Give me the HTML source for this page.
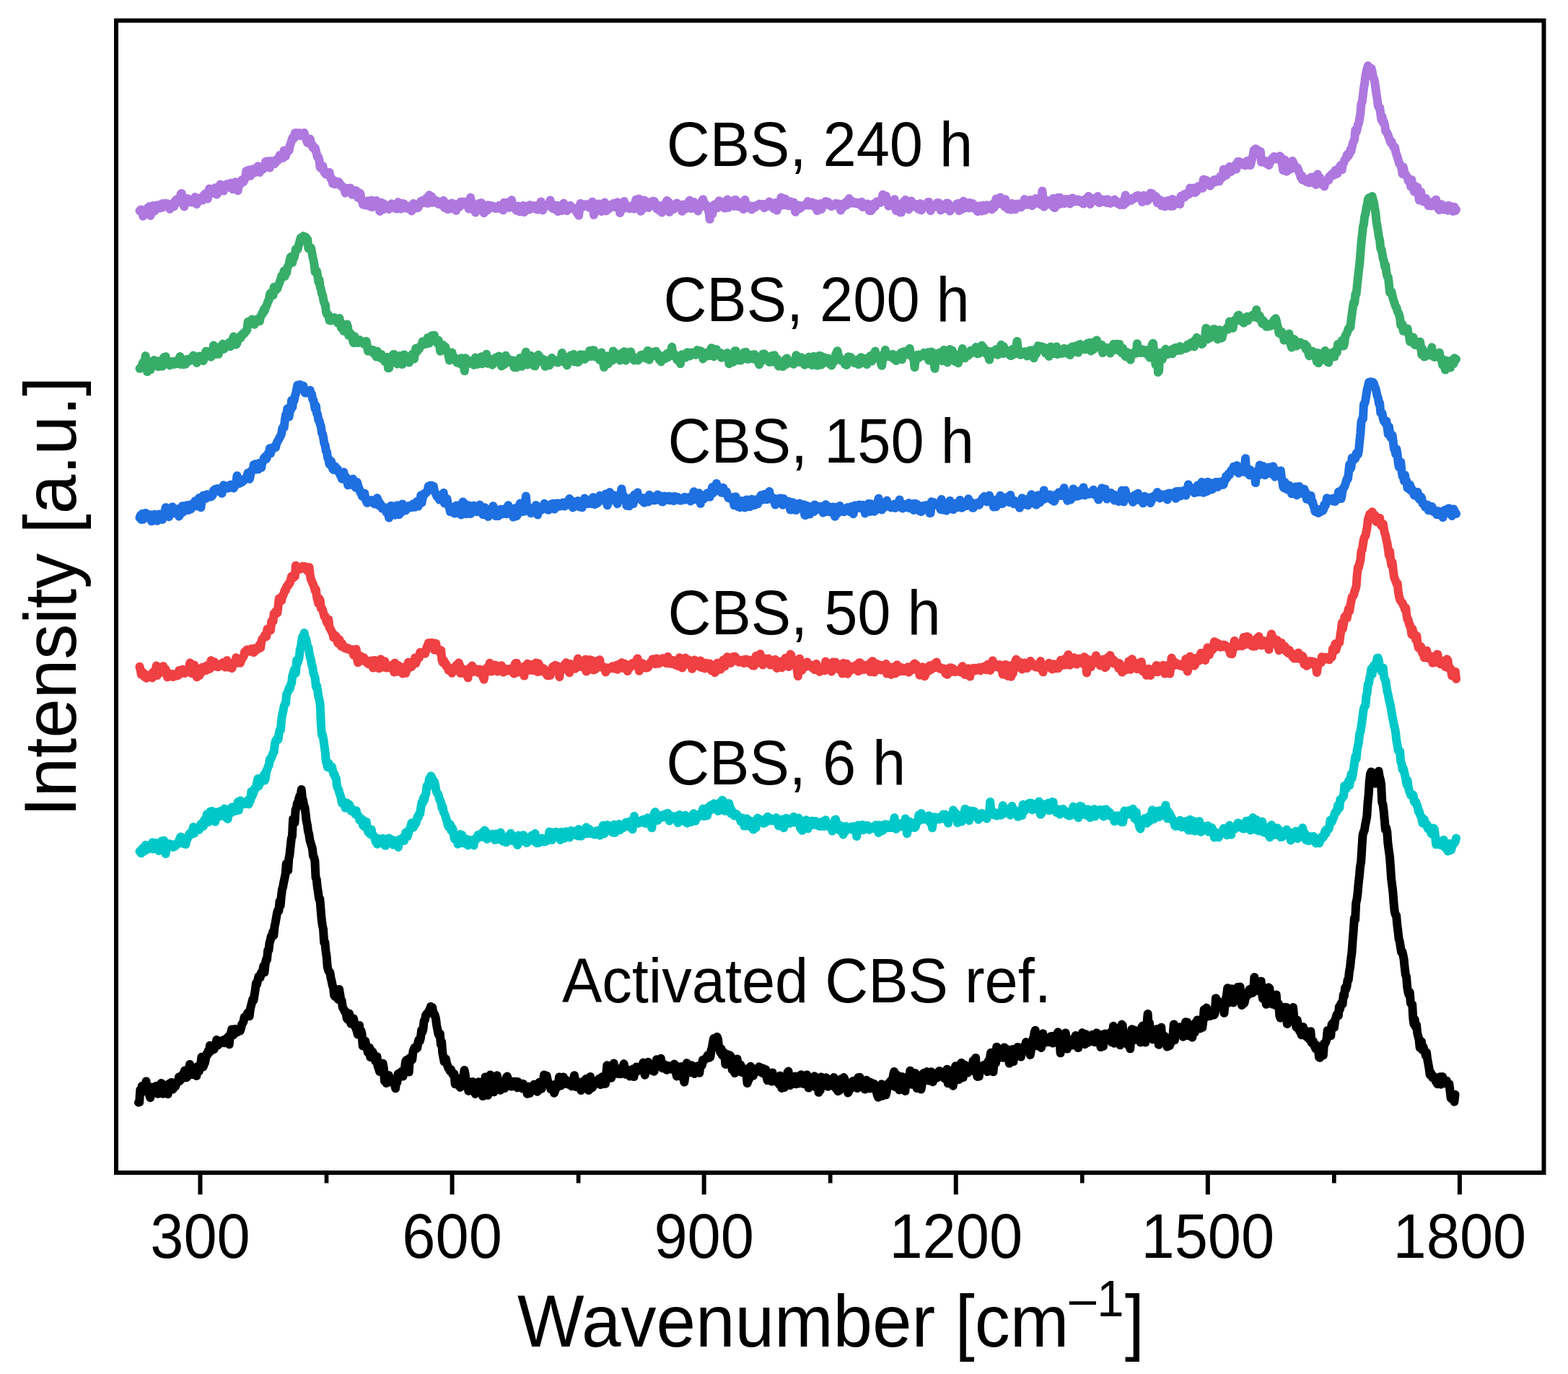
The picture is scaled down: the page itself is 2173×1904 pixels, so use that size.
<!DOCTYPE html>
<html><head><meta charset="utf-8"><title>Raman spectra</title>
<style>html,body{margin:0;padding:0;background:#fff;}svg{display:block;}</style>
</head><body>
<svg xmlns="http://www.w3.org/2000/svg" width="2173" height="1904" viewBox="0 0 2173 1904">
<rect width="2173" height="1904" fill="#fff"/>
<g fill="none" stroke-width="12" stroke-linejoin="round" stroke-linecap="round">
<path d="M192.0 1527.8 193.2 1527.3 194.3 1510.3 195.5 1514.8 196.7 1505.1 197.8 1505.5 199.0 1509.6 200.1 1506.4 201.3 1506.4 202.5 1498.4 203.6 1510.1 204.8 1509.9 206.0 1509.0 207.1 1517.8 208.3 1521.2 209.5 1514.8 210.6 1506.6 211.8 1509.4 212.9 1507.0 214.1 1507.2 215.3 1510.1 216.4 1504.9 217.6 1506.1 218.8 1515.8 219.9 1513.6 221.1 1505.9 222.3 1503.2 223.4 1501.0 224.6 1501.8 225.7 1515.8 226.9 1508.8 228.1 1504.6 229.2 1511.4 230.4 1514.5 231.6 1513.6 232.7 1516.3 233.9 1502.1 235.1 1508.2 236.2 1506.9 237.4 1499.9 238.5 1506.8 239.7 1509.5 240.9 1505.0 242.0 1501.2 243.2 1505.4 244.4 1500.9 245.5 1499.3 246.7 1499.4 247.9 1492.5 249.0 1498.0 250.2 1496.1 251.3 1495.5 252.5 1489.5 253.7 1493.8 254.8 1486.8 256.0 1483.5 257.2 1492.8 258.3 1493.3 259.5 1492.3 260.7 1486.5 261.8 1482.6 263.0 1474.9 264.1 1485.9 265.3 1488.2 266.5 1489.0 267.6 1482.6 268.8 1480.7 270.0 1484.3 271.1 1487.1 272.3 1490.9 273.5 1478.0 274.6 1480.3 275.8 1484.6 276.9 1478.2 278.1 1475.9 279.3 1464.8 280.4 1474.3 281.6 1478.5 282.8 1474.6 283.9 1473.0 285.1 1466.6 286.3 1460.5 287.4 1462.2 288.6 1455.9 289.7 1458.8 290.9 1448.7 292.1 1456.4 293.2 1450.0 294.4 1451.6 295.6 1451.7 296.7 1454.1 297.9 1449.5 299.1 1450.1 300.2 1440.9 301.4 1447.6 302.5 1448.2 303.7 1442.6 304.9 1446.1 306.0 1443.4 307.2 1444.5 308.4 1442.8 309.5 1441.0 310.7 1445.3 311.9 1442.4 313.0 1443.5 314.2 1438.7 315.3 1438.6 316.5 1436.2 317.7 1447.2 318.8 1434.5 320.0 1431.4 321.2 1426.4 322.3 1429.8 323.5 1434.3 324.7 1432.6 325.8 1426.0 327.0 1428.6 328.1 1429.2 329.3 1430.2 330.5 1427.6 331.6 1427.2 332.8 1428.5 334.0 1424.8 335.1 1419.6 336.3 1418.1 337.5 1415.4 338.6 1409.6 339.8 1409.4 340.9 1408.6 342.1 1406.3 343.3 1403.4 344.4 1403.2 345.6 1408.2 346.8 1398.3 347.9 1393.8 349.1 1389.4 350.2 1384.8 351.4 1386.2 352.6 1378.7 353.7 1372.1 354.9 1362.6 356.1 1364.1 357.2 1358.1 358.4 1353.1 359.6 1354.6 360.7 1354.5 361.9 1347.9 363.0 1349.0 364.2 1344.1 365.4 1338.6 366.5 1347.5 367.7 1335.5 368.9 1329.8 370.0 1329.7 371.2 1317.0 372.4 1316.7 373.5 1306.7 374.7 1302.9 375.8 1297.1 377.0 1298.2 378.2 1291.1 379.3 1296.2 380.5 1283.9 381.7 1278.6 382.8 1272.1 384.0 1265.0 385.2 1261.2 386.3 1262.5 387.5 1248.9 388.6 1254.9 389.8 1242.3 391.0 1232.5 392.1 1229.0 393.3 1222.1 394.5 1216.9 395.6 1211.5 396.8 1196.9 398.0 1202.3 399.1 1206.3 400.3 1189.6 401.4 1184.7 402.6 1173.3 403.8 1161.9 404.9 1158.7 406.1 1135.0 407.3 1135.3 408.4 1140.2 409.6 1122.1 410.8 1119.9 411.9 1113.0 413.1 1111.7 414.2 1106.8 415.4 1102.9 416.6 1104.1 417.7 1094.1 418.9 1105.3 420.1 1109.7 421.2 1115.6 422.4 1118.8 423.6 1128.1 424.7 1137.7 425.9 1143.0 427.0 1151.9 428.2 1155.9 429.4 1164.3 430.5 1167.9 431.7 1171.8 432.9 1175.8 434.0 1186.2 435.2 1188.1 436.4 1193.1 437.5 1215.9 438.7 1218.7 439.8 1229.4 441.0 1237.0 442.2 1245.6 443.3 1245.5 444.5 1259.9 445.7 1274.4 446.8 1282.2 448.0 1287.7 449.2 1306.4 450.3 1305.7 451.5 1318.1 452.6 1325.3 453.8 1340.1 455.0 1344.5 456.1 1346.8 457.3 1347.5 458.5 1355.3 459.6 1359.6 460.8 1365.7 462.0 1368.7 463.1 1379.2 464.3 1381.0 465.4 1376.9 466.6 1376.5 467.8 1381.3 468.9 1385.0 470.1 1370.9 471.3 1378.3 472.4 1386.2 473.6 1386.7 474.8 1396.1 475.9 1397.4 477.1 1400.2 478.2 1402.7 479.4 1402.0 480.6 1411.0 481.7 1412.5 482.9 1412.2 484.1 1404.6 485.2 1414.2 486.4 1418.7 487.6 1415.6 488.7 1418.7 489.9 1411.3 491.0 1416.5 492.2 1421.9 493.4 1425.6 494.5 1427.9 495.7 1433.5 496.9 1427.6 498.0 1420.9 499.2 1435.0 500.4 1428.3 501.5 1432.7 502.7 1449.5 503.8 1446.6 505.0 1443.7 506.2 1442.6 507.3 1448.0 508.5 1450.8 509.7 1458.3 510.8 1454.7 512.0 1451.7 513.2 1465.0 514.3 1461.8 515.5 1456.6 516.6 1458.0 517.8 1464.1 519.0 1461.9 520.1 1470.1 521.3 1471.4 522.5 1464.2 523.6 1477.5 524.8 1480.7 526.0 1484.9 527.1 1482.3 528.3 1483.0 529.4 1478.5 530.6 1473.5 531.8 1480.2 532.9 1498.0 534.1 1494.7 535.3 1501.0 536.4 1494.8 537.6 1497.6 538.8 1490.1 539.9 1493.4 541.1 1496.6 542.2 1499.7 543.4 1500.2 544.6 1499.8 545.7 1499.2 546.9 1501.0 548.1 1508.3 549.2 1499.4 550.4 1499.8 551.6 1488.1 552.7 1491.8 553.9 1492.0 555.0 1490.2 556.2 1485.0 557.4 1485.3 558.5 1491.5 559.7 1484.2 560.9 1480.4 562.0 1471.2 563.2 1469.1 564.4 1473.1 565.5 1473.7 566.7 1485.6 567.8 1465.9 569.0 1470.7 570.2 1464.4 571.3 1468.2 572.5 1456.8 573.7 1453.6 574.8 1451.4 576.0 1452.7 577.2 1453.0 578.3 1452.1 579.5 1443.7 580.6 1440.6 581.8 1442.7 583.0 1437.9 584.1 1427.4 585.3 1430.0 586.5 1425.9 587.6 1414.5 588.8 1413.7 590.0 1407.1 591.1 1405.0 592.3 1404.9 593.4 1402.9 594.6 1400.5 595.8 1398.7 596.9 1394.8 598.1 1398.7 599.3 1396.0 600.4 1405.4 601.6 1404.4 602.8 1407.0 603.9 1411.3 605.1 1420.6 606.2 1426.0 607.4 1432.4 608.6 1435.1 609.7 1432.3 610.9 1447.5 612.1 1443.7 613.2 1458.6 614.4 1464.8 615.6 1471.4 616.7 1469.7 617.9 1467.4 619.0 1473.4 620.2 1476.7 621.4 1480.4 622.5 1480.9 623.7 1484.3 624.9 1481.9 626.0 1485.2 627.2 1488.6 628.4 1489.1 629.5 1488.0 630.7 1502.3 631.8 1497.7 633.0 1499.1 634.2 1496.0 635.3 1503.9 636.5 1501.7 637.7 1506.8 638.8 1493.9 640.0 1495.2 641.1 1495.4 642.3 1492.6 643.5 1483.0 644.6 1487.9 645.8 1498.7 647.0 1501.2 648.1 1501.3 649.3 1511.7 650.5 1501.5 651.6 1499.6 652.8 1504.3 653.9 1501.1 655.1 1499.1 656.3 1500.7 657.4 1511.1 658.6 1515.9 659.8 1512.8 660.9 1504.1 662.1 1503.7 663.3 1499.2 664.4 1500.0 665.6 1501.7 666.7 1500.7 667.9 1504.6 669.1 1519.1 670.2 1502.4 671.4 1501.1 672.6 1492.4 673.7 1499.0 674.9 1510.6 676.1 1517.8 677.2 1504.1 678.4 1499.5 679.5 1489.4 680.7 1494.9 681.9 1499.5 683.0 1506.3 684.2 1513.3 685.4 1505.2 686.5 1502.8 687.7 1496.1 688.9 1490.3 690.0 1497.9 691.2 1498.6 692.3 1503.7 693.5 1510.8 694.7 1507.0 695.8 1507.1 697.0 1505.5 698.2 1505.0 699.3 1508.0 700.5 1500.0 701.7 1493.3 702.8 1491.6 704.0 1494.7 705.1 1503.2 706.3 1503.7 707.5 1499.6 708.6 1505.6 709.8 1504.7 711.0 1499.5 712.1 1498.7 713.3 1503.3 714.5 1499.9 715.6 1498.8 716.8 1507.3 717.9 1499.1 719.1 1504.2 720.3 1501.6 721.4 1502.8 722.6 1503.7 723.8 1508.4 724.9 1501.8 726.1 1505.7 727.3 1509.4 728.4 1507.1 729.6 1506.7 730.7 1515.7 731.9 1505.7 733.1 1508.7 734.2 1515.0 735.4 1508.7 736.6 1506.7 737.7 1506.8 738.9 1507.4 740.1 1502.7 741.2 1505.8 742.4 1509.1 743.5 1511.8 744.7 1512.7 745.9 1511.3 747.0 1500.1 748.2 1503.0 749.4 1504.4 750.5 1508.8 751.7 1502.7 752.9 1498.8 754.0 1489.5 755.2 1496.1 756.3 1501.8 757.5 1490.6 758.7 1496.4 759.8 1500.2 761.0 1502.8 762.2 1503.3 763.3 1509.3 764.5 1503.3 765.7 1506.9 766.8 1510.7 768.0 1514.8 769.1 1511.7 770.3 1502.3 771.5 1507.7 772.6 1506.1 773.8 1502.0 775.0 1492.4 776.1 1498.5 777.3 1504.5 778.5 1497.3 779.6 1497.3 780.8 1492.5 781.9 1501.9 783.1 1501.6 784.3 1496.5 785.4 1500.4 786.6 1500.4 787.8 1502.7 788.9 1499.4 790.1 1501.5 791.3 1500.9 792.4 1505.3 793.6 1502.7 794.7 1495.7 795.9 1490.2 797.1 1497.6 798.2 1506.0 799.4 1498.1 800.6 1501.0 801.7 1502.0 802.9 1501.2 804.1 1505.9 805.2 1511.0 806.4 1503.6 807.5 1500.9 808.7 1498.2 809.9 1500.3 811.0 1501.1 812.2 1494.9 813.4 1498.3 814.5 1508.0 815.7 1510.9 816.9 1510.0 818.0 1492.1 819.2 1502.5 820.3 1507.5 821.5 1506.3 822.7 1502.5 823.8 1501.7 825.0 1501.7 826.2 1500.0 827.3 1501.0 828.5 1496.9 829.7 1495.2 830.8 1497.0 832.0 1503.1 833.1 1497.5 834.3 1492.2 835.5 1500.9 836.6 1500.8 837.8 1502.0 839.0 1501.8 840.1 1488.7 841.3 1476.3 842.5 1478.2 843.6 1481.5 844.8 1481.4 845.9 1483.9 847.1 1493.8 848.3 1490.9 849.4 1479.6 850.6 1473.5 851.8 1482.7 852.9 1486.9 854.1 1482.7 855.3 1484.2 856.4 1488.0 857.6 1482.4 858.7 1482.9 859.9 1488.3 861.1 1479.9 862.2 1483.0 863.4 1477.7 864.6 1474.1 865.7 1479.3 866.9 1488.7 868.1 1482.9 869.2 1485.1 870.4 1486.8 871.5 1483.1 872.7 1491.4 873.9 1484.3 875.0 1485.3 876.2 1486.6 877.4 1481.2 878.5 1492.1 879.7 1482.2 880.9 1481.1 882.0 1478.4 883.2 1484.3 884.3 1480.5 885.5 1482.3 886.7 1478.5 887.8 1479.8 889.0 1480.3 890.2 1477.9 891.3 1472.6 892.5 1484.4 893.7 1489.7 894.8 1478.9 896.0 1474.9 897.1 1474.3 898.3 1471.7 899.5 1478.9 900.6 1477.2 901.8 1478.5 903.0 1483.4 904.1 1482.6 905.3 1484.4 906.5 1484.7 907.6 1478.7 908.8 1476.5 909.9 1468.2 911.1 1471.4 912.3 1473.8 913.4 1471.6 914.6 1472.4 915.8 1466.7 916.9 1474.2 918.1 1480.2 919.3 1474.6 920.4 1474.9 921.6 1476.7 922.7 1480.1 923.9 1482.7 925.1 1476.7 926.2 1479.3 927.4 1479.0 928.6 1478.2 929.7 1479.5 930.9 1481.8 932.0 1476.5 933.2 1478.4 934.4 1474.5 935.5 1480.8 936.7 1486.2 937.9 1491.4 939.0 1478.0 940.2 1479.3 941.4 1483.8 942.5 1481.8 943.7 1477.9 944.8 1482.5 946.0 1488.6 947.2 1495.2 948.3 1499.5 949.5 1491.7 950.7 1480.8 951.8 1473.1 953.0 1477.5 954.2 1484.7 955.3 1485.8 956.5 1486.0 957.6 1480.5 958.8 1476.3 960.0 1481.0 961.1 1485.1 962.3 1487.9 963.5 1478.4 964.6 1484.2 965.8 1483.3 967.0 1477.3 968.1 1478.0 969.3 1486.7 970.4 1477.4 971.6 1474.8 972.8 1476.4 973.9 1468.9 975.1 1470.3 976.3 1467.8 977.4 1467.1 978.6 1465.9 979.8 1464.4 980.9 1462.0 982.1 1466.0 983.2 1464.4 984.4 1464.8 985.6 1455.1 986.7 1452.2 987.9 1444.9 989.1 1439.0 990.2 1439.4 991.4 1444.1 992.6 1440.3 993.7 1436.8 994.9 1439.7 996.0 1449.2 997.2 1453.6 998.4 1458.5 999.5 1453.4 1000.7 1462.1 1001.9 1459.3 1003.0 1458.3 1004.2 1461.6 1005.4 1475.0 1006.5 1473.7 1007.7 1460.9 1008.8 1466.0 1010.0 1470.8 1011.2 1462.2 1012.3 1463.1 1013.5 1467.8 1014.7 1482.4 1015.8 1480.0 1017.0 1481.5 1018.2 1487.1 1019.3 1484.3 1020.5 1480.7 1021.6 1467.5 1022.8 1476.1 1024.0 1482.5 1025.1 1478.4 1026.3 1475.6 1027.5 1485.8 1028.6 1485.9 1029.8 1480.9 1031.0 1482.7 1032.1 1485.4 1033.3 1481.3 1034.4 1489.0 1035.6 1501.1 1036.8 1497.5 1037.9 1495.7 1039.1 1488.2 1040.3 1477.7 1041.4 1479.8 1042.6 1490.7 1043.8 1490.7 1044.9 1486.0 1046.1 1485.0 1047.2 1481.6 1048.4 1485.2 1049.6 1481.5 1050.7 1482.8 1051.9 1478.3 1053.1 1482.5 1054.2 1479.4 1055.4 1486.1 1056.6 1487.2 1057.7 1480.7 1058.9 1485.0 1060.0 1487.4 1061.2 1482.2 1062.4 1492.0 1063.5 1497.1 1064.7 1491.2 1065.9 1493.7 1067.0 1489.1 1068.2 1493.7 1069.4 1498.6 1070.5 1486.4 1071.7 1496.4 1072.8 1492.9 1074.0 1498.2 1075.2 1497.5 1076.3 1499.1 1077.5 1495.8 1078.7 1496.9 1079.8 1502.7 1081.0 1490.7 1082.2 1493.7 1083.3 1507.9 1084.5 1504.4 1085.6 1495.4 1086.8 1507.1 1088.0 1497.4 1089.1 1503.4 1090.3 1502.5 1091.5 1485.9 1092.6 1484.6 1093.8 1495.0 1095.0 1504.0 1096.1 1500.5 1097.3 1496.5 1098.4 1500.1 1099.6 1494.1 1100.8 1492.8 1101.9 1491.6 1103.1 1502.2 1104.3 1497.3 1105.4 1492.5 1106.6 1491.3 1107.8 1501.4 1108.9 1492.3 1110.1 1489.2 1111.2 1491.9 1112.4 1497.7 1113.6 1501.9 1114.7 1492.5 1115.9 1502.1 1117.1 1497.0 1118.2 1489.4 1119.4 1500.7 1120.6 1507.6 1121.7 1503.7 1122.9 1494.4 1124.0 1498.4 1125.2 1497.9 1126.4 1502.0 1127.5 1496.6 1128.7 1491.3 1129.9 1504.5 1131.0 1506.8 1132.2 1498.5 1133.4 1496.2 1134.5 1513.8 1135.7 1509.4 1136.8 1510.9 1138.0 1492.6 1139.2 1500.5 1140.3 1499.9 1141.5 1497.3 1142.7 1504.1 1143.8 1500.7 1145.0 1493.3 1146.2 1497.7 1147.3 1505.8 1148.5 1503.8 1149.6 1500.3 1150.8 1503.7 1152.0 1498.8 1153.1 1504.4 1154.3 1503.8 1155.5 1493.1 1156.6 1503.5 1157.8 1507.5 1159.0 1508.7 1160.1 1508.8 1161.3 1512.2 1162.4 1509.6 1163.6 1511.1 1164.8 1504.0 1165.9 1494.9 1167.1 1499.6 1168.3 1500.5 1169.4 1493.0 1170.6 1495.8 1171.8 1501.4 1172.9 1499.3 1174.1 1503.7 1175.2 1514.5 1176.4 1512.2 1177.6 1508.3 1178.7 1502.5 1179.9 1505.2 1181.1 1507.1 1182.2 1498.0 1183.4 1498.7 1184.6 1503.6 1185.7 1500.2 1186.9 1502.1 1188.0 1508.1 1189.2 1493.2 1190.4 1499.5 1191.5 1492.8 1192.7 1498.8 1193.9 1499.9 1195.0 1501.6 1196.2 1498.7 1197.4 1504.2 1198.5 1509.6 1199.7 1504.2 1200.8 1496.7 1202.0 1501.4 1203.2 1504.0 1204.3 1502.9 1205.5 1508.5 1206.7 1499.9 1207.8 1501.9 1209.0 1502.9 1210.2 1508.5 1211.3 1501.8 1212.5 1506.9 1213.6 1508.9 1214.8 1513.3 1216.0 1518.1 1217.1 1520.8 1218.3 1510.1 1219.5 1510.4 1220.6 1508.4 1221.8 1502.3 1222.9 1518.8 1224.1 1515.5 1225.3 1510.0 1226.4 1511.5 1227.6 1517.3 1228.8 1512.1 1229.9 1507.6 1231.1 1501.5 1232.3 1500.3 1233.4 1500.9 1234.6 1497.4 1235.7 1504.0 1236.9 1496.7 1238.1 1489.1 1239.2 1485.0 1240.4 1505.9 1241.6 1497.0 1242.7 1505.0 1243.9 1490.2 1245.1 1493.2 1246.2 1510.4 1247.4 1499.7 1248.5 1507.7 1249.7 1503.3 1250.9 1492.1 1252.0 1494.0 1253.2 1500.7 1254.4 1511.9 1255.5 1499.0 1256.7 1496.3 1257.9 1496.4 1259.0 1492.4 1260.2 1492.7 1261.3 1483.7 1262.5 1493.2 1263.7 1502.8 1264.8 1499.2 1266.0 1496.5 1267.2 1493.0 1268.3 1487.1 1269.5 1493.8 1270.7 1508.1 1271.8 1494.6 1273.0 1494.0 1274.1 1507.8 1275.3 1502.4 1276.5 1509.5 1277.6 1503.2 1278.8 1488.5 1280.0 1487.0 1281.1 1492.4 1282.3 1490.2 1283.5 1495.0 1284.6 1485.1 1285.8 1490.9 1286.9 1497.6 1288.1 1493.0 1289.3 1493.3 1290.4 1485.3 1291.6 1489.0 1292.8 1499.2 1293.9 1493.6 1295.1 1490.5 1296.3 1490.9 1297.4 1493.7 1298.6 1493.5 1299.7 1493.0 1300.9 1484.8 1302.1 1483.9 1303.2 1489.8 1304.4 1490.1 1305.6 1490.6 1306.7 1486.5 1307.9 1489.1 1309.1 1494.8 1310.2 1491.1 1311.4 1493.8 1312.5 1481.7 1313.7 1501.3 1314.9 1488.1 1316.0 1487.9 1317.2 1491.2 1318.4 1483.5 1319.5 1486.3 1320.7 1504.7 1321.9 1498.4 1323.0 1487.9 1324.2 1477.2 1325.3 1486.8 1326.5 1483.2 1327.7 1483.2 1328.8 1496.1 1330.0 1485.6 1331.2 1476.7 1332.3 1472.7 1333.5 1484.9 1334.7 1493.1 1335.8 1481.5 1337.0 1475.7 1338.1 1482.4 1339.3 1480.9 1340.5 1484.0 1341.6 1486.5 1342.8 1480.2 1344.0 1481.9 1345.1 1483.1 1346.3 1480.5 1347.5 1477.2 1348.6 1469.7 1349.8 1471.5 1350.9 1484.9 1352.1 1466.1 1353.3 1485.1 1354.4 1492.0 1355.6 1481.2 1356.8 1491.5 1357.9 1481.9 1359.1 1478.6 1360.3 1478.1 1361.4 1478.9 1362.6 1481.0 1363.7 1475.8 1364.9 1480.8 1366.1 1477.9 1367.2 1479.5 1368.4 1485.1 1369.6 1470.4 1370.7 1469.9 1371.9 1466.4 1373.1 1458.8 1374.2 1470.2 1375.4 1473.3 1376.5 1485.3 1377.7 1471.5 1378.9 1467.7 1380.0 1472.9 1381.2 1450.7 1382.4 1460.8 1383.5 1466.4 1384.7 1457.5 1385.9 1457.5 1387.0 1463.2 1388.2 1465.0 1389.3 1460.7 1390.5 1465.7 1391.7 1451.6 1392.8 1463.9 1394.0 1456.7 1395.2 1453.7 1396.3 1457.2 1397.5 1458.8 1398.7 1473.6 1399.8 1469.0 1401.0 1458.2 1402.1 1454.6 1403.3 1454.0 1404.5 1470.9 1405.6 1459.2 1406.8 1464.7 1408.0 1456.1 1409.1 1454.2 1410.3 1450.9 1411.5 1453.9 1412.6 1452.8 1413.8 1459.1 1414.9 1464.6 1416.1 1457.3 1417.3 1451.1 1418.4 1455.9 1419.6 1453.9 1420.8 1449.8 1421.9 1444.1 1423.1 1445.4 1424.3 1450.9 1425.4 1445.1 1426.6 1453.0 1427.7 1461.9 1428.9 1455.5 1430.1 1448.8 1431.2 1440.0 1432.4 1438.2 1433.6 1430.7 1434.7 1427.7 1435.9 1441.0 1437.1 1449.2 1438.2 1447.8 1439.4 1444.0 1440.5 1445.6 1441.7 1448.0 1442.9 1452.1 1444.0 1447.0 1445.2 1432.2 1446.4 1440.8 1447.5 1437.6 1448.7 1444.8 1449.9 1441.9 1451.0 1438.7 1452.2 1442.7 1453.3 1442.5 1454.5 1444.2 1455.7 1436.6 1456.8 1435.9 1458.0 1441.7 1459.2 1445.6 1460.3 1435.4 1461.5 1440.9 1462.7 1440.4 1463.8 1438.1 1465.0 1440.5 1466.1 1430.3 1467.3 1433.5 1468.5 1440.7 1469.6 1459.2 1470.8 1442.3 1472.0 1435.6 1473.1 1451.1 1474.3 1436.9 1475.5 1439.1 1476.6 1431.4 1477.8 1438.0 1478.9 1453.6 1480.1 1450.7 1481.3 1443.1 1482.4 1442.6 1483.6 1443.6 1484.8 1446.2 1485.9 1448.6 1487.1 1445.5 1488.3 1439.0 1489.4 1441.1 1490.6 1434.9 1491.7 1444.4 1492.9 1436.9 1494.1 1452.1 1495.2 1436.0 1496.4 1436.3 1497.6 1442.3 1498.7 1438.7 1499.9 1431.1 1501.1 1433.2 1502.2 1444.7 1503.4 1447.2 1504.5 1432.9 1505.7 1436.9 1506.9 1438.6 1508.0 1444.8 1509.2 1441.8 1510.4 1438.8 1511.5 1443.0 1512.7 1439.2 1513.8 1433.8 1515.0 1440.9 1516.2 1437.8 1517.3 1444.3 1518.5 1438.7 1519.7 1431.3 1520.8 1440.0 1522.0 1438.9 1523.2 1438.4 1524.3 1442.5 1525.5 1451.1 1526.6 1433.8 1527.8 1439.8 1529.0 1449.7 1530.1 1435.8 1531.3 1432.5 1532.5 1437.7 1533.6 1439.1 1534.8 1437.4 1536.0 1438.4 1537.1 1440.9 1538.3 1441.1 1539.4 1430.2 1540.6 1444.3 1541.8 1439.6 1542.9 1421.8 1544.1 1445.7 1545.3 1439.2 1546.4 1436.5 1547.6 1435.8 1548.8 1430.2 1549.9 1427.4 1551.1 1440.4 1552.2 1448.2 1553.4 1440.9 1554.6 1419.6 1555.7 1421.0 1556.9 1434.4 1558.1 1437.0 1559.2 1438.8 1560.4 1445.5 1561.6 1445.9 1562.7 1447.5 1563.9 1435.1 1565.0 1439.1 1566.2 1453.3 1567.4 1439.7 1568.5 1426.2 1569.7 1442.3 1570.9 1435.5 1572.0 1427.5 1573.2 1428.7 1574.4 1430.8 1575.5 1430.9 1576.7 1428.2 1577.8 1431.6 1579.0 1431.0 1580.2 1444.5 1581.3 1436.2 1582.5 1422.8 1583.7 1421.4 1584.8 1434.9 1586.0 1433.4 1587.2 1444.6 1588.3 1429.1 1589.5 1417.4 1590.6 1405.0 1591.8 1424.0 1593.0 1417.6 1594.1 1426.8 1595.3 1428.2 1596.5 1432.7 1597.6 1440.4 1598.8 1428.4 1600.0 1432.1 1601.1 1436.6 1602.3 1429.7 1603.4 1426.0 1604.6 1430.7 1605.8 1447.8 1606.9 1443.8 1608.1 1433.3 1609.3 1423.7 1610.4 1439.7 1611.6 1438.0 1612.8 1435.9 1613.9 1435.7 1615.1 1439.7 1616.2 1440.0 1617.4 1450.6 1618.6 1442.2 1619.7 1447.7 1620.9 1449.0 1622.1 1446.0 1623.2 1437.2 1624.4 1436.5 1625.6 1433.4 1626.7 1419.6 1627.9 1441.4 1629.0 1426.9 1630.2 1430.4 1631.4 1432.2 1632.5 1433.5 1633.7 1426.7 1634.9 1423.2 1636.0 1432.1 1637.2 1432.9 1638.4 1434.0 1639.5 1436.7 1640.7 1422.9 1641.8 1429.1 1643.0 1416.3 1644.2 1421.9 1645.3 1416.7 1646.5 1435.3 1647.7 1428.9 1648.8 1430.2 1650.0 1433.8 1651.2 1432.6 1652.3 1437.6 1653.5 1428.1 1654.6 1429.1 1655.8 1430.8 1657.0 1416.8 1658.1 1420.6 1659.3 1413.4 1660.5 1420.7 1661.6 1419.1 1662.8 1425.4 1664.0 1418.9 1665.1 1413.5 1666.3 1423.7 1667.4 1414.6 1668.6 1399.1 1669.8 1409.1 1670.9 1409.7 1672.1 1396.6 1673.3 1403.1 1674.4 1407.3 1675.6 1407.8 1676.8 1408.0 1677.9 1405.2 1679.1 1404.2 1680.2 1404.6 1681.4 1402.7 1682.6 1406.5 1683.7 1403.8 1684.9 1383.3 1686.1 1388.7 1687.2 1386.3 1688.4 1390.4 1689.6 1390.2 1690.7 1394.2 1691.9 1394.1 1693.0 1397.2 1694.2 1392.2 1695.4 1391.7 1696.5 1403.8 1697.7 1390.0 1698.9 1383.7 1700.0 1379.1 1701.2 1369.3 1702.4 1389.8 1703.5 1383.3 1704.7 1377.4 1705.8 1379.8 1707.0 1370.3 1708.2 1373.6 1709.3 1389.5 1710.5 1385.6 1711.7 1376.8 1712.8 1375.1 1714.0 1369.7 1715.2 1368.0 1716.3 1373.9 1717.5 1371.6 1718.6 1367.6 1719.8 1382.1 1721.0 1393.0 1722.1 1385.4 1723.3 1390.9 1724.5 1389.9 1725.6 1384.5 1726.8 1381.7 1728.0 1378.9 1729.1 1378.8 1730.3 1375.1 1731.4 1371.1 1732.6 1375.0 1733.8 1376.5 1734.9 1375.1 1736.1 1375.7 1737.3 1368.2 1738.4 1354.3 1739.6 1363.7 1740.8 1366.8 1741.9 1370.3 1743.1 1369.9 1744.2 1373.2 1745.4 1369.4 1746.6 1371.6 1747.7 1359.8 1748.9 1377.1 1750.1 1383.9 1751.2 1384.3 1752.4 1383.4 1753.6 1374.3 1754.7 1391.7 1755.9 1378.7 1757.0 1371.6 1758.2 1368.3 1759.4 1369.6 1760.5 1383.0 1761.7 1386.8 1762.9 1391.4 1764.0 1391.0 1765.2 1389.9 1766.4 1386.2 1767.5 1393.2 1768.7 1378.5 1769.8 1394.0 1771.0 1389.8 1772.2 1391.6 1773.3 1407.3 1774.5 1410.7 1775.7 1404.2 1776.8 1397.8 1778.0 1401.2 1779.2 1400.2 1780.3 1395.8 1781.5 1398.6 1782.6 1395.9 1783.8 1418.9 1785.0 1404.4 1786.1 1404.7 1787.3 1403.9 1788.5 1409.6 1789.6 1410.5 1790.8 1412.4 1792.0 1396.1 1793.1 1407.2 1794.3 1415.9 1795.4 1418.8 1796.6 1423.7 1797.8 1413.7 1798.9 1422.1 1800.1 1426.1 1801.3 1429.3 1802.4 1429.9 1803.6 1434.2 1804.7 1425.0 1805.9 1422.9 1807.1 1430.4 1808.2 1427.3 1809.4 1434.5 1810.6 1436.9 1811.7 1429.9 1812.9 1437.2 1814.1 1439.8 1815.2 1439.2 1816.4 1429.3 1817.5 1444.4 1818.7 1446.0 1819.9 1442.7 1821.0 1445.8 1822.2 1450.7 1823.4 1453.5 1824.5 1448.5 1825.7 1454.7 1826.9 1454.4 1828.0 1465.1 1829.2 1465.8 1830.3 1463.8 1831.5 1458.3 1832.7 1456.3 1833.8 1462.3 1835.0 1446.3 1836.2 1446.2 1837.3 1444.1 1838.5 1440.0 1839.7 1427.9 1840.8 1431.9 1842.0 1429.3 1843.1 1427.6 1844.3 1435.3 1845.5 1419.6 1846.6 1422.2 1847.8 1416.9 1849.0 1423.8 1850.1 1414.5 1851.3 1410.3 1852.5 1406.0 1853.6 1406.6 1854.8 1407.4 1855.9 1395.1 1857.1 1398.4 1858.3 1391.0 1859.4 1389.3 1860.6 1391.4 1861.8 1378.4 1862.9 1380.5 1864.1 1368.6 1865.3 1370.8 1866.4 1367.3 1867.6 1357.9 1868.7 1358.0 1869.9 1346.4 1871.1 1340.2 1872.2 1328.8 1873.4 1320.7 1874.6 1303.6 1875.7 1290.2 1876.9 1272.2 1878.1 1274.5 1879.2 1251.3 1880.4 1246.3 1881.5 1238.1 1882.7 1224.1 1883.9 1213.7 1885.0 1201.0 1886.2 1194.4 1887.4 1174.6 1888.5 1157.4 1889.7 1153.1 1890.9 1150.5 1892.0 1143.0 1893.2 1137.3 1894.3 1131.3 1895.5 1112.6 1896.7 1101.1 1897.8 1082.9 1899.0 1072.7 1900.2 1069.6 1901.3 1078.3 1902.5 1074.5 1903.7 1076.8 1904.8 1077.5 1906.0 1085.8 1907.1 1073.0 1908.3 1073.1 1909.5 1074.3 1910.6 1068.7 1911.8 1076.5 1913.0 1080.6 1914.1 1086.8 1915.3 1111.8 1916.5 1114.8 1917.6 1123.5 1918.8 1136.1 1919.9 1149.7 1921.1 1147.0 1922.3 1153.0 1923.4 1168.4 1924.6 1177.6 1925.8 1185.8 1926.9 1199.3 1928.1 1217.7 1929.3 1227.1 1930.4 1236.2 1931.6 1252.5 1932.7 1262.9 1933.9 1267.6 1935.1 1268.5 1936.2 1281.0 1937.4 1290.2 1938.6 1301.2 1939.7 1304.5 1940.9 1312.2 1942.1 1319.6 1943.2 1318.5 1944.4 1323.1 1945.5 1328.8 1946.7 1340.8 1947.9 1350.9 1949.0 1353.3 1950.2 1367.8 1951.4 1374.7 1952.5 1378.5 1953.7 1375.1 1954.9 1390.1 1956.0 1391.4 1957.2 1392.0 1958.3 1411.0 1959.5 1419.4 1960.7 1413.0 1961.8 1423.0 1963.0 1420.2 1964.2 1431.3 1965.3 1436.0 1966.5 1440.1 1967.7 1451.8 1968.8 1445.2 1970.0 1443.1 1971.1 1454.8 1972.3 1450.2 1973.5 1453.8 1974.6 1456.8 1975.8 1462.9 1977.0 1458.6 1978.1 1467.4 1979.3 1473.8 1980.5 1480.6 1981.6 1489.4 1982.8 1486.3 1983.9 1489.1 1985.1 1493.3 1986.3 1490.8 1987.4 1494.4 1988.6 1494.8 1989.8 1498.5 1990.9 1500.1 1992.1 1502.2 1993.3 1501.1 1994.4 1498.6 1995.6 1492.2 1996.7 1502.7 1997.9 1499.7 1999.1 1492.1 2000.2 1500.0 2001.4 1499.4 2002.6 1501.3 2003.7 1497.5 2004.9 1497.7 2006.1 1501.1 2007.2 1502.8 2008.4 1502.1 2009.5 1511.5 2010.7 1521.7 2011.9 1522.8 2013.0 1521.5 2014.2 1517.4 2015.4 1526.7 2016.5 1516.8" stroke="#000000"/>
<path d="M193.5 1179.8 194.7 1180.0 195.8 1182.5 197.0 1175.8 198.2 1179.4 199.3 1179.9 200.5 1174.9 201.6 1171.1 202.8 1174.9 204.0 1177.4 205.1 1176.0 206.3 1172.0 207.5 1173.7 208.6 1174.4 209.8 1170.0 211.0 1167.5 212.1 1176.6 213.3 1173.3 214.4 1170.1 215.6 1168.0 216.8 1169.4 217.9 1171.0 219.1 1177.3 220.3 1179.1 221.4 1172.5 222.6 1173.0 223.8 1165.5 224.9 1168.6 226.1 1165.3 227.2 1164.7 228.4 1171.1 229.6 1183.2 230.7 1175.8 231.9 1173.3 233.1 1171.1 234.2 1169.3 235.4 1169.7 236.6 1170.6 237.7 1173.0 238.9 1170.3 240.0 1174.0 241.2 1171.5 242.4 1172.9 243.5 1170.4 244.7 1170.7 245.9 1168.3 247.0 1168.3 248.2 1165.2 249.4 1161.9 250.5 1159.5 251.7 1166.5 252.8 1165.8 254.0 1169.2 255.2 1167.2 256.3 1163.7 257.5 1170.0 258.7 1163.2 259.8 1162.6 261.0 1159.1 262.2 1155.9 263.3 1154.5 264.5 1154.2 265.6 1156.2 266.8 1150.6 268.0 1146.0 269.1 1154.6 270.3 1147.9 271.5 1149.4 272.6 1148.6 273.8 1147.7 275.0 1146.2 276.1 1149.7 277.3 1145.2 278.4 1142.1 279.6 1141.0 280.8 1140.2 281.9 1145.0 283.1 1136.3 284.3 1137.5 285.4 1135.4 286.6 1128.4 287.8 1133.0 288.9 1139.2 290.1 1135.3 291.2 1124.7 292.4 1129.0 293.6 1123.9 294.7 1132.9 295.9 1127.0 297.1 1126.0 298.2 1138.7 299.4 1131.9 300.6 1129.5 301.7 1125.3 302.9 1130.3 304.0 1131.2 305.2 1131.3 306.4 1123.7 307.5 1127.9 308.7 1129.5 309.9 1127.3 311.0 1120.6 312.2 1127.2 313.4 1129.0 314.5 1134.2 315.7 1134.8 316.8 1122.2 318.0 1123.6 319.2 1126.1 320.3 1126.4 321.5 1118.5 322.7 1119.6 323.8 1121.3 325.0 1122.0 326.2 1123.9 327.3 1122.1 328.5 1118.7 329.6 1111.2 330.8 1122.7 332.0 1115.8 333.1 1109.4 334.3 1111.4 335.5 1113.6 336.6 1111.9 337.8 1111.9 339.0 1114.2 340.1 1113.9 341.3 1110.9 342.4 1111.3 343.6 1108.5 344.8 1114.4 345.9 1107.5 347.1 1110.0 348.3 1096.9 349.4 1103.5 350.6 1099.8 351.7 1098.2 352.9 1092.7 354.1 1092.7 355.2 1088.9 356.4 1083.5 357.6 1078.9 358.7 1089.2 359.9 1085.7 361.1 1080.7 362.2 1079.7 363.4 1080.2 364.5 1080.6 365.7 1073.6 366.9 1081.4 368.0 1077.9 369.2 1067.7 370.4 1066.5 371.5 1062.5 372.7 1060.6 373.9 1052.1 375.0 1052.3 376.2 1049.8 377.3 1046.4 378.5 1043.4 379.7 1041.7 380.8 1032.0 382.0 1026.4 383.2 1024.9 384.3 1023.1 385.5 1024.9 386.7 1016.0 387.8 1011.5 389.0 1011.2 390.1 996.9 391.3 989.9 392.5 985.0 393.6 978.6 394.8 975.9 396.0 975.1 397.1 962.1 398.3 960.1 399.5 957.5 400.6 953.3 401.8 954.1 402.9 948.8 404.1 946.6 405.3 936.2 406.4 933.4 407.6 928.4 408.8 933.3 409.9 932.6 411.1 915.0 412.3 919.2 413.4 915.4 414.6 911.7 415.7 900.1 416.9 896.1 418.1 888.3 419.2 882.2 420.4 884.9 421.6 877.1 422.7 884.3 423.9 885.0 425.1 889.9 426.2 897.0 427.4 896.9 428.5 904.2 429.7 910.1 430.9 914.2 432.0 921.0 433.2 924.0 434.4 933.0 435.5 935.9 436.7 939.2 437.9 951.9 439.0 950.0 440.2 957.2 441.3 964.7 442.5 969.4 443.7 976.6 444.8 1002.7 446.0 1018.6 447.2 1019.0 448.3 1024.8 449.5 1033.9 450.7 1041.9 451.8 1054.8 453.0 1059.3 454.1 1063.4 455.3 1057.3 456.5 1061.4 457.6 1063.1 458.8 1063.3 460.0 1062.5 461.1 1067.6 462.3 1072.6 463.5 1072.8 464.6 1077.1 465.8 1078.7 466.9 1089.0 468.1 1092.4 469.3 1094.1 470.4 1099.0 471.6 1101.9 472.8 1106.7 473.9 1113.0 475.1 1109.7 476.3 1112.2 477.4 1111.7 478.6 1119.6 479.7 1116.1 480.9 1112.7 482.1 1114.2 483.2 1114.2 484.4 1115.6 485.6 1118.7 486.7 1123.8 487.9 1122.4 489.1 1122.1 490.2 1124.2 491.4 1124.9 492.5 1128.5 493.7 1123.4 494.9 1128.2 496.0 1130.3 497.2 1131.1 498.4 1136.6 499.5 1134.8 500.7 1136.9 501.9 1135.3 503.0 1143.7 504.2 1143.4 505.3 1145.7 506.5 1143.2 507.7 1138.8 508.8 1146.8 510.0 1152.2 511.2 1154.2 512.3 1152.2 513.5 1156.1 514.7 1149.7 515.8 1156.3 517.0 1157.0 518.1 1159.5 519.3 1159.9 520.5 1166.4 521.6 1163.6 522.8 1169.8 524.0 1161.9 525.1 1165.0 526.3 1166.3 527.5 1168.1 528.6 1166.2 529.8 1166.3 530.9 1161.8 532.1 1165.4 533.3 1171.4 534.4 1171.7 535.6 1169.1 536.8 1163.8 537.9 1162.1 539.1 1161.5 540.3 1167.1 541.4 1165.8 542.6 1163.3 543.7 1165.3 544.9 1170.6 546.1 1167.2 547.2 1169.2 548.4 1169.4 549.6 1164.8 550.7 1169.1 551.9 1173.9 553.1 1166.4 554.2 1163.0 555.4 1164.0 556.5 1162.1 557.7 1161.4 558.9 1160.4 560.0 1165.1 561.2 1160.0 562.4 1153.4 563.5 1157.9 564.7 1159.2 565.9 1155.5 567.0 1150.2 568.2 1148.3 569.3 1145.2 570.5 1140.3 571.7 1144.4 572.8 1146.7 574.0 1144.1 575.2 1141.4 576.3 1141.1 577.5 1136.8 578.7 1131.6 579.8 1132.6 581.0 1127.3 582.1 1127.7 583.3 1119.1 584.5 1112.1 585.6 1113.4 586.8 1105.7 588.0 1108.6 589.1 1102.3 590.3 1100.1 591.5 1089.3 592.6 1090.3 593.8 1087.1 594.9 1079.1 596.1 1079.5 597.3 1075.2 598.4 1077.4 599.6 1080.1 600.8 1083.7 601.9 1082.8 603.1 1087.1 604.3 1095.4 605.4 1098.5 606.6 1099.8 607.7 1101.7 608.9 1107.3 610.1 1109.3 611.2 1112.0 612.4 1119.5 613.6 1118.0 614.7 1125.2 615.9 1127.3 617.1 1130.4 618.2 1133.8 619.4 1137.7 620.5 1142.7 621.7 1145.9 622.9 1141.6 624.0 1142.6 625.2 1150.6 626.4 1147.0 627.5 1149.0 628.7 1156.2 629.9 1162.8 631.0 1160.8 632.2 1158.8 633.3 1160.2 634.5 1169.7 635.7 1165.5 636.8 1163.7 638.0 1156.1 639.2 1160.6 640.3 1157.3 641.5 1168.4 642.6 1163.3 643.8 1161.9 645.0 1164.6 646.1 1162.5 647.3 1165.6 648.5 1171.5 649.6 1169.0 650.8 1164.1 652.0 1169.3 653.1 1164.7 654.3 1164.3 655.4 1163.9 656.6 1171.5 657.8 1162.9 658.9 1163.9 660.1 1162.8 661.3 1162.1 662.4 1157.0 663.6 1157.9 664.8 1160.0 665.9 1158.1 667.1 1157.3 668.2 1153.8 669.4 1158.3 670.6 1160.2 671.7 1150.8 672.9 1152.1 674.1 1159.8 675.2 1162.9 676.4 1159.1 677.6 1159.1 678.7 1156.5 679.9 1156.4 681.0 1157.5 682.2 1155.8 683.4 1157.3 684.5 1156.0 685.7 1163.8 686.9 1160.6 688.0 1155.5 689.2 1157.8 690.4 1163.3 691.5 1160.5 692.7 1158.6 693.8 1153.6 695.0 1162.5 696.2 1163.7 697.3 1166.0 698.5 1161.3 699.7 1165.6 700.8 1167.2 702.0 1167.2 703.2 1165.9 704.3 1162.9 705.5 1157.5 706.6 1162.6 707.8 1154.8 709.0 1157.1 710.1 1163.7 711.3 1165.3 712.5 1164.7 713.6 1165.2 714.8 1160.4 716.0 1165.9 717.1 1171.0 718.3 1157.8 719.4 1163.0 720.6 1166.0 721.8 1166.1 722.9 1163.4 724.1 1164.0 725.3 1157.2 726.4 1159.2 727.6 1164.3 728.8 1165.7 729.9 1168.1 731.1 1165.8 732.2 1160.4 733.4 1164.6 734.6 1163.8 735.7 1164.7 736.9 1157.7 738.1 1164.1 739.2 1165.1 740.4 1156.1 741.6 1155.1 742.7 1167.4 743.9 1168.3 745.0 1162.2 746.2 1168.2 747.4 1163.4 748.5 1163.0 749.7 1162.3 750.9 1161.6 752.0 1165.7 753.2 1163.3 754.4 1166.7 755.5 1163.0 756.7 1166.0 757.8 1161.5 759.0 1160.7 760.2 1160.1 761.3 1152.6 762.5 1161.0 763.7 1157.6 764.8 1164.1 766.0 1153.4 767.2 1159.2 768.3 1160.0 769.5 1157.1 770.6 1152.8 771.8 1158.5 773.0 1155.5 774.1 1155.2 775.3 1158.7 776.5 1163.9 777.6 1153.0 778.8 1155.6 780.0 1157.2 781.1 1155.7 782.3 1161.7 783.4 1157.8 784.6 1152.2 785.8 1153.5 786.9 1153.8 788.1 1157.1 789.3 1160.6 790.4 1152.0 791.6 1151.1 792.8 1151.8 793.9 1154.2 795.1 1153.6 796.2 1153.3 797.4 1151.7 798.6 1157.6 799.7 1156.4 800.9 1158.6 802.1 1149.1 803.2 1154.8 804.4 1155.5 805.6 1158.7 806.7 1156.9 807.9 1154.6 809.0 1151.2 810.2 1154.7 811.4 1153.5 812.5 1146.4 813.7 1155.3 814.9 1152.3 816.0 1149.6 817.2 1149.3 818.4 1154.2 819.5 1155.2 820.7 1154.0 821.8 1155.2 823.0 1153.7 824.2 1156.6 825.3 1154.7 826.5 1151.3 827.7 1153.2 828.8 1153.4 830.0 1150.8 831.2 1157.7 832.3 1154.9 833.5 1148.8 834.6 1148.2 835.8 1143.7 837.0 1155.4 838.1 1148.9 839.3 1152.7 840.5 1149.3 841.6 1143.2 842.8 1145.7 844.0 1146.9 845.1 1150.2 846.3 1147.4 847.4 1145.5 848.6 1153.4 849.8 1147.7 850.9 1142.7 852.1 1154.0 853.3 1148.5 854.4 1145.6 855.6 1142.9 856.8 1146.1 857.9 1142.0 859.1 1150.3 860.2 1147.3 861.4 1146.0 862.6 1146.4 863.7 1147.2 864.9 1144.0 866.1 1145.4 867.2 1139.7 868.4 1144.2 869.6 1144.6 870.7 1140.0 871.9 1138.5 873.0 1146.4 874.2 1145.2 875.4 1140.8 876.5 1149.2 877.7 1137.9 878.9 1130.9 880.0 1141.8 881.2 1141.3 882.4 1141.2 883.5 1138.1 884.7 1141.0 885.8 1140.0 887.0 1137.8 888.2 1138.1 889.3 1136.6 890.5 1138.2 891.7 1135.5 892.8 1137.6 894.0 1140.9 895.2 1138.8 896.3 1137.3 897.5 1133.3 898.6 1138.9 899.8 1138.0 901.0 1142.4 902.1 1144.5 903.3 1147.3 904.5 1137.3 905.6 1134.3 906.8 1127.4 908.0 1125.1 909.1 1133.1 910.3 1133.4 911.4 1136.9 912.6 1130.1 913.8 1130.5 914.9 1132.5 916.1 1131.3 917.3 1132.8 918.4 1129.3 919.6 1132.1 920.8 1132.3 921.9 1132.1 923.1 1127.6 924.2 1131.3 925.4 1126.8 926.6 1129.6 927.7 1137.5 928.9 1132.0 930.1 1131.5 931.2 1130.9 932.4 1132.3 933.5 1132.9 934.7 1134.2 935.9 1133.2 937.0 1131.3 938.2 1130.8 939.4 1140.2 940.5 1133.3 941.7 1129.1 942.9 1130.9 944.0 1133.2 945.2 1131.8 946.3 1137.6 947.5 1135.0 948.7 1133.5 949.8 1129.8 951.0 1130.6 952.2 1140.7 953.3 1138.9 954.5 1132.8 955.7 1135.5 956.8 1137.5 958.0 1139.2 959.1 1135.8 960.3 1129.7 961.5 1127.2 962.6 1133.6 963.8 1137.7 965.0 1133.8 966.1 1129.4 967.3 1132.3 968.5 1131.2 969.6 1129.2 970.8 1129.0 971.9 1128.3 973.1 1124.0 974.3 1120.8 975.4 1131.1 976.6 1122.4 977.8 1121.5 978.9 1125.0 980.1 1130.2 981.3 1118.9 982.4 1120.7 983.6 1123.6 984.7 1116.1 985.9 1117.8 987.1 1120.3 988.2 1120.9 989.4 1113.5 990.6 1115.5 991.7 1116.2 992.9 1115.4 994.1 1116.0 995.2 1123.9 996.4 1123.3 997.5 1112.4 998.7 1111.4 999.9 1112.0 1001.0 1108.7 1002.2 1110.0 1003.4 1115.5 1004.5 1123.8 1005.7 1116.2 1006.9 1115.7 1008.0 1119.8 1009.2 1118.7 1010.3 1113.3 1011.5 1118.5 1012.7 1127.3 1013.8 1122.1 1015.0 1126.9 1016.2 1127.3 1017.3 1130.3 1018.5 1129.1 1019.7 1127.7 1020.8 1128.3 1022.0 1129.8 1023.1 1131.3 1024.3 1133.0 1025.5 1135.1 1026.6 1138.1 1027.8 1138.0 1029.0 1133.5 1030.1 1138.4 1031.3 1144.6 1032.5 1144.6 1033.6 1137.2 1034.8 1134.3 1035.9 1135.2 1037.1 1136.4 1038.3 1143.4 1039.4 1145.6 1040.6 1141.8 1041.8 1138.1 1042.9 1142.5 1044.1 1149.6 1045.3 1144.6 1046.4 1144.4 1047.6 1147.1 1048.7 1136.8 1049.9 1133.6 1051.1 1140.1 1052.2 1139.8 1053.4 1135.5 1054.6 1135.8 1055.7 1139.0 1056.9 1138.3 1058.1 1141.0 1059.2 1137.8 1060.4 1140.0 1061.5 1139.5 1062.7 1133.0 1063.9 1131.7 1065.0 1135.9 1066.2 1137.2 1067.4 1133.9 1068.5 1135.9 1069.7 1137.4 1070.9 1135.0 1072.0 1136.7 1073.2 1135.1 1074.3 1134.6 1075.5 1133.1 1076.7 1139.6 1077.8 1138.9 1079.0 1144.5 1080.2 1138.8 1081.3 1142.8 1082.5 1137.7 1083.7 1135.6 1084.8 1138.5 1086.0 1147.3 1087.1 1139.5 1088.3 1135.8 1089.5 1133.7 1090.6 1134.2 1091.8 1137.4 1093.0 1138.8 1094.1 1141.1 1095.3 1135.8 1096.5 1138.2 1097.6 1135.5 1098.8 1133.9 1099.9 1131.8 1101.1 1139.7 1102.3 1136.4 1103.4 1137.0 1104.6 1138.8 1105.8 1133.9 1106.9 1133.6 1108.1 1142.3 1109.3 1148.1 1110.4 1145.3 1111.6 1151.0 1112.7 1145.6 1113.9 1142.8 1115.1 1143.5 1116.2 1137.6 1117.4 1136.3 1118.6 1142.2 1119.7 1148.3 1120.9 1143.4 1122.1 1140.8 1123.2 1142.3 1124.4 1141.6 1125.5 1137.5 1126.7 1140.3 1127.9 1143.0 1129.0 1137.9 1130.2 1141.2 1131.4 1138.2 1132.5 1140.6 1133.7 1144.2 1134.9 1142.1 1136.0 1145.1 1137.2 1144.1 1138.3 1142.5 1139.5 1138.6 1140.7 1141.4 1141.8 1145.3 1143.0 1142.1 1144.2 1136.3 1145.3 1141.0 1146.5 1141.7 1147.7 1142.0 1148.8 1142.4 1150.0 1145.7 1151.1 1144.6 1152.3 1148.3 1153.5 1151.7 1154.6 1149.9 1155.8 1146.4 1157.0 1135.9 1158.1 1135.4 1159.3 1141.4 1160.5 1145.1 1161.6 1144.0 1162.8 1143.0 1163.9 1151.1 1165.1 1146.8 1166.3 1144.8 1167.4 1148.5 1168.6 1156.5 1169.8 1151.3 1170.9 1152.8 1172.1 1145.0 1173.3 1149.2 1174.4 1147.2 1175.6 1147.1 1176.7 1147.6 1177.9 1147.8 1179.1 1149.4 1180.2 1145.6 1181.4 1145.9 1182.6 1145.8 1183.7 1146.9 1184.9 1146.0 1186.1 1144.7 1187.2 1159.0 1188.4 1151.5 1189.5 1143.5 1190.7 1146.2 1191.9 1150.4 1193.0 1149.4 1194.2 1144.3 1195.4 1143.0 1196.5 1150.2 1197.7 1146.5 1198.9 1145.3 1200.0 1144.5 1201.2 1148.2 1202.3 1144.0 1203.5 1149.2 1204.7 1149.8 1205.8 1147.6 1207.0 1146.7 1208.2 1148.3 1209.3 1146.3 1210.5 1145.7 1211.7 1144.8 1212.8 1147.7 1214.0 1143.2 1215.1 1145.6 1216.3 1146.9 1217.5 1154.0 1218.6 1143.4 1219.8 1145.9 1221.0 1144.9 1222.1 1151.5 1223.3 1143.5 1224.4 1149.9 1225.6 1146.4 1226.8 1142.3 1227.9 1143.5 1229.1 1142.7 1230.3 1144.3 1231.4 1147.1 1232.6 1143.2 1233.8 1147.1 1234.9 1147.1 1236.1 1141.9 1237.2 1140.3 1238.4 1140.7 1239.6 1133.2 1240.7 1138.9 1241.9 1148.9 1243.1 1144.8 1244.2 1142.2 1245.4 1143.8 1246.6 1144.0 1247.7 1145.6 1248.9 1142.9 1250.0 1142.5 1251.2 1140.0 1252.4 1145.9 1253.5 1146.4 1254.7 1134.4 1255.9 1145.6 1257.0 1155.2 1258.2 1147.3 1259.4 1142.4 1260.5 1138.6 1261.7 1147.2 1262.8 1139.9 1264.0 1142.7 1265.2 1141.9 1266.3 1140.9 1267.5 1146.9 1268.7 1146.0 1269.8 1138.7 1271.0 1138.2 1272.2 1138.5 1273.3 1129.6 1274.5 1136.8 1275.6 1131.9 1276.8 1127.1 1278.0 1132.3 1279.1 1134.8 1280.3 1135.6 1281.5 1133.9 1282.6 1133.3 1283.8 1135.3 1285.0 1133.7 1286.1 1132.7 1287.3 1130.2 1288.4 1139.2 1289.6 1136.0 1290.8 1139.3 1291.9 1147.3 1293.1 1137.3 1294.3 1132.2 1295.4 1134.1 1296.6 1136.2 1297.8 1132.7 1298.9 1135.4 1300.1 1134.2 1301.2 1134.5 1302.4 1135.2 1303.6 1134.0 1304.7 1131.5 1305.9 1131.4 1307.1 1128.5 1308.2 1134.6 1309.4 1128.7 1310.6 1135.8 1311.7 1131.9 1312.9 1135.7 1314.0 1140.7 1315.2 1131.2 1316.4 1130.7 1317.5 1131.8 1318.7 1131.2 1319.9 1128.0 1321.0 1122.6 1322.2 1124.5 1323.4 1132.1 1324.5 1129.3 1325.7 1128.0 1326.8 1140.2 1328.0 1136.7 1329.2 1131.2 1330.3 1130.7 1331.5 1129.7 1332.7 1138.5 1333.8 1130.4 1335.0 1133.1 1336.2 1131.1 1337.3 1120.9 1338.5 1121.9 1339.6 1127.6 1340.8 1122.7 1342.0 1134.0 1343.1 1137.0 1344.3 1129.7 1345.5 1126.4 1346.6 1124.7 1347.8 1123.8 1349.0 1127.0 1350.1 1124.3 1351.3 1125.5 1352.4 1129.8 1353.6 1132.2 1354.8 1130.7 1355.9 1135.8 1357.1 1132.5 1358.3 1129.1 1359.4 1128.1 1360.6 1127.1 1361.8 1131.4 1362.9 1129.7 1364.1 1132.3 1365.2 1129.1 1366.4 1133.7 1367.6 1134.5 1368.7 1129.9 1369.9 1128.7 1371.1 1123.9 1372.2 1111.3 1373.4 1124.0 1374.6 1123.0 1375.7 1126.7 1376.9 1127.5 1378.0 1129.4 1379.2 1126.2 1380.4 1129.4 1381.5 1130.4 1382.7 1127.3 1383.9 1127.8 1385.0 1126.9 1386.2 1128.7 1387.4 1129.7 1388.5 1124.2 1389.7 1116.3 1390.8 1127.4 1392.0 1124.0 1393.2 1120.9 1394.3 1124.9 1395.5 1123.5 1396.7 1121.1 1397.8 1122.8 1399.0 1127.3 1400.2 1129.6 1401.3 1122.2 1402.5 1117.1 1403.6 1122.1 1404.8 1124.7 1406.0 1122.4 1407.1 1123.0 1408.3 1125.9 1409.5 1125.5 1410.6 1131.8 1411.8 1127.4 1413.0 1128.5 1414.1 1123.3 1415.3 1125.4 1416.4 1129.9 1417.6 1115.1 1418.8 1121.3 1419.9 1123.6 1421.1 1119.2 1422.3 1115.6 1423.4 1119.2 1424.6 1114.1 1425.8 1114.9 1426.9 1112.7 1428.1 1118.7 1429.2 1113.0 1430.4 1122.3 1431.6 1118.9 1432.7 1117.7 1433.9 1116.2 1435.1 1117.4 1436.2 1116.7 1437.4 1121.5 1438.6 1117.8 1439.7 1110.8 1440.9 1124.0 1442.0 1128.6 1443.2 1127.7 1444.4 1118.0 1445.5 1118.5 1446.7 1119.5 1447.9 1114.6 1449.0 1117.6 1450.2 1118.1 1451.4 1121.6 1452.5 1113.0 1453.7 1123.3 1454.8 1113.6 1456.0 1121.4 1457.2 1112.5 1458.3 1111.3 1459.5 1111.4 1460.7 1122.5 1461.8 1119.5 1463.0 1124.1 1464.2 1125.9 1465.3 1121.4 1466.5 1123.0 1467.6 1123.9 1468.8 1128.5 1470.0 1121.7 1471.1 1123.1 1472.3 1124.8 1473.5 1121.1 1474.6 1122.9 1475.8 1127.1 1477.0 1126.7 1478.1 1126.8 1479.3 1129.5 1480.4 1125.3 1481.6 1130.4 1482.8 1125.6 1483.9 1129.9 1485.1 1126.9 1486.3 1123.1 1487.4 1117.8 1488.6 1123.3 1489.8 1123.5 1490.9 1125.5 1492.1 1121.0 1493.2 1126.0 1494.4 1133.2 1495.6 1129.4 1496.7 1117.0 1497.9 1122.7 1499.1 1117.9 1500.2 1120.1 1501.4 1122.1 1502.6 1122.4 1503.7 1123.3 1504.9 1129.5 1506.0 1125.8 1507.2 1121.4 1508.4 1126.3 1509.5 1126.6 1510.7 1133.1 1511.9 1124.7 1513.0 1126.5 1514.2 1124.8 1515.3 1122.1 1516.5 1121.2 1517.7 1131.3 1518.8 1126.3 1520.0 1125.9 1521.2 1124.3 1522.3 1123.3 1523.5 1124.3 1524.7 1121.9 1525.8 1126.1 1527.0 1124.9 1528.1 1125.8 1529.3 1131.5 1530.5 1122.0 1531.6 1123.2 1532.8 1121.4 1534.0 1123.6 1535.1 1126.2 1536.3 1128.5 1537.5 1125.4 1538.6 1130.4 1539.8 1130.3 1540.9 1129.2 1542.1 1132.5 1543.3 1130.2 1544.4 1138.3 1545.6 1137.2 1546.8 1130.4 1547.9 1135.9 1549.1 1132.3 1550.3 1130.2 1551.4 1131.2 1552.6 1134.2 1553.7 1139.0 1554.9 1138.0 1556.1 1139.3 1557.2 1131.7 1558.4 1123.6 1559.6 1127.4 1560.7 1129.6 1561.9 1125.7 1563.1 1127.9 1564.2 1123.2 1565.4 1123.8 1566.5 1123.8 1567.7 1128.5 1568.9 1123.9 1570.0 1120.8 1571.2 1128.2 1572.4 1134.2 1573.5 1131.9 1574.7 1125.6 1575.9 1137.4 1577.0 1136.0 1578.2 1141.8 1579.3 1146.2 1580.5 1148.6 1581.7 1138.2 1582.8 1138.1 1584.0 1136.3 1585.2 1140.6 1586.3 1134.1 1587.5 1138.1 1588.7 1140.4 1589.8 1140.7 1591.0 1136.2 1592.1 1131.5 1593.3 1137.6 1594.5 1132.4 1595.6 1130.8 1596.8 1122.5 1598.0 1128.4 1599.1 1135.1 1600.3 1131.5 1601.5 1130.3 1602.6 1128.3 1603.8 1124.0 1604.9 1125.4 1606.1 1132.2 1607.3 1123.2 1608.4 1126.4 1609.6 1125.3 1610.8 1126.8 1611.9 1121.9 1613.1 1120.9 1614.3 1121.6 1615.4 1115.8 1616.6 1125.3 1617.7 1134.3 1618.9 1124.8 1620.1 1126.4 1621.2 1127.8 1622.4 1131.6 1623.6 1132.7 1624.7 1136.7 1625.9 1137.3 1627.1 1139.7 1628.2 1144.4 1629.4 1145.0 1630.5 1139.7 1631.7 1140.7 1632.9 1143.3 1634.0 1142.5 1635.2 1136.7 1636.4 1144.9 1637.5 1146.4 1638.7 1143.3 1639.9 1140.3 1641.0 1144.2 1642.2 1138.2 1643.3 1138.2 1644.5 1141.2 1645.7 1137.8 1646.8 1150.5 1648.0 1142.0 1649.2 1135.8 1650.3 1142.8 1651.5 1150.6 1652.7 1147.4 1653.8 1137.8 1655.0 1142.2 1656.1 1151.5 1657.3 1146.7 1658.5 1144.5 1659.6 1140.4 1660.8 1142.2 1662.0 1138.1 1663.1 1149.5 1664.3 1152.9 1665.5 1148.8 1666.6 1149.9 1667.8 1144.8 1668.9 1146.2 1670.1 1148.8 1671.3 1149.4 1672.4 1148.2 1673.6 1144.2 1674.8 1152.7 1675.9 1147.5 1677.1 1150.3 1678.3 1152.6 1679.4 1146.8 1680.6 1150.0 1681.7 1153.0 1682.9 1160.6 1684.1 1155.3 1685.2 1153.6 1686.4 1155.6 1687.6 1158.5 1688.7 1160.5 1689.9 1156.3 1691.1 1155.5 1692.2 1155.9 1693.4 1154.0 1694.5 1151.6 1695.7 1147.9 1696.9 1153.9 1698.0 1150.4 1699.2 1153.7 1700.4 1157.3 1701.5 1154.0 1702.7 1150.0 1703.9 1143.6 1705.0 1150.5 1706.2 1156.7 1707.3 1148.0 1708.5 1150.3 1709.7 1147.9 1710.8 1149.0 1712.0 1147.9 1713.2 1144.7 1714.3 1144.8 1715.5 1140.5 1716.7 1140.7 1717.8 1143.3 1719.0 1146.1 1720.1 1144.6 1721.3 1147.8 1722.5 1145.9 1723.6 1148.6 1724.8 1145.7 1726.0 1141.8 1727.1 1137.7 1728.3 1141.1 1729.5 1141.2 1730.6 1137.3 1731.8 1139.3 1732.9 1150.5 1734.1 1146.4 1735.3 1141.5 1736.4 1133.1 1737.6 1135.4 1738.8 1142.3 1739.9 1149.6 1741.1 1136.1 1742.3 1144.4 1743.4 1150.9 1744.6 1151.5 1745.7 1145.9 1746.9 1147.5 1748.1 1146.4 1749.2 1138.6 1750.4 1145.9 1751.6 1153.6 1752.7 1145.5 1753.9 1146.7 1755.1 1151.6 1756.2 1155.4 1757.4 1151.3 1758.5 1153.2 1759.7 1160.3 1760.9 1154.3 1762.0 1143.3 1763.2 1150.5 1764.4 1147.7 1765.5 1157.0 1766.7 1154.1 1767.9 1156.4 1769.0 1152.3 1770.2 1147.3 1771.3 1150.5 1772.5 1150.1 1773.7 1157.4 1774.8 1160.1 1776.0 1157.2 1777.2 1159.6 1778.3 1155.3 1779.5 1156.7 1780.7 1157.1 1781.8 1156.6 1783.0 1149.7 1784.1 1153.1 1785.3 1152.8 1786.5 1157.2 1787.6 1157.5 1788.8 1164.5 1790.0 1160.1 1791.1 1159.4 1792.3 1153.8 1793.5 1156.3 1794.6 1157.5 1795.8 1151.8 1796.9 1155.4 1798.1 1162.1 1799.3 1159.8 1800.4 1151.9 1801.6 1155.3 1802.8 1159.2 1803.9 1155.6 1805.1 1147.2 1806.2 1153.2 1807.4 1153.5 1808.6 1155.1 1809.7 1163.7 1810.9 1160.3 1812.1 1164.9 1813.2 1161.0 1814.4 1164.9 1815.6 1159.2 1816.7 1164.2 1817.9 1160.6 1819.0 1162.3 1820.2 1159.0 1821.4 1164.7 1822.5 1162.7 1823.7 1168.5 1824.9 1163.2 1826.0 1163.7 1827.2 1165.2 1828.4 1168.4 1829.5 1165.2 1830.7 1160.1 1831.8 1159.7 1833.0 1160.9 1834.2 1159.6 1835.3 1155.2 1836.5 1151.2 1837.7 1154.9 1838.8 1149.2 1840.0 1149.8 1841.2 1149.4 1842.3 1145.7 1843.5 1136.5 1844.6 1137.0 1845.8 1138.6 1847.0 1134.8 1848.1 1133.2 1849.3 1128.5 1850.5 1125.5 1851.6 1125.7 1852.8 1124.2 1854.0 1116.2 1855.1 1118.3 1856.3 1119.7 1857.4 1107.7 1858.6 1107.7 1859.8 1106.3 1860.9 1104.2 1862.1 1103.0 1863.3 1089.0 1864.4 1088.5 1865.6 1093.1 1866.8 1087.7 1867.9 1085.7 1869.1 1081.7 1870.2 1088.3 1871.4 1080.0 1872.6 1072.7 1873.7 1078.4 1874.9 1071.8 1876.1 1064.3 1877.2 1055.7 1878.4 1047.9 1879.6 1051.4 1880.7 1039.2 1881.9 1033.6 1883.0 1028.3 1884.2 1016.0 1885.4 1014.0 1886.5 1006.3 1887.7 998.3 1888.9 989.2 1890.0 981.7 1891.2 978.7 1892.4 977.4 1893.5 964.2 1894.7 960.2 1895.8 948.1 1897.0 947.0 1898.2 939.3 1899.3 934.5 1900.5 926.6 1901.7 934.4 1902.8 924.6 1904.0 922.2 1905.2 920.8 1906.3 919.5 1907.5 919.9 1908.6 912.0 1909.8 911.6 1911.0 916.5 1912.1 924.6 1913.3 926.7 1914.5 930.4 1915.6 929.0 1916.8 925.5 1918.0 937.7 1919.1 941.1 1920.3 943.6 1921.4 950.6 1922.6 958.5 1923.8 962.9 1924.9 969.2 1926.1 973.9 1927.3 979.4 1928.4 985.5 1929.6 993.4 1930.8 998.9 1931.9 1005.0 1933.1 1009.7 1934.2 1015.7 1935.4 1026.8 1936.6 1032.8 1937.7 1039.7 1938.9 1041.5 1940.1 1041.0 1941.2 1055.7 1942.4 1058.1 1943.6 1066.5 1944.7 1064.3 1945.9 1069.4 1947.0 1074.2 1948.2 1079.3 1949.4 1087.4 1950.5 1081.6 1951.7 1090.3 1952.9 1095.7 1954.0 1098.6 1955.2 1101.9 1956.4 1102.8 1957.5 1101.0 1958.7 1102.2 1959.8 1111.0 1961.0 1110.6 1962.2 1111.3 1963.3 1115.3 1964.5 1116.9 1965.7 1124.6 1966.8 1124.2 1968.0 1129.0 1969.2 1130.9 1970.3 1134.6 1971.5 1140.7 1972.6 1137.3 1973.8 1135.5 1975.0 1141.1 1976.1 1140.8 1977.3 1142.4 1978.5 1148.0 1979.6 1145.5 1980.8 1147.2 1982.0 1150.1 1983.1 1154.3 1984.3 1155.8 1985.4 1153.8 1986.6 1147.6 1987.8 1149.1 1988.9 1156.9 1990.1 1170.3 1991.3 1164.9 1992.4 1165.9 1993.6 1168.5 1994.8 1168.1 1995.9 1166.7 1997.1 1171.2 1998.2 1168.5 1999.4 1169.3 2000.6 1163.9 2001.7 1172.4 2002.9 1174.7 2004.1 1170.7 2005.2 1169.7 2006.4 1179.6 2007.6 1172.3 2008.7 1169.0 2009.9 1174.6 2011.0 1178.0 2012.2 1173.5 2013.4 1169.5 2014.5 1169.4 2015.7 1167.9 2016.9 1165.8 2018.0 1161.6" stroke="#00C8C8"/>
<path d="M193.5 923.8 194.7 928.4 195.8 934.8 197.0 934.7 198.2 931.8 199.3 936.6 200.5 937.9 201.6 936.0 202.8 939.7 204.0 935.2 205.1 937.5 206.3 937.9 207.5 936.7 208.6 936.4 209.8 936.9 211.0 939.4 212.1 931.4 213.3 932.0 214.4 931.8 215.6 928.0 216.8 922.6 217.9 936.0 219.1 928.6 220.3 928.0 221.4 932.6 222.6 929.7 223.8 929.2 224.9 930.6 226.1 923.2 227.2 931.0 228.4 930.1 229.6 927.5 230.7 933.7 231.9 938.3 233.1 932.5 234.2 935.1 235.4 934.3 236.6 937.4 237.7 937.2 238.9 934.1 240.0 938.0 241.2 936.4 242.4 936.1 243.5 936.8 244.7 933.8 245.9 935.4 247.0 936.0 248.2 928.9 249.4 934.2 250.5 931.1 251.7 930.5 252.8 927.7 254.0 931.1 255.2 929.2 256.3 932.9 257.5 928.5 258.7 929.6 259.8 929.2 261.0 930.1 262.2 923.8 263.3 918.5 264.5 928.7 265.6 933.2 266.8 932.6 268.0 932.6 269.1 921.4 270.3 930.8 271.5 930.3 272.6 938.2 273.8 930.7 275.0 927.0 276.1 936.4 277.3 934.4 278.4 932.7 279.6 925.1 280.8 928.1 281.9 924.6 283.1 925.4 284.3 925.7 285.4 929.2 286.6 922.3 287.8 922.8 288.9 923.9 290.1 927.1 291.2 926.5 292.4 915.3 293.6 917.0 294.7 923.0 295.9 923.6 297.1 917.3 298.2 923.1 299.4 922.2 300.6 923.4 301.7 924.2 302.9 924.1 304.0 923.1 305.2 922.6 306.4 919.9 307.5 921.2 308.7 918.3 309.9 921.4 311.0 922.7 312.2 924.6 313.4 921.6 314.5 915.2 315.7 922.4 316.8 921.6 318.0 924.9 319.2 922.7 320.3 922.4 321.5 926.1 322.7 920.7 323.8 918.5 325.0 917.2 326.2 916.1 327.3 911.3 328.5 915.0 329.6 918.8 330.8 914.6 332.0 915.4 333.1 918.7 334.3 915.1 335.5 912.2 336.6 911.2 337.8 909.2 339.0 903.4 340.1 903.1 341.3 901.4 342.4 900.3 343.6 902.0 344.8 901.0 345.9 902.9 347.1 902.7 348.3 899.0 349.4 902.4 350.6 903.0 351.7 904.2 352.9 898.4 354.1 899.1 355.2 901.1 356.4 899.7 357.6 899.3 358.7 895.5 359.9 893.0 361.1 897.7 362.2 889.5 363.4 885.5 364.5 885.0 365.7 883.4 366.9 880.3 368.0 880.5 369.2 882.2 370.4 871.8 371.5 871.4 372.7 871.3 373.9 872.5 375.0 873.5 376.2 860.9 377.3 861.0 378.5 861.2 379.7 850.2 380.8 852.1 382.0 847.3 383.2 849.0 384.3 849.4 385.5 840.7 386.7 829.4 387.8 828.9 389.0 831.7 390.1 832.4 391.3 825.6 392.5 825.2 393.6 821.3 394.8 817.8 396.0 817.8 397.1 813.1 398.3 811.2 399.5 811.5 400.6 807.9 401.8 807.6 402.9 803.5 404.1 798.5 405.3 799.2 406.4 800.8 407.6 796.8 408.8 799.0 409.9 783.7 411.1 787.6 412.3 789.9 413.4 788.3 414.6 786.5 415.7 786.7 416.9 788.5 418.1 786.0 419.2 784.8 420.4 785.2 421.6 786.1 422.7 784.9 423.9 787.5 425.1 788.6 426.2 791.4 427.4 790.4 428.5 786.1 429.7 796.0 430.9 803.1 432.0 804.9 433.2 808.3 434.4 810.6 435.5 814.0 436.7 818.7 437.9 816.8 439.0 827.1 440.2 831.6 441.3 836.3 442.5 829.6 443.7 832.1 444.8 842.8 446.0 842.8 447.2 845.2 448.3 849.8 449.5 854.4 450.7 853.8 451.8 858.7 453.0 862.5 454.1 864.2 455.3 858.3 456.5 869.8 457.6 870.9 458.8 873.2 460.0 876.2 461.1 877.3 462.3 883.5 463.5 880.0 464.6 882.6 465.8 881.5 466.9 886.1 468.1 891.2 469.3 891.6 470.4 886.3 471.6 891.4 472.8 895.7 473.9 891.3 475.1 893.8 476.3 897.0 477.4 898.1 478.6 897.1 479.7 898.7 480.9 899.3 482.1 897.9 483.2 899.7 484.4 899.9 485.6 901.0 486.7 900.4 487.9 900.1 489.1 902.4 490.2 908.0 491.4 902.6 492.5 901.8 493.7 899.6 494.9 912.1 496.0 918.2 497.2 909.6 498.4 909.1 499.5 909.1 500.7 912.2 501.9 912.4 503.0 914.7 504.2 911.2 505.3 916.4 506.5 914.2 507.7 916.9 508.8 918.0 510.0 919.9 511.2 916.3 512.3 916.9 513.5 917.0 514.7 915.4 515.8 919.2 517.0 925.6 518.1 925.3 519.3 914.9 520.5 923.0 521.6 922.2 522.8 919.9 524.0 920.4 525.1 926.2 526.3 925.8 527.5 913.4 528.6 917.4 529.8 922.0 530.9 924.6 532.1 923.1 533.3 916.5 534.4 919.7 535.6 925.6 536.8 923.2 537.9 924.0 539.1 925.2 540.3 924.2 541.4 924.8 542.6 923.4 543.7 921.3 544.9 922.3 546.1 931.5 547.2 918.7 548.4 927.1 549.6 930.8 550.7 925.6 551.9 921.9 553.1 926.9 554.2 927.2 555.4 927.9 556.5 928.5 557.7 933.4 558.9 926.2 560.0 933.1 561.2 923.8 562.4 932.8 563.5 927.5 564.7 927.2 565.9 917.8 567.0 923.4 568.2 924.7 569.3 923.7 570.5 923.7 571.7 918.0 572.8 919.2 574.0 919.0 575.2 911.4 576.3 919.2 577.5 915.7 578.7 912.4 579.8 910.9 581.0 911.5 582.1 904.0 583.3 906.0 584.5 905.6 585.6 904.1 586.8 905.7 588.0 904.0 589.1 905.8 590.3 901.6 591.5 897.0 592.6 894.8 593.8 890.9 594.9 891.1 596.1 892.9 597.3 893.3 598.4 890.6 599.6 891.6 600.8 896.5 601.9 900.7 603.1 891.4 604.3 891.7 605.4 899.5 606.6 899.6 607.7 900.3 608.9 902.8 610.1 904.6 611.2 901.1 612.4 914.6 613.6 918.1 614.7 914.6 615.9 917.1 617.1 918.9 618.2 922.8 619.4 922.0 620.5 925.1 621.7 929.0 622.9 925.6 624.0 929.6 625.2 929.3 626.4 932.8 627.5 927.8 628.7 925.4 629.9 926.8 631.0 924.5 632.2 921.9 633.3 921.8 634.5 927.4 635.7 918.4 636.8 921.2 638.0 932.9 639.2 930.8 640.3 927.8 641.5 927.0 642.6 933.1 643.8 933.0 645.0 932.0 646.1 931.2 647.3 932.3 648.5 939.3 649.6 931.7 650.8 925.7 652.0 925.2 653.1 926.8 654.3 922.6 655.4 927.1 656.6 930.9 657.8 927.8 658.9 927.9 660.1 927.3 661.3 928.2 662.4 928.4 663.6 932.5 664.8 927.6 665.9 928.6 667.1 932.4 668.2 933.7 669.4 938.2 670.6 941.6 671.7 934.8 672.9 927.5 674.1 925.8 675.2 928.4 676.4 928.8 677.6 923.6 678.7 918.8 679.9 925.7 681.0 930.6 682.2 926.6 683.4 927.9 684.5 921.8 685.7 921.4 686.9 921.6 688.0 924.5 689.2 930.6 690.4 928.7 691.5 929.1 692.7 928.6 693.8 926.0 695.0 922.2 696.2 925.9 697.3 931.6 698.5 928.1 699.7 927.8 700.8 926.9 702.0 929.9 703.2 929.5 704.3 927.2 705.5 927.4 706.6 926.8 707.8 927.7 709.0 928.0 710.1 928.5 711.3 932.6 712.5 933.6 713.6 920.0 714.8 919.1 716.0 919.1 717.1 927.5 718.3 931.4 719.4 930.6 720.6 929.0 721.8 924.6 722.9 930.5 724.1 928.8 725.3 929.9 726.4 936.6 727.6 923.1 728.8 923.0 729.9 927.1 731.1 919.7 732.2 922.2 733.4 926.6 734.6 928.8 735.7 927.6 736.9 921.1 738.1 925.9 739.2 929.1 740.4 926.8 741.6 924.0 742.7 918.6 743.9 924.9 745.0 931.0 746.2 919.3 747.4 921.6 748.5 930.2 749.7 930.2 750.9 927.9 752.0 929.8 753.2 926.1 754.4 929.1 755.5 928.4 756.7 933.1 757.8 935.3 759.0 936.3 760.2 930.2 761.3 931.2 762.5 935.9 763.7 927.8 764.8 927.1 766.0 924.1 767.2 923.3 768.3 927.6 769.5 921.8 770.6 926.1 771.8 922.7 773.0 926.7 774.1 931.0 775.3 938.0 776.5 927.9 777.6 924.2 778.8 924.4 780.0 926.4 781.1 926.6 782.3 920.9 783.4 922.1 784.6 918.2 785.8 921.8 786.9 926.2 788.1 930.7 789.3 932.3 790.4 920.0 791.6 923.5 792.8 927.7 793.9 924.5 795.1 923.4 796.2 926.2 797.4 926.7 798.6 920.2 799.7 919.4 800.9 912.6 802.1 916.2 803.2 921.0 804.4 920.1 805.6 924.2 806.7 922.0 807.9 921.2 809.0 925.1 810.2 920.2 811.4 913.7 812.5 930.6 813.7 924.8 814.9 922.6 816.0 924.2 817.2 914.2 818.4 917.5 819.5 914.9 820.7 916.2 821.8 928.4 823.0 923.8 824.2 927.9 825.3 927.4 826.5 923.9 827.7 915.7 828.8 922.0 830.0 916.4 831.2 914.2 832.3 924.4 833.5 922.0 834.6 924.5 835.8 923.8 837.0 925.6 838.1 925.6 839.3 931.4 840.5 925.2 841.6 927.8 842.8 927.7 844.0 925.7 845.1 925.2 846.3 925.1 847.4 926.1 848.6 923.3 849.8 925.2 850.9 926.5 852.1 924.4 853.3 923.0 854.4 921.7 855.6 927.8 856.8 926.3 857.9 920.5 859.1 922.8 860.2 923.7 861.4 918.2 862.6 925.9 863.7 923.3 864.9 923.6 866.1 919.7 867.2 924.1 868.4 921.3 869.6 930.0 870.7 926.2 871.9 924.6 873.0 924.9 874.2 922.3 875.4 923.2 876.5 918.9 877.7 920.9 878.9 920.6 880.0 918.9 881.2 919.9 882.4 914.6 883.5 912.4 884.7 920.1 885.8 929.8 887.0 924.8 888.2 922.3 889.3 920.2 890.5 919.2 891.7 922.3 892.8 924.2 894.0 925.5 895.2 922.9 896.3 925.5 897.5 925.0 898.6 924.5 899.8 920.0 901.0 919.6 902.1 917.0 903.3 919.0 904.5 913.4 905.6 918.7 906.8 917.5 908.0 920.0 909.1 917.3 910.3 912.5 911.4 919.1 912.6 919.7 913.8 919.1 914.9 915.1 916.1 917.4 917.3 915.5 918.4 912.2 919.6 915.9 920.8 917.7 921.9 916.1 923.1 918.9 924.2 919.0 925.4 909.9 926.6 915.0 927.7 917.2 928.9 919.6 930.1 919.7 931.2 919.6 932.4 914.9 933.5 917.6 934.7 917.1 935.9 921.4 937.0 921.2 938.2 919.3 939.4 923.0 940.5 916.1 941.7 911.3 942.9 918.2 944.0 921.4 945.2 925.5 946.3 919.8 947.5 916.2 948.7 918.7 949.8 911.8 951.0 920.8 952.2 917.7 953.3 913.9 954.5 914.8 955.7 920.7 956.8 922.2 958.0 917.1 959.1 926.8 960.3 923.6 961.5 918.8 962.6 914.5 963.8 917.5 965.0 920.7 966.1 919.2 967.3 918.7 968.5 920.2 969.6 924.1 970.8 915.6 971.9 925.1 973.1 921.6 974.3 922.7 975.4 922.0 976.6 926.4 977.8 918.7 978.9 918.7 980.1 920.5 981.3 920.6 982.4 919.8 983.6 919.6 984.7 920.2 985.9 929.3 987.1 929.1 988.2 927.1 989.4 924.3 990.6 932.1 991.7 930.9 992.9 921.9 994.1 918.7 995.2 924.9 996.4 927.4 997.5 923.5 998.7 927.6 999.9 921.0 1001.0 919.4 1002.2 914.6 1003.4 918.5 1004.5 923.3 1005.7 914.7 1006.9 913.5 1008.0 910.2 1009.2 916.2 1010.3 916.9 1011.5 916.3 1012.7 918.9 1013.8 916.4 1015.0 913.4 1016.2 910.0 1017.3 912.3 1018.5 909.8 1019.7 910.9 1020.8 916.0 1022.0 914.1 1023.1 915.9 1024.3 917.7 1025.5 917.5 1026.6 915.3 1027.8 915.3 1029.0 914.4 1030.1 918.6 1031.3 919.0 1032.5 914.1 1033.6 914.9 1034.8 913.7 1035.9 916.7 1037.1 915.4 1038.3 919.1 1039.4 914.8 1040.6 916.7 1041.8 917.8 1042.9 922.3 1044.1 919.7 1045.3 922.6 1046.4 917.4 1047.6 909.0 1048.7 915.1 1049.9 918.1 1051.1 915.8 1052.2 914.1 1053.4 906.3 1054.6 914.0 1055.7 916.4 1056.9 921.4 1058.1 912.0 1059.2 915.2 1060.4 918.2 1061.5 916.1 1062.7 916.2 1063.9 915.1 1065.0 912.5 1066.2 916.1 1067.4 921.5 1068.5 920.5 1069.7 917.7 1070.9 920.1 1072.0 921.8 1073.2 921.3 1074.3 913.9 1075.5 917.1 1076.7 926.0 1077.8 919.9 1079.0 922.5 1080.2 921.9 1081.3 923.4 1082.5 916.5 1083.7 925.2 1084.8 923.9 1086.0 918.4 1087.1 919.8 1088.3 912.0 1089.5 919.2 1090.6 913.0 1091.8 918.7 1093.0 924.0 1094.1 912.9 1095.3 906.6 1096.5 907.9 1097.6 915.4 1098.8 918.4 1099.9 918.0 1101.1 920.6 1102.3 918.6 1103.4 922.1 1104.6 927.9 1105.8 937.0 1106.9 922.4 1108.1 912.7 1109.3 920.3 1110.4 925.3 1111.6 928.8 1112.7 924.6 1113.9 922.8 1115.1 921.7 1116.2 924.1 1117.4 922.8 1118.6 917.4 1119.7 920.4 1120.9 920.1 1122.1 923.2 1123.2 923.1 1124.4 921.7 1125.5 925.0 1126.7 926.4 1127.9 925.2 1129.0 928.1 1130.2 921.4 1131.4 920.0 1132.5 926.6 1133.7 926.5 1134.9 928.2 1136.0 930.9 1137.2 926.1 1138.3 927.4 1139.5 925.6 1140.7 924.4 1141.8 925.3 1143.0 929.2 1144.2 916.6 1145.3 921.1 1146.5 924.9 1147.7 925.1 1148.8 919.7 1150.0 924.5 1151.1 921.3 1152.3 930.6 1153.5 924.6 1154.6 917.4 1155.8 923.1 1157.0 925.7 1158.1 917.8 1159.3 923.4 1160.5 926.5 1161.6 925.0 1162.8 927.8 1163.9 926.0 1165.1 926.3 1166.3 928.3 1167.4 933.5 1168.6 919.0 1169.8 921.5 1170.9 921.7 1172.1 923.2 1173.3 919.7 1174.4 933.7 1175.6 924.7 1176.7 926.5 1177.9 930.0 1179.1 926.1 1180.2 923.6 1181.4 923.7 1182.6 924.4 1183.7 923.7 1184.9 924.8 1186.1 924.2 1187.2 921.2 1188.4 929.5 1189.5 930.2 1190.7 918.5 1191.9 918.3 1193.0 928.6 1194.2 924.3 1195.4 923.6 1196.5 923.5 1197.7 927.8 1198.9 921.7 1200.0 922.0 1201.2 924.4 1202.3 925.0 1203.5 925.2 1204.7 927.6 1205.8 931.0 1207.0 917.8 1208.2 918.0 1209.3 916.2 1210.5 919.5 1211.7 931.6 1212.8 927.9 1214.0 924.6 1215.1 919.8 1216.3 923.8 1217.5 927.1 1218.6 926.0 1219.8 921.6 1221.0 928.5 1222.1 927.0 1223.3 925.3 1224.4 925.8 1225.6 923.2 1226.8 925.0 1227.9 920.0 1229.1 933.6 1230.3 924.1 1231.4 924.7 1232.6 924.5 1233.8 929.2 1234.9 934.9 1236.1 932.9 1237.2 924.5 1238.4 933.2 1239.6 926.9 1240.7 933.4 1241.9 925.0 1243.1 921.3 1244.2 928.0 1245.4 924.0 1246.6 928.5 1247.7 930.4 1248.9 924.9 1250.0 925.3 1251.2 927.1 1252.4 930.1 1253.5 929.6 1254.7 926.2 1255.9 926.5 1257.0 928.1 1258.2 924.2 1259.4 931.7 1260.5 930.5 1261.7 925.3 1262.8 927.4 1264.0 928.4 1265.2 926.8 1266.3 920.5 1267.5 919.5 1268.7 922.3 1269.8 921.1 1271.0 924.8 1272.2 926.8 1273.3 928.7 1274.5 935.7 1275.6 928.7 1276.8 925.7 1278.0 924.2 1279.1 933.4 1280.3 930.8 1281.5 937.2 1282.6 934.4 1283.8 925.1 1285.0 929.1 1286.1 929.3 1287.3 929.8 1288.4 922.3 1289.6 927.9 1290.8 927.5 1291.9 925.1 1293.1 922.3 1294.3 925.6 1295.4 919.4 1296.6 922.7 1297.8 917.5 1298.9 922.8 1300.1 923.3 1301.2 925.8 1302.4 926.7 1303.6 926.8 1304.7 925.5 1305.9 927.7 1307.1 927.2 1308.2 926.6 1309.4 929.1 1310.6 933.6 1311.7 927.4 1312.9 934.8 1314.0 933.2 1315.2 927.2 1316.4 925.2 1317.5 926.3 1318.7 925.4 1319.9 930.8 1321.0 926.6 1322.2 928.0 1323.4 931.0 1324.5 930.9 1325.7 929.5 1326.8 929.9 1328.0 930.4 1329.2 928.9 1330.3 928.3 1331.5 931.5 1332.7 924.6 1333.8 923.2 1335.0 925.3 1336.2 926.1 1337.3 934.9 1338.5 929.2 1339.6 931.6 1340.8 928.4 1342.0 926.2 1343.1 934.0 1344.3 937.6 1345.5 927.5 1346.6 929.8 1347.8 928.7 1349.0 925.8 1350.1 927.3 1351.3 929.5 1352.4 925.7 1353.6 928.0 1354.8 927.7 1355.9 927.2 1357.1 924.9 1358.3 929.4 1359.4 927.3 1360.6 927.4 1361.8 926.2 1362.9 923.9 1364.1 925.7 1365.2 924.1 1366.4 928.3 1367.6 923.5 1368.7 920.8 1369.9 922.7 1371.1 923.3 1372.2 929.1 1373.4 923.3 1374.6 926.0 1375.7 915.4 1376.9 918.2 1378.0 920.9 1379.2 923.8 1380.4 922.8 1381.5 921.5 1382.7 921.9 1383.9 924.9 1385.0 921.1 1386.2 924.8 1387.4 923.0 1388.5 928.3 1389.7 934.5 1390.8 926.8 1392.0 921.3 1393.2 921.5 1394.3 921.0 1395.5 924.6 1396.7 936.9 1397.8 929.1 1399.0 922.4 1400.2 932.6 1401.3 937.7 1402.5 932.4 1403.6 933.5 1404.8 925.4 1406.0 923.7 1407.1 916.3 1408.3 913.7 1409.5 917.2 1410.6 922.3 1411.8 924.8 1413.0 917.4 1414.1 923.1 1415.3 925.4 1416.4 927.5 1417.6 924.6 1418.8 921.3 1419.9 918.6 1421.1 922.9 1422.3 925.7 1423.4 926.1 1424.6 923.5 1425.8 919.7 1426.9 916.9 1428.1 916.0 1429.2 920.6 1430.4 922.5 1431.6 919.9 1432.7 922.9 1433.9 921.7 1435.1 924.4 1436.2 922.8 1437.4 923.8 1438.6 920.7 1439.7 923.1 1440.9 925.6 1442.0 916.1 1443.2 927.5 1444.4 925.6 1445.5 931.3 1446.7 922.7 1447.9 922.8 1449.0 923.7 1450.2 922.7 1451.4 922.8 1452.5 924.4 1453.7 918.8 1454.8 922.2 1456.0 921.6 1457.2 926.4 1458.3 927.5 1459.5 921.2 1460.7 920.2 1461.8 925.0 1463.0 926.3 1464.2 923.1 1465.3 925.1 1466.5 926.3 1467.6 920.6 1468.8 918.7 1470.0 914.7 1471.1 919.2 1472.3 918.5 1473.5 921.6 1474.6 921.4 1475.8 921.6 1477.0 912.1 1478.1 913.0 1479.3 912.6 1480.4 907.2 1481.6 913.4 1482.8 921.7 1483.9 917.1 1485.1 914.4 1486.3 914.0 1487.4 915.3 1488.6 911.2 1489.8 915.4 1490.9 920.2 1492.1 920.5 1493.2 915.7 1494.4 914.4 1495.6 912.7 1496.7 913.7 1497.9 913.0 1499.1 914.6 1500.2 919.5 1501.4 915.5 1502.6 910.3 1503.7 911.2 1504.9 920.3 1506.0 932.4 1507.2 920.9 1508.4 918.2 1509.5 914.2 1510.7 914.7 1511.9 924.2 1513.0 920.7 1514.2 916.6 1515.3 918.6 1516.5 917.0 1517.7 914.6 1518.8 908.4 1520.0 912.9 1521.2 918.9 1522.3 913.4 1523.5 915.4 1524.7 922.4 1525.8 916.0 1527.0 914.8 1528.1 913.7 1529.3 915.5 1530.5 916.1 1531.6 925.2 1532.8 924.1 1534.0 918.0 1535.1 911.0 1536.3 913.2 1537.5 916.0 1538.6 908.1 1539.8 913.3 1540.9 915.7 1542.1 913.5 1543.3 919.4 1544.4 915.5 1545.6 919.0 1546.8 917.9 1547.9 918.3 1549.1 922.4 1550.3 926.2 1551.4 919.2 1552.6 921.4 1553.7 925.3 1554.9 931.6 1556.1 926.4 1557.2 929.9 1558.4 927.5 1559.6 926.9 1560.7 928.2 1561.9 923.6 1563.1 923.6 1564.2 916.4 1565.4 922.1 1566.5 927.9 1567.7 914.6 1568.9 913.3 1570.0 917.8 1571.2 922.2 1572.4 918.9 1573.5 924.2 1574.7 919.2 1575.9 927.1 1577.0 919.5 1578.2 923.1 1579.3 921.9 1580.5 925.0 1581.7 917.2 1582.8 923.2 1584.0 930.5 1585.2 929.2 1586.3 927.9 1587.5 929.1 1588.7 935.8 1589.8 929.5 1591.0 928.7 1592.1 926.7 1593.3 933.2 1594.5 936.0 1595.6 928.4 1596.8 932.1 1598.0 931.4 1599.1 926.6 1600.3 927.8 1601.5 927.1 1602.6 922.1 1603.8 931.3 1604.9 923.5 1606.1 923.1 1607.3 927.4 1608.4 926.8 1609.6 928.6 1610.8 926.8 1611.9 921.8 1613.1 926.1 1614.3 933.6 1615.4 925.2 1616.6 923.6 1617.7 928.9 1618.9 921.7 1620.1 925.5 1621.2 933.6 1622.4 925.1 1623.6 911.8 1624.7 915.2 1625.9 919.6 1627.1 916.6 1628.2 921.8 1629.4 920.1 1630.5 921.0 1631.7 921.0 1632.9 920.0 1634.0 922.0 1635.2 921.2 1636.4 920.8 1637.5 923.0 1638.7 920.5 1639.9 922.5 1641.0 924.1 1642.2 920.3 1643.3 913.3 1644.5 915.8 1645.7 930.5 1646.8 925.8 1648.0 919.1 1649.2 909.7 1650.3 915.0 1651.5 922.1 1652.7 916.8 1653.8 915.6 1655.0 922.6 1656.1 921.4 1657.3 911.9 1658.5 913.5 1659.6 914.3 1660.8 914.7 1662.0 915.5 1663.1 911.8 1664.3 904.9 1665.5 907.6 1666.6 907.1 1667.8 909.7 1668.9 909.8 1670.1 915.0 1671.3 905.5 1672.4 901.3 1673.6 897.3 1674.8 901.7 1675.9 907.5 1677.1 903.8 1678.3 900.2 1679.4 901.1 1680.6 900.4 1681.7 896.4 1682.9 889.2 1684.1 896.8 1685.2 895.9 1686.4 890.9 1687.6 894.4 1688.7 892.0 1689.9 894.5 1691.1 896.7 1692.2 895.5 1693.4 894.0 1694.5 896.3 1695.7 893.4 1696.9 895.5 1698.0 893.9 1699.2 896.0 1700.4 896.1 1701.5 897.0 1702.7 899.9 1703.9 901.0 1705.0 905.8 1706.2 898.1 1707.3 906.3 1708.5 899.9 1709.7 893.6 1710.8 888.0 1712.0 892.5 1713.2 893.6 1714.3 893.8 1715.5 895.4 1716.7 893.8 1717.8 894.2 1719.0 892.3 1720.1 892.0 1721.3 895.3 1722.5 888.6 1723.6 883.1 1724.8 888.8 1726.0 893.3 1727.1 889.8 1728.3 882.1 1729.5 882.8 1730.6 883.3 1731.8 887.7 1732.9 886.9 1734.1 894.4 1735.3 895.2 1736.4 895.8 1737.6 890.1 1738.8 894.1 1739.9 895.5 1741.1 891.6 1742.3 884.1 1743.4 886.0 1744.6 882.1 1745.7 890.1 1746.9 892.0 1748.1 894.4 1749.2 891.6 1750.4 888.4 1751.6 888.0 1752.7 889.5 1753.9 889.0 1755.1 894.7 1756.2 888.3 1757.4 890.2 1758.5 900.0 1759.7 887.4 1760.9 883.5 1762.0 878.5 1763.2 883.7 1764.4 883.5 1765.5 885.8 1766.7 890.9 1767.9 892.3 1769.0 886.9 1770.2 887.4 1771.3 896.7 1772.5 901.3 1773.7 897.4 1774.8 898.3 1776.0 891.0 1777.2 898.3 1778.3 895.5 1779.5 896.5 1780.7 895.6 1781.8 901.7 1783.0 903.1 1784.1 903.3 1785.3 905.1 1786.5 900.5 1787.6 903.2 1788.8 903.9 1790.0 907.4 1791.1 909.9 1792.3 906.5 1793.5 912.6 1794.6 908.8 1795.8 907.5 1796.9 909.2 1798.1 912.6 1799.3 904.7 1800.4 911.6 1801.6 912.1 1802.8 913.6 1803.9 912.5 1805.1 908.9 1806.2 911.1 1807.4 920.6 1808.6 916.5 1809.7 920.9 1810.9 922.8 1812.1 918.4 1813.2 921.4 1814.4 917.0 1815.6 916.1 1816.7 919.6 1817.9 916.7 1819.0 916.5 1820.2 918.5 1821.4 917.3 1822.5 920.7 1823.7 923.0 1824.9 932.0 1826.0 924.3 1827.2 918.6 1828.4 917.7 1829.5 918.2 1830.7 918.4 1831.8 910.2 1833.0 912.6 1834.2 914.6 1835.3 912.1 1836.5 913.3 1837.7 910.8 1838.8 912.5 1840.0 913.0 1841.2 913.2 1842.3 914.2 1843.5 909.7 1844.6 909.2 1845.8 910.6 1847.0 898.9 1848.1 903.3 1849.3 897.8 1850.5 892.0 1851.6 900.3 1852.8 895.9 1854.0 891.5 1855.1 891.0 1856.3 890.3 1857.4 880.5 1858.6 873.6 1859.8 863.0 1860.9 871.3 1862.1 864.7 1863.3 855.3 1864.4 855.2 1865.6 852.4 1866.8 856.6 1867.9 847.7 1869.1 843.1 1870.2 846.8 1871.4 839.0 1872.6 832.7 1873.7 827.3 1874.9 826.1 1876.1 824.6 1877.2 819.2 1878.4 816.8 1879.6 812.1 1880.7 797.2 1881.9 785.9 1883.0 786.4 1884.2 780.3 1885.4 775.8 1886.5 763.8 1887.7 762.0 1888.9 754.1 1890.0 747.3 1891.2 743.9 1892.4 742.5 1893.5 736.7 1894.7 730.3 1895.8 720.3 1897.0 716.8 1898.2 712.4 1899.3 712.0 1900.5 715.2 1901.7 709.3 1902.8 717.1 1904.0 719.6 1905.2 713.6 1906.3 715.7 1907.5 723.1 1908.6 720.5 1909.8 722.2 1911.0 722.5 1912.1 717.9 1913.3 726.7 1914.5 728.8 1915.6 728.1 1916.8 725.9 1918.0 733.9 1919.1 739.1 1920.3 742.5 1921.4 748.5 1922.6 753.4 1923.8 761.5 1924.9 770.1 1926.1 764.1 1927.3 777.0 1928.4 783.7 1929.6 779.3 1930.8 790.8 1931.9 799.0 1933.1 802.6 1934.2 805.3 1935.4 808.7 1936.6 808.1 1937.7 819.1 1938.9 826.6 1940.1 830.7 1941.2 832.8 1942.4 834.3 1943.6 835.6 1944.7 838.7 1945.9 840.9 1947.0 844.7 1948.2 842.1 1949.4 852.5 1950.5 858.4 1951.7 858.9 1952.9 865.3 1954.0 866.1 1955.2 871.4 1956.4 879.3 1957.5 871.8 1958.7 876.8 1959.8 878.1 1961.0 880.8 1962.2 886.9 1963.3 881.2 1964.5 891.0 1965.7 897.5 1966.8 895.1 1968.0 897.7 1969.2 896.1 1970.3 903.0 1971.5 905.6 1972.6 906.4 1973.8 911.3 1975.0 908.6 1976.1 908.2 1977.3 901.7 1978.5 911.7 1979.6 910.3 1980.8 912.6 1982.0 911.8 1983.1 909.6 1984.3 913.2 1985.4 918.7 1986.6 914.7 1987.8 910.1 1988.9 914.2 1990.1 917.7 1991.3 906.8 1992.4 906.9 1993.6 918.3 1994.8 918.7 1995.9 920.2 1997.1 918.2 1998.2 919.3 1999.4 916.2 2000.6 915.9 2001.7 920.5 2002.9 924.0 2004.1 921.1 2005.2 913.5 2006.4 915.0 2007.6 926.1 2008.7 926.0 2009.9 925.9 2011.0 928.9 2012.2 936.6 2013.4 933.6 2014.5 931.0 2015.7 931.7 2016.9 930.7 2018.0 940.9" stroke="#EF4043"/>
<path d="M193.5 717.5 194.7 714.2 195.8 720.1 197.0 712.0 198.2 719.8 199.3 715.4 200.5 715.0 201.6 710.9 202.8 716.0 204.0 714.1 205.1 717.2 206.3 713.6 207.5 713.4 208.6 716.9 209.8 722.2 211.0 715.1 212.1 721.8 213.3 719.9 214.4 712.7 215.6 715.6 216.8 717.7 217.9 721.8 219.1 717.3 220.3 712.6 221.4 715.1 222.6 715.0 223.8 715.1 224.9 720.0 226.1 712.6 227.2 710.2 228.4 709.1 229.6 703.2 230.7 706.7 231.9 709.3 233.1 710.4 234.2 716.2 235.4 711.9 236.6 712.1 237.7 708.1 238.9 702.4 240.0 708.7 241.2 711.2 242.4 706.6 243.5 707.9 244.7 707.2 245.9 705.3 247.0 706.9 248.2 715.6 249.4 713.2 250.5 708.3 251.7 708.5 252.8 701.2 254.0 709.6 255.2 705.7 256.3 705.9 257.5 701.0 258.7 700.2 259.8 700.3 261.0 707.0 262.2 699.8 263.3 699.7 264.5 705.7 265.6 703.7 266.8 698.4 268.0 697.5 269.1 700.1 270.3 694.3 271.5 697.0 272.6 701.3 273.8 701.3 275.0 693.6 276.1 689.9 277.3 699.3 278.4 703.2 279.6 694.3 280.8 691.0 281.9 686.4 283.1 691.5 284.3 690.7 285.4 690.6 286.6 685.2 287.8 689.2 288.9 688.0 290.1 688.2 291.2 687.1 292.4 688.3 293.6 687.5 294.7 686.3 295.9 679.7 297.1 680.9 298.2 677.8 299.4 680.9 300.6 680.8 301.7 677.0 302.9 680.8 304.0 679.8 305.2 679.4 306.4 680.1 307.5 683.7 308.7 678.3 309.9 672.3 311.0 672.7 312.2 676.5 313.4 674.6 314.5 676.8 315.7 675.1 316.8 674.3 318.0 675.9 319.2 671.8 320.3 672.1 321.5 671.8 322.7 672.6 323.8 676.4 325.0 674.1 326.2 672.6 327.3 668.5 328.5 659.3 329.6 664.2 330.8 666.5 332.0 669.9 333.1 665.4 334.3 666.1 335.5 668.3 336.6 664.6 337.8 666.1 339.0 664.3 340.1 662.8 341.3 662.0 342.4 659.4 343.6 655.2 344.8 661.7 345.9 663.9 347.1 658.0 348.3 652.4 349.4 652.3 350.6 651.4 351.7 643.9 352.9 648.6 354.1 643.0 355.2 650.5 356.4 644.6 357.6 650.4 358.7 642.0 359.9 642.3 361.1 644.6 362.2 648.0 363.4 640.7 364.5 639.4 365.7 634.8 366.9 635.0 368.0 632.2 369.2 636.0 370.4 632.2 371.5 628.2 372.7 628.4 373.9 621.2 375.0 628.4 376.2 624.2 377.3 620.2 378.5 620.8 379.7 621.0 380.8 618.9 382.0 620.1 383.2 614.7 384.3 612.0 385.5 610.4 386.7 607.7 387.8 605.8 389.0 603.9 390.1 600.8 391.3 593.8 392.5 591.5 393.6 592.6 394.8 583.1 396.0 574.7 397.1 575.7 398.3 566.3 399.5 572.9 400.6 577.5 401.8 568.3 402.9 568.3 404.1 554.8 405.3 564.1 406.4 554.1 407.6 555.2 408.8 548.8 409.9 545.7 411.1 539.4 412.3 533.8 413.4 539.7 414.6 538.8 415.7 532.9 416.9 535.6 418.1 534.3 419.2 539.7 420.4 534.8 421.6 539.7 422.7 544.5 423.9 542.0 425.1 542.8 426.2 544.4 427.4 543.7 428.5 544.4 429.7 540.8 430.9 546.9 432.0 546.1 433.2 553.2 434.4 554.6 435.5 559.4 436.7 566.7 437.9 562.5 439.0 572.9 440.2 574.4 441.3 582.1 442.5 582.8 443.7 588.3 444.8 590.7 446.0 600.1 447.2 601.8 448.3 607.7 449.5 614.9 450.7 617.3 451.8 625.1 453.0 626.3 454.1 634.5 455.3 635.6 456.5 643.4 457.6 639.8 458.8 638.8 460.0 642.6 461.1 649.9 462.3 651.0 463.5 645.9 464.6 646.6 465.8 648.2 466.9 651.5 468.1 650.3 469.3 654.5 470.4 654.2 471.6 658.8 472.8 656.8 473.9 663.7 475.1 659.2 476.3 654.3 477.4 659.1 478.6 665.1 479.7 661.0 480.9 662.9 482.1 672.2 483.2 665.6 484.4 666.5 485.6 666.8 486.7 667.9 487.9 672.0 489.1 663.7 490.2 669.8 491.4 672.5 492.5 675.4 493.7 676.1 494.9 668.1 496.0 672.2 497.2 676.1 498.4 678.6 499.5 682.6 500.7 684.1 501.9 687.6 503.0 683.7 504.2 684.0 505.3 683.5 506.5 691.8 507.7 694.3 508.8 696.9 510.0 693.7 511.2 695.5 512.3 693.4 513.5 695.7 514.7 693.0 515.8 696.0 517.0 696.8 518.1 696.3 519.3 698.6 520.5 697.0 521.6 693.7 522.8 690.1 524.0 694.4 525.1 694.8 526.3 701.3 527.5 698.7 528.6 700.7 529.8 704.8 530.9 703.6 532.1 705.0 533.3 703.2 534.4 705.7 535.6 710.2 536.8 705.0 537.9 709.4 539.1 717.5 540.3 706.6 541.4 701.0 542.6 706.2 543.7 708.3 544.9 701.5 546.1 702.8 547.2 713.7 548.4 706.5 549.6 704.5 550.7 700.2 551.9 705.1 553.1 713.1 554.2 706.0 555.4 708.0 556.5 709.8 557.7 698.4 558.9 705.5 560.0 702.3 561.2 705.0 562.4 707.4 563.5 703.3 564.7 704.0 565.9 701.1 567.0 702.6 568.2 703.6 569.3 702.1 570.5 700.9 571.7 702.9 572.8 698.2 574.0 699.9 575.2 702.7 576.3 699.8 577.5 695.1 578.7 699.5 579.8 701.6 581.0 694.3 582.1 697.9 583.3 686.3 584.5 696.7 585.6 691.0 586.8 686.3 588.0 683.7 589.1 684.5 590.3 683.2 591.5 681.9 592.6 679.7 593.8 673.8 594.9 674.3 596.1 672.8 597.3 677.2 598.4 672.8 599.6 676.5 600.8 673.8 601.9 680.6 603.1 682.4 604.3 685.0 605.4 688.0 606.6 686.4 607.7 689.3 608.9 692.5 610.1 689.8 611.2 688.4 612.4 689.5 613.6 691.4 614.7 682.9 615.9 697.4 617.1 693.5 618.2 697.5 619.4 691.2 620.5 696.5 621.7 700.9 622.9 703.7 624.0 709.3 625.2 704.1 626.4 703.7 627.5 706.6 628.7 704.9 629.9 711.6 631.0 705.8 632.2 700.5 633.3 708.7 634.5 708.2 635.7 710.0 636.8 700.0 638.0 712.6 639.2 713.4 640.3 705.9 641.5 695.5 642.6 702.0 643.8 697.7 645.0 700.0 646.1 712.3 647.3 707.0 648.5 702.3 649.6 700.2 650.8 711.1 652.0 712.1 653.1 710.6 654.3 710.3 655.4 703.6 656.6 700.5 657.8 705.6 658.9 705.4 660.1 708.3 661.3 709.2 662.4 707.3 663.6 707.0 664.8 699.6 665.9 705.5 667.1 706.0 668.2 707.0 669.4 713.0 670.6 713.1 671.7 703.2 672.9 707.8 674.1 706.3 675.2 710.3 676.4 716.0 677.6 706.0 678.7 706.7 679.9 706.6 681.0 708.8 682.2 709.1 683.4 701.2 684.5 704.5 685.7 707.8 686.9 715.0 688.0 711.3 689.2 710.2 690.4 715.1 691.5 708.3 692.7 709.6 693.8 705.7 695.0 706.1 696.2 712.4 697.3 711.2 698.5 708.8 699.7 705.1 700.8 707.0 702.0 712.3 703.2 706.8 704.3 700.2 705.5 703.8 706.6 707.0 707.8 709.5 709.0 706.0 710.1 708.0 711.3 716.6 712.5 708.3 713.6 704.2 714.8 709.7 716.0 715.2 717.1 713.1 718.3 706.8 719.4 703.8 720.6 697.6 721.8 704.1 722.9 709.2 724.1 701.7 725.3 708.4 726.4 708.7 727.6 699.3 728.8 687.6 729.9 700.0 731.1 705.8 732.2 703.1 733.4 703.3 734.6 706.2 735.7 711.2 736.9 708.5 738.1 708.5 739.2 707.7 740.4 707.7 741.6 703.9 742.7 700.1 743.9 701.0 745.0 713.5 746.2 704.7 747.4 708.4 748.5 707.1 749.7 707.1 750.9 705.0 752.0 704.1 753.2 701.7 754.4 697.7 755.5 702.3 756.7 702.3 757.8 701.0 759.0 706.5 760.2 706.7 761.3 701.0 762.5 700.4 763.7 698.8 764.8 701.4 766.0 697.8 767.2 699.2 768.3 705.5 769.5 697.8 770.6 703.2 771.8 699.9 773.0 697.3 774.1 701.6 775.3 700.4 776.5 701.6 777.6 699.4 778.8 698.7 780.0 696.6 781.1 697.5 782.3 701.4 783.4 700.5 784.6 695.7 785.8 698.0 786.9 699.6 788.1 693.2 789.3 691.1 790.4 698.8 791.6 694.7 792.8 698.4 793.9 703.4 795.1 694.9 796.2 697.4 797.4 696.8 798.6 701.0 799.7 698.6 800.9 694.1 802.1 699.8 803.2 702.5 804.4 699.0 805.6 694.9 806.7 703.3 807.9 697.1 809.0 693.8 810.2 690.5 811.4 694.2 812.5 692.3 813.7 696.8 814.9 698.2 816.0 697.1 817.2 695.8 818.4 694.9 819.5 698.1 820.7 697.8 821.8 689.3 823.0 697.0 824.2 699.1 825.3 697.5 826.5 696.6 827.7 697.5 828.8 689.3 830.0 695.2 831.2 686.8 832.3 688.6 833.5 687.7 834.6 690.7 835.8 692.0 837.0 690.8 838.1 688.7 839.3 684.5 840.5 695.4 841.6 700.3 842.8 694.2 844.0 687.1 845.1 682.1 846.3 690.7 847.4 692.1 848.6 691.4 849.8 693.3 850.9 689.3 852.1 686.5 853.3 689.8 854.4 694.9 855.6 698.2 856.8 688.9 857.9 691.1 859.1 686.1 860.2 686.3 861.4 677.4 862.6 684.5 863.7 692.2 864.9 687.6 866.1 691.1 867.2 692.1 868.4 700.7 869.6 695.6 870.7 692.9 871.9 701.3 873.0 694.8 874.2 690.1 875.4 691.4 876.5 695.8 877.7 698.1 878.9 685.8 880.0 690.5 881.2 688.6 882.4 690.5 883.5 682.5 884.7 690.9 885.8 690.9 887.0 691.5 888.2 691.3 889.3 693.1 890.5 694.5 891.7 690.1 892.8 696.7 894.0 693.4 895.2 693.8 896.3 695.0 897.5 694.3 898.6 695.4 899.8 685.7 901.0 689.1 902.1 688.7 903.3 687.9 904.5 692.6 905.6 693.4 906.8 691.6 908.0 693.3 909.1 691.5 910.3 691.7 911.4 685.5 912.6 689.6 913.8 686.5 914.9 693.1 916.1 693.4 917.3 695.3 918.4 695.4 919.6 691.4 920.8 687.5 921.9 689.2 923.1 691.7 924.2 692.7 925.4 692.6 926.6 687.7 927.7 688.7 928.9 693.3 930.1 688.4 931.2 692.1 932.4 692.4 933.5 694.1 934.7 687.9 935.9 692.8 937.0 691.0 938.2 692.4 939.4 689.0 940.5 692.1 941.7 693.5 942.9 693.1 944.0 693.6 945.2 692.4 946.3 692.0 947.5 692.5 948.7 688.7 949.8 692.5 951.0 689.5 952.2 692.2 953.3 692.4 954.5 689.1 955.7 690.8 956.8 694.5 958.0 693.9 959.1 692.7 960.3 689.2 961.5 681.3 962.6 687.1 963.8 690.9 965.0 692.2 966.1 686.4 967.3 692.0 968.5 683.2 969.6 689.7 970.8 697.9 971.9 689.2 973.1 688.7 974.3 687.2 975.4 691.5 976.6 686.1 977.8 686.4 978.9 685.2 980.1 683.2 981.3 684.5 982.4 683.7 983.6 688.7 984.7 683.5 985.9 683.0 987.1 675.0 988.2 683.4 989.4 681.4 990.6 678.6 991.7 678.2 992.9 669.9 994.1 673.8 995.2 678.1 996.4 677.2 997.5 680.6 998.7 678.9 999.9 682.7 1001.0 680.9 1002.2 675.8 1003.4 683.0 1004.5 683.2 1005.7 680.7 1006.9 681.3 1008.0 685.1 1009.2 689.9 1010.3 688.5 1011.5 689.9 1012.7 690.7 1013.8 692.2 1015.0 691.6 1016.2 689.1 1017.3 700.3 1018.5 695.3 1019.7 688.3 1020.8 692.9 1022.0 701.5 1023.1 702.4 1024.3 699.5 1025.5 703.3 1026.6 698.1 1027.8 694.1 1029.0 695.6 1030.1 696.5 1031.3 694.3 1032.5 703.5 1033.6 695.3 1034.8 692.4 1035.9 696.9 1037.1 696.0 1038.3 701.0 1039.4 702.2 1040.6 698.3 1041.8 691.8 1042.9 696.7 1044.1 693.5 1045.3 700.1 1046.4 692.4 1047.6 693.2 1048.7 693.0 1049.9 698.5 1051.1 691.3 1052.2 691.7 1053.4 693.9 1054.6 686.3 1055.7 689.5 1056.9 692.6 1058.1 687.2 1059.2 684.8 1060.4 688.5 1061.5 691.2 1062.7 692.3 1063.9 688.4 1065.0 685.4 1066.2 681.0 1067.4 688.2 1068.5 687.6 1069.7 691.7 1070.9 693.1 1072.0 692.8 1073.2 690.6 1074.3 699.6 1075.5 694.6 1076.7 692.6 1077.8 694.2 1079.0 697.0 1080.2 690.6 1081.3 692.7 1082.5 690.6 1083.7 691.8 1084.8 699.7 1086.0 690.9 1087.1 693.8 1088.3 697.1 1089.5 696.2 1090.6 695.2 1091.8 697.7 1093.0 694.7 1094.1 700.5 1095.3 706.5 1096.5 698.6 1097.6 696.1 1098.8 701.6 1099.9 696.9 1101.1 706.6 1102.3 700.1 1103.4 707.0 1104.6 701.5 1105.8 699.9 1106.9 703.2 1108.1 697.5 1109.3 701.7 1110.4 704.4 1111.6 704.9 1112.7 701.9 1113.9 699.3 1115.1 713.4 1116.2 714.1 1117.4 700.6 1118.6 704.2 1119.7 701.6 1120.9 704.0 1122.1 712.5 1123.2 702.6 1124.4 705.3 1125.5 706.8 1126.7 707.7 1127.9 709.0 1129.0 699.5 1130.2 704.2 1131.4 704.2 1132.5 702.9 1133.7 701.8 1134.9 706.0 1136.0 702.8 1137.2 704.0 1138.3 702.1 1139.5 703.6 1140.7 710.6 1141.8 702.1 1143.0 705.0 1144.2 699.2 1145.3 709.1 1146.5 704.1 1147.7 701.7 1148.8 704.6 1150.0 705.0 1151.1 709.6 1152.3 704.6 1153.5 704.6 1154.6 702.6 1155.8 709.9 1157.0 715.7 1158.1 707.4 1159.3 702.8 1160.5 711.6 1161.6 705.5 1162.8 706.9 1163.9 701.0 1165.1 704.4 1166.3 704.9 1167.4 708.7 1168.6 707.2 1169.8 709.3 1170.9 705.7 1172.1 704.6 1173.3 704.0 1174.4 703.2 1175.6 705.0 1176.7 705.4 1177.9 709.3 1179.1 704.1 1180.2 702.0 1181.4 709.2 1182.6 712.2 1183.7 705.6 1184.9 700.4 1186.1 704.2 1187.2 702.7 1188.4 703.9 1189.5 703.9 1190.7 699.5 1191.9 704.0 1193.0 704.1 1194.2 701.8 1195.4 699.7 1196.5 703.7 1197.7 705.5 1198.9 711.4 1200.0 704.5 1201.2 700.7 1202.3 699.7 1203.5 698.0 1204.7 707.4 1205.8 709.0 1207.0 698.2 1208.2 703.9 1209.3 703.5 1210.5 707.1 1211.7 708.8 1212.8 707.3 1214.0 706.8 1215.1 699.0 1216.3 696.5 1217.5 690.7 1218.6 697.6 1219.8 695.5 1221.0 704.4 1222.1 706.5 1223.3 704.8 1224.4 701.0 1225.6 701.6 1226.8 702.5 1227.9 696.3 1229.1 693.6 1230.3 699.9 1231.4 701.5 1232.6 700.6 1233.8 699.7 1234.9 703.4 1236.1 700.4 1237.2 700.5 1238.4 700.7 1239.6 698.5 1240.7 704.0 1241.9 699.5 1243.1 701.8 1244.2 700.8 1245.4 696.6 1246.6 692.4 1247.7 700.5 1248.9 703.4 1250.0 699.6 1251.2 704.5 1252.4 700.8 1253.5 701.5 1254.7 698.9 1255.9 699.5 1257.0 703.3 1258.2 703.6 1259.4 697.1 1260.5 704.2 1261.7 702.3 1262.8 701.6 1264.0 700.7 1265.2 698.1 1266.3 707.0 1267.5 705.0 1268.7 697.8 1269.8 699.4 1271.0 698.9 1272.2 701.2 1273.3 702.5 1274.5 708.3 1275.6 705.2 1276.8 709.1 1278.0 706.5 1279.1 700.9 1280.3 704.8 1281.5 703.6 1282.6 700.2 1283.8 703.6 1285.0 704.7 1286.1 701.2 1287.3 708.0 1288.4 711.0 1289.6 710.9 1290.8 695.3 1291.9 699.5 1293.1 697.5 1294.3 696.3 1295.4 699.4 1296.6 698.6 1297.8 699.4 1298.9 700.2 1300.1 698.1 1301.2 701.2 1302.4 703.0 1303.6 706.1 1304.7 692.0 1305.9 698.5 1307.1 706.5 1308.2 705.1 1309.4 700.4 1310.6 705.4 1311.7 707.7 1312.9 704.5 1314.0 698.7 1315.2 702.0 1316.4 693.9 1317.5 701.1 1318.7 702.3 1319.9 705.7 1321.0 706.0 1322.2 703.6 1323.4 700.7 1324.5 697.5 1325.7 700.9 1326.8 703.2 1328.0 702.5 1329.2 697.5 1330.3 692.9 1331.5 702.8 1332.7 703.7 1333.8 703.2 1335.0 701.7 1336.2 696.6 1337.3 699.6 1338.5 701.3 1339.6 697.8 1340.8 699.3 1342.0 691.2 1343.1 694.2 1344.3 695.7 1345.5 696.1 1346.6 696.4 1347.8 703.7 1349.0 703.8 1350.1 697.6 1351.3 699.7 1352.4 697.8 1353.6 697.8 1354.8 696.8 1355.9 697.9 1357.1 699.8 1358.3 695.0 1359.4 695.9 1360.6 692.3 1361.8 690.1 1362.9 689.6 1364.1 687.9 1365.2 691.7 1366.4 694.4 1367.6 695.4 1368.7 691.4 1369.9 692.6 1371.1 686.6 1372.2 692.7 1373.4 691.3 1374.6 694.3 1375.7 693.2 1376.9 702.6 1378.0 697.0 1379.2 693.8 1380.4 702.3 1381.5 698.1 1382.7 691.5 1383.9 695.7 1385.0 697.4 1386.2 686.7 1387.4 692.4 1388.5 698.2 1389.7 697.7 1390.8 694.6 1392.0 689.9 1393.2 689.6 1394.3 689.5 1395.5 693.3 1396.7 693.0 1397.8 694.8 1399.0 696.1 1400.2 685.9 1401.3 689.8 1402.5 693.4 1403.6 694.9 1404.8 698.3 1406.0 693.7 1407.1 695.7 1408.3 695.5 1409.5 695.5 1410.6 696.0 1411.8 699.8 1413.0 703.8 1414.1 697.0 1415.3 697.5 1416.4 690.2 1417.6 692.7 1418.8 699.1 1419.9 698.8 1421.1 693.8 1422.3 692.1 1423.4 694.4 1424.6 700.3 1425.8 693.5 1426.9 692.8 1428.1 692.2 1429.2 685.3 1430.4 690.6 1431.6 694.6 1432.7 689.0 1433.9 690.9 1435.1 699.1 1436.2 699.6 1437.4 690.3 1438.6 686.3 1439.7 691.6 1440.9 696.5 1442.0 689.1 1443.2 692.4 1444.4 693.2 1445.5 690.8 1446.7 679.4 1447.9 691.4 1449.0 687.0 1450.2 687.1 1451.4 687.7 1452.5 686.6 1453.7 686.1 1454.8 685.4 1456.0 688.0 1457.2 692.6 1458.3 690.6 1459.5 687.9 1460.7 694.8 1461.8 693.2 1463.0 685.6 1464.2 687.2 1465.3 687.2 1466.5 686.8 1467.6 682.2 1468.8 684.8 1470.0 684.9 1471.1 686.9 1472.3 686.0 1473.5 683.9 1474.6 676.2 1475.8 682.4 1477.0 683.5 1478.1 688.8 1479.3 693.8 1480.4 689.7 1481.6 688.9 1482.8 688.0 1483.9 692.5 1485.1 690.3 1486.3 689.8 1487.4 677.4 1488.6 685.8 1489.8 686.9 1490.9 684.7 1492.1 686.7 1493.2 687.8 1494.4 681.8 1495.6 680.4 1496.7 686.6 1497.9 685.0 1499.1 683.8 1500.2 678.8 1501.4 675.5 1502.6 682.9 1503.7 686.4 1504.9 683.8 1506.0 685.1 1507.2 683.9 1508.4 682.5 1509.5 684.7 1510.7 682.5 1511.9 684.0 1513.0 682.3 1514.2 681.6 1515.3 678.7 1516.5 682.5 1517.7 686.0 1518.8 685.9 1520.0 686.4 1521.2 687.7 1522.3 692.5 1523.5 685.0 1524.7 684.2 1525.8 685.1 1527.0 676.4 1528.1 683.1 1529.3 684.0 1530.5 685.4 1531.6 677.7 1532.8 684.9 1534.0 691.5 1535.1 685.0 1536.3 689.3 1537.5 689.6 1538.6 685.0 1539.8 683.1 1540.9 688.2 1542.1 686.0 1543.3 690.6 1544.4 693.4 1545.6 686.0 1546.8 688.8 1547.9 690.1 1549.1 689.1 1550.3 694.9 1551.4 688.7 1552.6 687.8 1553.7 685.5 1554.9 679.6 1556.1 689.0 1557.2 695.4 1558.4 682.7 1559.6 679.4 1560.7 684.8 1561.9 689.0 1563.1 688.9 1564.2 689.9 1565.4 689.5 1566.5 689.8 1567.7 688.5 1568.9 693.0 1570.0 695.8 1571.2 690.2 1572.4 687.3 1573.5 685.5 1574.7 691.4 1575.9 692.9 1577.0 683.8 1578.2 688.6 1579.3 688.2 1580.5 689.6 1581.7 688.2 1582.8 689.6 1584.0 697.3 1585.2 689.3 1586.3 687.8 1587.5 691.1 1588.7 692.2 1589.8 692.9 1591.0 690.4 1592.1 689.5 1593.3 693.3 1594.5 697.1 1595.6 693.4 1596.8 692.1 1598.0 687.9 1599.1 687.5 1600.3 686.9 1601.5 686.4 1602.6 685.9 1603.8 682.0 1604.9 687.8 1606.1 689.1 1607.3 690.4 1608.4 688.2 1609.6 685.2 1610.8 687.2 1611.9 687.3 1613.1 685.6 1614.3 689.5 1615.4 685.0 1616.6 686.4 1617.7 692.4 1618.9 687.1 1620.1 683.4 1621.2 683.4 1622.4 687.1 1623.6 683.9 1624.7 684.2 1625.9 684.8 1627.1 686.3 1628.2 681.9 1629.4 690.7 1630.5 681.0 1631.7 685.9 1632.9 682.1 1634.0 680.7 1635.2 687.6 1636.4 684.0 1637.5 686.2 1638.7 682.4 1639.9 680.0 1641.0 680.4 1642.2 682.5 1643.3 686.6 1644.5 680.2 1645.7 678.1 1646.8 671.5 1648.0 676.7 1649.2 676.2 1650.3 675.7 1651.5 676.8 1652.7 677.9 1653.8 677.2 1655.0 683.1 1656.1 679.6 1657.3 679.0 1658.5 676.0 1659.6 672.5 1660.8 681.9 1662.0 674.8 1663.1 676.5 1664.3 677.2 1665.5 668.1 1666.6 678.5 1667.8 682.8 1668.9 672.9 1670.1 672.4 1671.3 673.0 1672.4 681.0 1673.6 667.9 1674.8 679.5 1675.9 678.2 1677.1 678.3 1678.3 669.5 1679.4 678.3 1680.6 677.5 1681.7 676.0 1682.9 672.0 1684.1 670.1 1685.2 668.0 1686.4 674.7 1687.6 674.9 1688.7 668.1 1689.9 667.9 1691.1 670.1 1692.2 669.2 1693.4 670.8 1694.5 671.9 1695.7 671.5 1696.9 665.2 1698.0 665.1 1699.2 659.8 1700.4 662.4 1701.5 658.7 1702.7 656.3 1703.9 658.1 1705.0 654.9 1706.2 651.9 1707.3 650.8 1708.5 652.7 1709.7 646.6 1710.8 646.4 1712.0 649.7 1713.2 645.9 1714.3 645.1 1715.5 654.4 1716.7 655.8 1717.8 648.5 1719.0 647.6 1720.1 651.3 1721.3 653.4 1722.5 650.6 1723.6 653.9 1724.8 650.3 1726.0 635.2 1727.1 653.5 1728.3 648.2 1729.5 651.5 1730.6 657.5 1731.8 658.4 1732.9 651.3 1734.1 652.4 1735.3 655.6 1736.4 659.2 1737.6 656.2 1738.8 657.5 1739.9 669.1 1741.1 656.7 1742.3 653.0 1743.4 659.0 1744.6 651.1 1745.7 644.5 1746.9 651.0 1748.1 655.1 1749.2 653.5 1750.4 645.9 1751.6 651.9 1752.7 658.4 1753.9 658.0 1755.1 654.9 1756.2 653.4 1757.4 654.3 1758.5 647.4 1759.7 653.2 1760.9 655.7 1762.0 656.2 1763.2 652.1 1764.4 646.3 1765.5 655.6 1766.7 660.7 1767.9 657.3 1769.0 652.2 1770.2 653.7 1771.3 655.0 1772.5 653.5 1773.7 656.0 1774.8 652.2 1776.0 662.3 1777.2 666.6 1778.3 674.7 1779.5 676.4 1780.7 668.5 1781.8 675.4 1783.0 675.0 1784.1 678.2 1785.3 678.0 1786.5 672.5 1787.6 677.4 1788.8 679.2 1790.0 684.2 1791.1 681.9 1792.3 680.3 1793.5 678.0 1794.6 683.0 1795.8 674.4 1796.9 686.2 1798.1 685.4 1799.3 677.3 1800.4 674.0 1801.6 680.8 1802.8 682.2 1803.9 681.8 1805.1 683.9 1806.2 684.5 1807.4 677.8 1808.6 683.3 1809.7 682.2 1810.9 691.7 1812.1 691.0 1813.2 690.2 1814.4 690.5 1815.6 693.0 1816.7 687.0 1817.9 696.2 1819.0 695.3 1820.2 700.5 1821.4 704.0 1822.5 708.8 1823.7 708.0 1824.9 709.8 1826.0 710.4 1827.2 710.9 1828.4 706.0 1829.5 709.8 1830.7 706.3 1831.8 707.5 1833.0 707.8 1834.2 706.0 1835.3 699.1 1836.5 701.1 1837.7 698.1 1838.8 690.3 1840.0 691.8 1841.2 691.1 1842.3 692.5 1843.5 692.4 1844.6 692.7 1845.8 692.2 1847.0 690.8 1848.1 694.8 1849.3 692.8 1850.5 694.8 1851.6 690.2 1852.8 688.1 1854.0 687.0 1855.1 681.4 1856.3 684.5 1857.4 682.7 1858.6 691.1 1859.8 685.3 1860.9 677.2 1862.1 676.1 1863.3 674.3 1864.4 671.2 1865.6 667.0 1866.8 663.5 1867.9 663.7 1869.1 654.2 1870.2 643.7 1871.4 649.7 1872.6 646.7 1873.7 634.4 1874.9 637.6 1876.1 637.3 1877.2 633.4 1878.4 635.2 1879.6 628.2 1880.7 628.9 1881.9 629.7 1883.0 624.5 1884.2 611.8 1885.4 600.0 1886.5 584.6 1887.7 580.7 1888.9 580.7 1890.0 560.3 1891.2 559.1 1892.4 554.1 1893.5 547.3 1894.7 539.4 1895.8 535.9 1897.0 529.8 1898.2 531.7 1899.3 529.1 1900.5 529.7 1901.7 530.7 1902.8 529.8 1904.0 531.6 1905.2 536.7 1906.3 538.0 1907.5 543.1 1908.6 548.6 1909.8 551.1 1911.0 559.5 1912.1 558.5 1913.3 572.1 1914.5 572.1 1915.6 572.6 1916.8 580.2 1918.0 584.0 1919.1 584.2 1920.3 587.0 1921.4 583.5 1922.6 592.7 1923.8 601.8 1924.9 591.4 1926.1 600.3 1927.3 606.3 1928.4 605.4 1929.6 602.9 1930.8 612.8 1931.9 621.7 1933.1 623.9 1934.2 629.3 1935.4 622.4 1936.6 629.4 1937.7 641.5 1938.9 647.3 1940.1 644.0 1941.2 640.2 1942.4 652.1 1943.6 659.8 1944.7 659.9 1945.9 666.5 1947.0 658.4 1948.2 668.3 1949.4 666.4 1950.5 676.4 1951.7 675.6 1952.9 677.8 1954.0 672.0 1955.2 679.6 1956.4 676.9 1957.5 681.1 1958.7 683.2 1959.8 686.3 1961.0 684.6 1962.2 682.7 1963.3 687.7 1964.5 681.8 1965.7 686.0 1966.8 691.5 1968.0 692.4 1969.2 688.4 1970.3 690.4 1971.5 697.8 1972.6 698.5 1973.8 698.3 1975.0 702.7 1976.1 699.1 1977.3 703.7 1978.5 699.8 1979.6 707.3 1980.8 705.3 1982.0 704.2 1983.1 703.0 1984.3 701.9 1985.4 706.0 1986.6 709.2 1987.8 709.3 1988.9 708.6 1990.1 707.6 1991.3 713.3 1992.4 708.4 1993.6 708.5 1994.8 712.0 1995.9 711.6 1997.1 710.5 1998.2 710.9 1999.4 717.1 2000.6 711.8 2001.7 707.1 2002.9 707.6 2004.1 709.4 2005.2 705.5 2006.4 711.1 2007.6 704.5 2008.7 710.5 2009.9 705.0 2011.0 711.3 2012.2 715.0 2013.4 711.7 2014.5 705.5 2015.7 708.6 2016.9 710.1 2018.0 712.0" stroke="#1E6FE0"/>
<path d="M193.5 510.8 194.7 510.6 195.8 508.1 197.0 505.8 198.2 502.0 199.3 506.6 200.5 503.6 201.6 493.1 202.8 498.9 204.0 515.1 205.1 509.2 206.3 505.5 207.5 507.7 208.6 512.3 209.8 504.8 211.0 507.5 212.1 503.7 213.3 499.1 214.4 504.0 215.6 501.0 216.8 505.4 217.9 504.5 219.1 508.0 220.3 500.2 221.4 505.5 222.6 507.6 223.8 502.8 224.9 507.7 226.1 506.0 227.2 495.1 228.4 501.6 229.6 494.2 230.7 501.2 231.9 502.0 233.1 500.7 234.2 502.6 235.4 506.3 236.6 503.0 237.7 501.1 238.9 504.7 240.0 503.5 241.2 504.9 242.4 500.6 243.5 501.0 244.7 504.2 245.9 502.4 247.0 501.9 248.2 499.1 249.4 494.1 250.5 505.0 251.7 497.2 252.8 502.5 254.0 499.9 255.2 505.1 256.3 500.0 257.5 504.5 258.7 500.0 259.8 497.7 261.0 500.9 262.2 500.5 263.3 499.8 264.5 497.7 265.6 495.4 266.8 496.9 268.0 492.6 269.1 496.7 270.3 496.3 271.5 497.2 272.6 502.9 273.8 494.8 275.0 493.7 276.1 496.2 277.3 493.4 278.4 494.6 279.6 494.0 280.8 498.4 281.9 500.0 283.1 493.2 284.3 492.0 285.4 486.7 286.6 490.4 287.8 492.0 288.9 488.6 290.1 488.9 291.2 489.3 292.4 494.6 293.6 487.5 294.7 485.7 295.9 478.6 297.1 484.7 298.2 486.8 299.4 490.7 300.6 489.5 301.7 484.1 302.9 490.8 304.0 481.6 305.2 484.4 306.4 479.3 307.5 480.0 308.7 476.6 309.9 483.9 311.0 483.4 312.2 477.4 313.4 479.5 314.5 477.8 315.7 478.7 316.8 478.1 318.0 474.3 319.2 480.2 320.3 476.0 321.5 475.5 322.7 469.5 323.8 466.4 325.0 471.0 326.2 472.8 327.3 477.6 328.5 475.5 329.6 470.0 330.8 468.2 332.0 468.4 333.1 469.0 334.3 464.3 335.5 465.5 336.6 462.1 337.8 461.8 339.0 461.7 340.1 459.0 341.3 458.8 342.4 456.5 343.6 446.0 344.8 445.5 345.9 448.0 347.1 448.3 348.3 446.7 349.4 442.4 350.6 445.1 351.7 447.7 352.9 449.7 354.1 444.3 355.2 442.9 356.4 442.5 357.6 443.2 358.7 443.7 359.9 445.1 361.1 438.0 362.2 437.3 363.4 433.6 364.5 434.3 365.7 428.4 366.9 430.5 368.0 425.6 369.2 424.3 370.4 420.8 371.5 417.5 372.7 415.8 373.9 408.1 375.0 405.8 376.2 410.2 377.3 409.2 378.5 409.0 379.7 397.8 380.8 403.2 382.0 402.3 383.2 401.2 384.3 400.0 385.5 396.2 386.7 393.4 387.8 390.2 389.0 387.6 390.1 382.5 391.3 381.7 392.5 379.8 393.6 375.5 394.8 382.9 396.0 376.9 397.1 378.2 398.3 370.0 399.5 368.7 400.6 365.6 401.8 359.2 402.9 355.8 404.1 360.6 405.3 363.8 406.4 356.6 407.6 357.3 408.8 351.8 409.9 345.5 411.1 345.3 412.3 345.8 413.4 341.7 414.6 337.8 415.7 333.2 416.9 329.3 418.1 330.0 419.2 333.4 420.4 327.1 421.6 330.3 422.7 328.3 423.9 328.7 425.1 330.9 426.2 331.6 427.4 344.3 428.5 343.9 429.7 345.1 430.9 343.2 432.0 348.5 433.2 355.2 434.4 360.5 435.5 366.0 436.7 376.8 437.9 376.9 439.0 375.4 440.2 382.4 441.3 390.6 442.5 387.7 443.7 398.0 444.8 400.2 446.0 406.9 447.2 409.2 448.3 415.8 449.5 420.2 450.7 421.8 451.8 431.5 453.0 435.6 454.1 435.1 455.3 436.9 456.5 444.1 457.6 440.1 458.8 444.4 460.0 442.1 461.1 442.6 462.3 443.1 463.5 440.0 464.6 444.2 465.8 444.5 466.9 442.3 468.1 447.8 469.3 447.4 470.4 440.9 471.6 446.2 472.8 454.2 473.9 448.3 475.1 451.8 476.3 458.8 477.4 451.3 478.6 454.9 479.7 458.0 480.9 449.4 482.1 453.5 483.2 464.9 484.4 463.4 485.6 461.7 486.7 464.3 487.9 465.2 489.1 472.6 490.2 475.3 491.4 466.3 492.5 470.7 493.7 469.6 494.9 472.1 496.0 475.0 497.2 474.8 498.4 471.0 499.5 472.1 500.7 472.8 501.9 473.0 503.0 475.2 504.2 476.7 505.3 474.6 506.5 475.5 507.7 472.7 508.8 478.8 510.0 486.6 511.2 483.0 512.3 483.7 513.5 485.0 514.7 485.9 515.8 488.1 517.0 484.9 518.1 486.1 519.3 491.2 520.5 489.3 521.6 494.6 522.8 486.8 524.0 491.5 525.1 490.8 526.3 492.1 527.5 496.2 528.6 491.1 529.8 494.8 530.9 494.6 532.1 496.7 533.3 501.1 534.4 499.7 535.6 501.9 536.8 494.8 537.9 510.1 539.1 510.0 540.3 504.3 541.4 500.3 542.6 502.5 543.7 496.0 544.9 491.2 546.1 490.9 547.2 495.8 548.4 498.2 549.6 499.5 550.7 504.4 551.9 500.7 553.1 503.2 554.2 493.0 555.4 493.9 556.5 495.2 557.7 504.9 558.9 501.6 560.0 491.4 561.2 501.6 562.4 495.4 563.5 494.6 564.7 496.0 565.9 494.3 567.0 502.4 568.2 494.7 569.3 494.0 570.5 492.9 571.7 490.3 572.8 492.8 574.0 497.5 575.2 489.0 576.3 482.7 577.5 487.9 578.7 486.1 579.8 483.9 581.0 483.5 582.1 480.0 583.3 479.2 584.5 478.8 585.6 473.2 586.8 476.5 588.0 472.9 589.1 472.7 590.3 476.8 591.5 472.0 592.6 468.0 593.8 470.3 594.9 475.7 596.1 471.4 597.3 468.3 598.4 464.9 599.6 466.7 600.8 467.4 601.9 464.6 603.1 471.1 604.3 472.3 605.4 474.0 606.6 476.3 607.7 471.6 608.9 476.0 610.1 486.7 611.2 479.8 612.4 479.2 613.6 477.7 614.7 482.7 615.9 485.3 617.1 480.5 618.2 486.0 619.4 487.2 620.5 487.4 621.7 493.9 622.9 499.4 624.0 497.9 625.2 492.8 626.4 488.5 627.5 493.0 628.7 495.3 629.9 495.7 631.0 498.7 632.2 500.1 633.3 502.6 634.5 498.8 635.7 497.6 636.8 503.9 638.0 503.3 639.2 496.2 640.3 497.3 641.5 501.1 642.6 507.0 643.8 514.1 645.0 496.2 646.1 497.2 647.3 500.3 648.5 501.8 649.6 503.9 650.8 502.6 652.0 502.0 653.1 500.2 654.3 502.3 655.4 502.2 656.6 505.8 657.8 497.6 658.9 495.5 660.1 500.6 661.3 505.0 662.4 502.0 663.6 498.0 664.8 502.4 665.9 503.2 667.1 494.3 668.2 504.3 669.4 497.2 670.6 499.1 671.7 500.4 672.9 496.7 674.1 490.7 675.2 499.2 676.4 503.8 677.6 499.0 678.7 497.9 679.9 500.2 681.0 498.1 682.2 505.7 683.4 504.3 684.5 503.3 685.7 497.5 686.9 495.5 688.0 497.2 689.2 499.5 690.4 495.5 691.5 493.4 692.7 500.6 693.8 499.4 695.0 507.3 696.2 502.6 697.3 502.5 698.5 505.5 699.7 499.6 700.8 492.7 702.0 497.7 703.2 499.8 704.3 497.3 705.5 498.9 706.6 502.1 707.8 500.3 709.0 499.8 710.1 499.3 711.3 502.4 712.5 509.2 713.6 500.1 714.8 506.6 716.0 509.3 717.1 504.2 718.3 501.1 719.4 500.0 720.6 495.9 721.8 500.5 722.9 507.7 724.1 501.9 725.3 499.4 726.4 495.7 727.6 492.2 728.8 487.7 729.9 496.9 731.1 505.5 732.2 501.3 733.4 502.1 734.6 499.0 735.7 493.0 736.9 498.9 738.1 499.7 739.2 498.1 740.4 507.0 741.6 507.3 742.7 496.0 743.9 497.4 745.0 493.3 746.2 491.7 747.4 499.5 748.5 496.9 749.7 501.2 750.9 496.8 752.0 498.4 753.2 499.7 754.4 498.5 755.5 507.8 756.7 506.4 757.8 499.8 759.0 502.7 760.2 501.5 761.3 506.3 762.5 501.1 763.7 502.6 764.8 496.0 766.0 499.0 767.2 498.1 768.3 501.0 769.5 501.5 770.6 500.4 771.8 501.5 773.0 502.6 774.1 501.0 775.3 498.2 776.5 500.5 777.6 496.5 778.8 489.0 780.0 494.4 781.1 496.8 782.3 502.2 783.4 499.8 784.6 500.2 785.8 506.2 786.9 500.8 788.1 499.1 789.3 497.1 790.4 492.6 791.6 497.6 792.8 499.3 793.9 499.0 795.1 490.9 796.2 501.4 797.4 497.2 798.6 496.1 799.7 498.6 800.9 502.0 802.1 501.2 803.2 495.3 804.4 491.3 805.6 494.1 806.7 495.2 807.9 494.0 809.0 491.5 810.2 497.9 811.4 492.3 812.5 495.6 813.7 494.0 814.9 494.1 816.0 494.0 817.2 485.9 818.4 492.8 819.5 493.8 820.7 492.8 821.8 485.3 823.0 485.4 824.2 493.5 825.3 494.3 826.5 493.3 827.7 491.1 828.8 494.2 830.0 497.0 831.2 499.0 832.3 497.5 833.5 488.5 834.6 494.6 835.8 500.6 837.0 508.9 838.1 501.8 839.3 499.8 840.5 498.2 841.6 493.4 842.8 504.4 844.0 497.8 845.1 496.2 846.3 494.0 847.4 499.6 848.6 499.6 849.8 486.4 850.9 490.0 852.1 488.9 853.3 495.6 854.4 495.4 855.6 493.1 856.8 497.2 857.9 495.6 859.1 499.5 860.2 496.6 861.4 489.6 862.6 491.7 863.7 496.0 864.9 487.2 866.1 491.0 867.2 499.6 868.4 498.0 869.6 493.5 870.7 493.0 871.9 487.9 873.0 490.0 874.2 487.4 875.4 495.9 876.5 497.1 877.7 494.2 878.9 499.4 880.0 497.1 881.2 497.0 882.4 498.7 883.5 498.8 884.7 499.2 885.8 494.7 887.0 494.3 888.2 492.1 889.3 495.3 890.5 493.7 891.7 491.2 892.8 493.0 894.0 495.7 895.2 496.7 896.3 493.1 897.5 486.0 898.6 493.9 899.8 498.5 901.0 487.5 902.1 492.5 903.3 494.2 904.5 492.6 905.6 488.7 906.8 491.6 908.0 487.2 909.1 486.8 910.3 490.7 911.4 490.1 912.6 493.4 913.8 498.6 914.9 492.9 916.1 501.2 917.3 494.1 918.4 496.4 919.6 494.3 920.8 495.9 921.9 497.0 923.1 495.6 924.2 490.0 925.4 495.3 926.6 489.3 927.7 493.0 928.9 486.8 930.1 487.1 931.2 480.8 932.4 490.2 933.5 492.7 934.7 493.7 935.9 491.6 937.0 493.7 938.2 498.6 939.4 496.0 940.5 495.7 941.7 498.4 942.9 504.1 944.0 495.3 945.2 491.2 946.3 492.3 947.5 491.3 948.7 493.5 949.8 495.6 951.0 494.8 952.2 488.4 953.3 488.3 954.5 490.3 955.7 493.4 956.8 490.3 958.0 489.8 959.1 488.4 960.3 490.2 961.5 490.9 962.6 489.8 963.8 491.8 965.0 490.8 966.1 485.1 967.3 489.1 968.5 489.0 969.6 490.3 970.8 486.3 971.9 486.9 973.1 489.1 974.3 497.4 975.4 495.4 976.6 493.6 977.8 494.0 978.9 488.7 980.1 489.5 981.3 491.0 982.4 493.2 983.6 489.9 984.7 485.4 985.9 482.2 987.1 482.6 988.2 491.7 989.4 494.2 990.6 487.9 991.7 491.5 992.9 484.2 994.1 492.0 995.2 491.5 996.4 489.9 997.5 489.8 998.7 489.1 999.9 495.7 1001.0 490.4 1002.2 490.4 1003.4 494.3 1004.5 493.4 1005.7 493.2 1006.9 493.1 1008.0 489.1 1009.2 490.3 1010.3 504.3 1011.5 503.1 1012.7 498.2 1013.8 495.3 1015.0 496.9 1016.2 501.8 1017.3 498.2 1018.5 486.2 1019.7 486.3 1020.8 492.8 1022.0 495.4 1023.1 499.2 1024.3 494.0 1025.5 493.1 1026.6 499.5 1027.8 493.2 1029.0 493.8 1030.1 493.7 1031.3 488.2 1032.5 489.7 1033.6 487.7 1034.8 497.5 1035.9 496.3 1037.1 497.8 1038.3 496.7 1039.4 493.9 1040.6 491.8 1041.8 493.0 1042.9 493.3 1044.1 497.4 1045.3 491.1 1046.4 497.7 1047.6 498.0 1048.7 498.5 1049.9 500.5 1051.1 502.2 1052.2 505.2 1053.4 501.0 1054.6 501.1 1055.7 500.5 1056.9 490.7 1058.1 493.1 1059.2 490.4 1060.4 496.4 1061.5 492.7 1062.7 496.0 1063.9 498.5 1065.0 499.4 1066.2 501.9 1067.4 500.5 1068.5 500.9 1069.7 493.0 1070.9 501.4 1072.0 501.6 1073.2 492.3 1074.3 498.2 1075.5 500.0 1076.7 496.6 1077.8 502.4 1079.0 507.5 1080.2 502.8 1081.3 501.2 1082.5 503.3 1083.7 507.3 1084.8 508.1 1086.0 501.4 1087.1 501.9 1088.3 498.1 1089.5 505.0 1090.6 496.5 1091.8 499.7 1093.0 502.0 1094.1 500.3 1095.3 501.9 1096.5 502.0 1097.6 503.7 1098.8 502.9 1099.9 504.7 1101.1 502.4 1102.3 501.1 1103.4 492.3 1104.6 498.2 1105.8 498.2 1106.9 495.0 1108.1 501.9 1109.3 501.6 1110.4 495.2 1111.6 499.0 1112.7 497.3 1113.9 498.1 1115.1 505.7 1116.2 498.7 1117.4 497.4 1118.6 499.3 1119.7 496.3 1120.9 494.6 1122.1 504.6 1123.2 496.0 1124.4 502.3 1125.5 505.9 1126.7 497.8 1127.9 493.7 1129.0 496.9 1130.2 498.3 1131.4 501.4 1132.5 506.6 1133.7 497.1 1134.9 493.0 1136.0 505.5 1137.2 493.2 1138.3 505.5 1139.5 504.4 1140.7 503.3 1141.8 498.0 1143.0 495.6 1144.2 498.1 1145.3 497.9 1146.5 499.4 1147.7 496.5 1148.8 499.6 1150.0 504.7 1151.1 502.5 1152.3 506.5 1153.5 503.5 1154.6 498.5 1155.8 501.5 1157.0 497.8 1158.1 491.0 1159.3 488.7 1160.5 486.2 1161.6 491.4 1162.8 496.5 1163.9 495.8 1165.1 499.4 1166.3 498.1 1167.4 498.4 1168.6 501.2 1169.8 502.0 1170.9 504.9 1172.1 505.0 1173.3 505.9 1174.4 496.5 1175.6 494.3 1176.7 501.3 1177.9 499.4 1179.1 495.1 1180.2 500.6 1181.4 500.3 1182.6 499.6 1183.7 502.7 1184.9 503.1 1186.1 499.7 1187.2 501.0 1188.4 498.2 1189.5 505.1 1190.7 504.9 1191.9 500.2 1193.0 495.2 1194.2 497.6 1195.4 497.5 1196.5 500.9 1197.7 496.8 1198.9 500.0 1200.0 500.6 1201.2 505.1 1202.3 501.8 1203.5 499.6 1204.7 495.1 1205.8 493.5 1207.0 497.7 1208.2 500.6 1209.3 491.6 1210.5 494.2 1211.7 493.1 1212.8 486.7 1214.0 494.4 1215.1 494.5 1216.3 494.9 1217.5 497.6 1218.6 495.6 1219.8 493.8 1221.0 504.2 1222.1 506.8 1223.3 498.2 1224.4 490.5 1225.6 492.8 1226.8 484.9 1227.9 490.1 1229.1 491.7 1230.3 492.0 1231.4 494.1 1232.6 492.5 1233.8 492.8 1234.9 492.1 1236.1 493.6 1237.2 490.8 1238.4 497.1 1239.6 497.1 1240.7 498.8 1241.9 499.9 1243.1 495.5 1244.2 491.9 1245.4 497.0 1246.6 495.2 1247.7 491.7 1248.9 488.6 1250.0 498.3 1251.2 489.3 1252.4 487.2 1253.5 489.8 1254.7 492.0 1255.9 487.1 1257.0 486.3 1258.2 490.7 1259.4 486.9 1260.5 482.9 1261.7 488.0 1262.8 493.0 1264.0 494.9 1265.2 494.7 1266.3 496.9 1267.5 509.0 1268.7 499.6 1269.8 492.9 1271.0 492.1 1272.2 496.6 1273.3 491.6 1274.5 491.9 1275.6 492.6 1276.8 493.7 1278.0 493.0 1279.1 492.2 1280.3 488.8 1281.5 490.0 1282.6 493.0 1283.8 492.6 1285.0 495.5 1286.1 488.3 1287.3 499.5 1288.4 493.1 1289.6 490.6 1290.8 487.6 1291.9 488.1 1293.1 500.5 1294.3 500.7 1295.4 510.7 1296.6 500.6 1297.8 492.6 1298.9 490.2 1300.1 492.1 1301.2 489.8 1302.4 488.5 1303.6 491.5 1304.7 492.9 1305.9 500.2 1307.1 494.7 1308.2 484.9 1309.4 489.9 1310.6 494.2 1311.7 496.6 1312.9 502.3 1314.0 494.7 1315.2 491.7 1316.4 484.1 1317.5 490.7 1318.7 493.9 1319.9 486.0 1321.0 491.1 1322.2 497.7 1323.4 500.9 1324.5 492.4 1325.7 495.5 1326.8 498.3 1328.0 503.2 1329.2 495.0 1330.3 490.5 1331.5 491.1 1332.7 491.5 1333.8 483.1 1335.0 487.1 1336.2 495.0 1337.3 496.3 1338.5 491.0 1339.6 493.6 1340.8 491.5 1342.0 492.6 1343.1 491.2 1344.3 488.3 1345.5 485.5 1346.6 488.5 1347.8 487.8 1349.0 488.7 1350.1 488.5 1351.3 488.5 1352.4 481.0 1353.6 483.7 1354.8 490.4 1355.9 488.9 1357.1 489.7 1358.3 481.6 1359.4 485.3 1360.6 478.7 1361.8 482.9 1362.9 481.5 1364.1 485.5 1365.2 487.1 1366.4 485.3 1367.6 491.2 1368.7 491.8 1369.9 493.2 1371.1 498.5 1372.2 489.3 1373.4 487.2 1374.6 487.6 1375.7 490.9 1376.9 489.5 1378.0 489.5 1379.2 485.6 1380.4 484.1 1381.5 487.7 1382.7 491.7 1383.9 486.6 1385.0 489.3 1386.2 485.2 1387.4 477.8 1388.5 485.8 1389.7 490.0 1390.8 479.9 1392.0 483.5 1393.2 486.9 1394.3 485.4 1395.5 487.0 1396.7 489.4 1397.8 490.7 1399.0 490.5 1400.2 492.9 1401.3 492.9 1402.5 484.2 1403.6 486.7 1404.8 485.8 1406.0 490.7 1407.1 483.8 1408.3 479.8 1409.5 472.9 1410.6 482.0 1411.8 487.5 1413.0 486.2 1414.1 491.8 1415.3 491.0 1416.4 487.9 1417.6 490.3 1418.8 490.9 1419.9 487.3 1421.1 491.1 1422.3 491.6 1423.4 493.5 1424.6 488.5 1425.8 486.1 1426.9 489.6 1428.1 492.1 1429.2 485.5 1430.4 485.7 1431.6 485.4 1432.7 496.2 1433.9 490.5 1435.1 484.1 1436.2 490.2 1437.4 486.8 1438.6 479.2 1439.7 481.1 1440.9 484.3 1442.0 480.1 1443.2 482.6 1444.4 480.4 1445.5 481.7 1446.7 481.4 1447.9 485.5 1449.0 489.3 1450.2 489.2 1451.4 486.7 1452.5 482.5 1453.7 493.9 1454.8 487.1 1456.0 480.5 1457.2 487.3 1458.3 487.4 1459.5 487.9 1460.7 485.2 1461.8 490.1 1463.0 489.0 1464.2 480.5 1465.3 491.1 1466.5 488.3 1467.6 488.3 1468.8 485.3 1470.0 487.5 1471.1 490.0 1472.3 489.4 1473.5 483.9 1474.6 482.8 1475.8 486.5 1477.0 486.5 1478.1 489.7 1479.3 486.3 1480.4 483.2 1481.6 485.6 1482.8 492.1 1483.9 486.4 1485.1 480.9 1486.3 480.3 1487.4 482.4 1488.6 487.8 1489.8 482.7 1490.9 480.1 1492.1 479.1 1493.2 482.6 1494.4 488.6 1495.6 481.4 1496.7 476.9 1497.9 483.0 1499.1 482.0 1500.2 481.2 1501.4 479.2 1502.6 480.8 1503.7 484.4 1504.9 479.5 1506.0 479.3 1507.2 475.7 1508.4 477.9 1509.5 474.9 1510.7 481.5 1511.9 486.5 1513.0 474.7 1514.2 478.0 1515.3 484.2 1516.5 476.2 1517.7 480.3 1518.8 472.3 1520.0 471.4 1521.2 478.1 1522.3 481.2 1523.5 481.3 1524.7 478.4 1525.8 479.4 1527.0 478.0 1528.1 489.0 1529.3 484.2 1530.5 481.6 1531.6 482.3 1532.8 482.9 1534.0 481.8 1535.1 482.4 1536.3 487.1 1537.5 481.8 1538.6 489.4 1539.8 485.0 1540.9 484.1 1542.1 483.4 1543.3 476.8 1544.4 483.3 1545.6 484.7 1546.8 479.0 1547.9 476.5 1549.1 477.6 1550.3 485.6 1551.4 477.0 1552.6 485.3 1553.7 486.8 1554.9 489.3 1556.1 482.6 1557.2 488.0 1558.4 487.7 1559.6 494.1 1560.7 489.6 1561.9 488.0 1563.1 489.9 1564.2 489.1 1565.4 490.2 1566.5 498.5 1567.7 490.4 1568.9 492.2 1570.0 489.5 1571.2 489.7 1572.4 487.6 1573.5 489.3 1574.7 489.8 1575.9 476.2 1577.0 481.5 1578.2 487.8 1579.3 485.3 1580.5 489.0 1581.7 484.9 1582.8 484.4 1584.0 488.1 1585.2 484.8 1586.3 486.4 1587.5 490.0 1588.7 487.6 1589.8 488.5 1591.0 484.7 1592.1 486.3 1593.3 495.6 1594.5 486.7 1595.6 484.9 1596.8 477.3 1598.0 475.7 1599.1 486.4 1600.3 496.2 1601.5 505.5 1602.6 503.3 1603.8 490.8 1604.9 516.0 1606.1 514.0 1607.3 488.7 1608.4 491.0 1609.6 491.1 1610.8 498.0 1611.9 493.9 1613.1 486.9 1614.3 485.9 1615.4 483.6 1616.6 489.3 1617.7 491.2 1618.9 489.5 1620.1 486.9 1621.2 488.4 1622.4 485.0 1623.6 488.4 1624.7 490.3 1625.9 483.4 1627.1 483.4 1628.2 482.2 1629.4 481.8 1630.5 486.1 1631.7 482.3 1632.9 485.4 1634.0 485.0 1635.2 480.1 1636.4 485.6 1637.5 482.6 1638.7 481.9 1639.9 482.0 1641.0 481.4 1642.2 481.4 1643.3 483.0 1644.5 479.6 1645.7 477.7 1646.8 481.4 1648.0 479.1 1649.2 478.2 1650.3 475.1 1651.5 477.9 1652.7 477.5 1653.8 477.8 1655.0 480.5 1656.1 471.1 1657.3 473.5 1658.5 467.8 1659.6 471.8 1660.8 473.7 1662.0 474.6 1663.1 471.0 1664.3 475.9 1665.5 477.0 1666.6 476.2 1667.8 470.8 1668.9 470.6 1670.1 465.2 1671.3 454.7 1672.4 462.9 1673.6 470.2 1674.8 465.2 1675.9 466.8 1677.1 468.2 1678.3 466.6 1679.4 467.0 1680.6 464.1 1681.7 456.2 1682.9 456.0 1684.1 463.8 1685.2 464.7 1686.4 464.7 1687.6 470.2 1688.7 459.6 1689.9 457.2 1691.1 464.2 1692.2 466.1 1693.4 468.5 1694.5 464.3 1695.7 458.5 1696.9 457.9 1698.0 457.3 1699.2 455.8 1700.4 454.4 1701.5 456.6 1702.7 454.4 1703.9 445.6 1705.0 454.5 1706.2 449.9 1707.3 450.8 1708.5 454.7 1709.7 447.7 1710.8 443.8 1712.0 445.0 1713.2 443.7 1714.3 441.1 1715.5 437.3 1716.7 436.6 1717.8 440.7 1719.0 444.4 1720.1 442.1 1721.3 440.4 1722.5 444.4 1723.6 447.6 1724.8 444.3 1726.0 445.1 1727.1 443.3 1728.3 438.8 1729.5 444.3 1730.6 441.3 1731.8 439.3 1732.9 438.6 1734.1 438.0 1735.3 436.9 1736.4 437.3 1737.6 439.3 1738.8 436.3 1739.9 437.4 1741.1 429.2 1742.3 436.0 1743.4 440.8 1744.6 440.9 1745.7 437.4 1746.9 441.7 1748.1 444.6 1749.2 448.4 1750.4 443.9 1751.6 445.6 1752.7 448.6 1753.9 450.6 1755.1 452.8 1756.2 451.4 1757.4 452.6 1758.5 449.1 1759.7 449.7 1760.9 451.8 1762.0 449.2 1763.2 448.6 1764.4 447.3 1765.5 443.5 1766.7 446.5 1767.9 441.2 1769.0 444.7 1770.2 451.2 1771.3 454.6 1772.5 462.0 1773.7 459.5 1774.8 459.0 1776.0 459.6 1777.2 461.9 1778.3 464.9 1779.5 471.6 1780.7 468.1 1781.8 468.6 1783.0 468.5 1784.1 465.7 1785.3 469.0 1786.5 462.5 1787.6 473.3 1788.8 477.4 1790.0 481.5 1791.1 474.6 1792.3 473.1 1793.5 470.0 1794.6 472.0 1795.8 473.4 1796.9 479.6 1798.1 475.5 1799.3 474.9 1800.4 474.8 1801.6 474.4 1802.8 476.3 1803.9 475.7 1805.1 476.7 1806.2 478.6 1807.4 478.7 1808.6 477.1 1809.7 484.0 1810.9 479.2 1812.1 483.0 1813.2 489.3 1814.4 493.2 1815.6 485.9 1816.7 487.0 1817.9 488.4 1819.0 486.7 1820.2 489.0 1821.4 491.0 1822.5 489.9 1823.7 495.6 1824.9 501.3 1826.0 489.0 1827.2 503.1 1828.4 498.2 1829.5 500.2 1830.7 498.9 1831.8 498.3 1833.0 494.3 1834.2 496.3 1835.3 487.4 1836.5 486.0 1837.7 494.3 1838.8 497.7 1840.0 501.7 1841.2 502.4 1842.3 493.6 1843.5 492.0 1844.6 489.5 1845.8 488.7 1847.0 490.7 1848.1 491.3 1849.3 494.5 1850.5 486.7 1851.6 484.8 1852.8 488.5 1854.0 477.0 1855.1 480.1 1856.3 478.3 1857.4 479.2 1858.6 475.0 1859.8 471.8 1860.9 479.5 1862.1 479.3 1863.3 475.1 1864.4 465.1 1865.6 463.7 1866.8 461.4 1867.9 458.1 1869.1 454.9 1870.2 453.5 1871.4 453.5 1872.6 442.1 1873.7 434.7 1874.9 425.7 1876.1 418.6 1877.2 419.9 1878.4 407.8 1879.6 407.5 1880.7 396.3 1881.9 385.1 1883.0 375.2 1884.2 365.7 1885.4 350.5 1886.5 337.1 1887.7 325.6 1888.9 314.4 1890.0 310.7 1891.2 299.9 1892.4 296.6 1893.5 288.8 1894.7 283.2 1895.8 276.5 1897.0 274.3 1898.2 276.7 1899.3 282.3 1900.5 273.6 1901.7 272.0 1902.8 277.0 1904.0 280.8 1905.2 288.5 1906.3 294.3 1907.5 306.9 1908.6 313.3 1909.8 320.4 1911.0 328.9 1912.1 332.7 1913.3 344.6 1914.5 345.4 1915.6 351.8 1916.8 358.7 1918.0 362.1 1919.1 369.7 1920.3 367.4 1921.4 378.1 1922.6 383.3 1923.8 384.0 1924.9 393.8 1926.1 405.6 1927.3 403.6 1928.4 404.4 1929.6 409.7 1930.8 414.9 1931.9 418.1 1933.1 421.4 1934.2 425.0 1935.4 426.0 1936.6 431.3 1937.7 433.3 1938.9 435.8 1940.1 440.6 1941.2 450.9 1942.4 448.3 1943.6 449.4 1944.7 458.7 1945.9 454.8 1947.0 455.7 1948.2 458.3 1949.4 458.5 1950.5 455.3 1951.7 462.6 1952.9 464.9 1954.0 473.6 1955.2 471.7 1956.4 467.6 1957.5 469.0 1958.7 467.6 1959.8 476.9 1961.0 478.1 1962.2 475.9 1963.3 474.7 1964.5 476.5 1965.7 479.0 1966.8 475.8 1968.0 473.6 1969.2 481.2 1970.3 491.6 1971.5 483.7 1972.6 488.7 1973.8 494.4 1975.0 493.9 1976.1 490.8 1977.3 489.4 1978.5 491.1 1979.6 492.4 1980.8 488.2 1982.0 488.7 1983.1 487.8 1984.3 481.3 1985.4 492.4 1986.6 494.2 1987.8 494.9 1988.9 489.8 1990.1 491.2 1991.3 494.1 1992.4 493.8 1993.6 492.2 1994.8 488.6 1995.9 494.3 1997.1 496.6 1998.2 501.5 1999.4 506.2 2000.6 498.5 2001.7 499.8 2002.9 512.6 2004.1 499.7 2005.2 503.9 2006.4 508.1 2007.6 506.5 2008.7 505.2 2009.9 509.5 2011.0 499.6 2012.2 502.1 2013.4 504.5 2014.5 504.2 2015.7 496.2 2016.9 499.3 2018.0 497.7" stroke="#38AD6A"/>
<path d="M193.5 292.2 194.7 290.7 195.8 290.5 197.0 291.7 198.2 299.6 199.3 294.3 200.5 294.0 201.6 292.6 202.8 294.1 204.0 289.4 205.1 287.5 206.3 294.0 207.5 285.9 208.6 298.9 209.8 295.4 211.0 292.9 212.1 285.0 213.3 287.8 214.4 292.3 215.6 289.1 216.8 288.6 217.9 284.2 219.1 284.6 220.3 287.0 221.4 288.5 222.6 286.3 223.8 282.6 224.9 287.7 226.1 282.0 227.2 283.4 228.4 283.6 229.6 281.7 230.7 282.3 231.9 285.8 233.1 282.5 234.2 283.6 235.4 289.7 236.6 283.1 237.7 287.0 238.9 283.2 240.0 282.7 241.2 286.0 242.4 278.7 243.5 281.6 244.7 276.2 245.9 280.9 247.0 275.4 248.2 277.6 249.4 277.4 250.5 268.9 251.7 267.9 252.8 279.7 254.0 282.5 255.2 286.3 256.3 277.0 257.5 277.5 258.7 281.3 259.8 275.1 261.0 276.8 262.2 278.0 263.3 277.6 264.5 278.0 265.6 280.3 266.8 277.6 268.0 276.8 269.1 275.7 270.3 273.0 271.5 275.4 272.6 283.0 273.8 280.2 275.0 277.0 276.1 275.0 277.3 276.9 278.4 273.9 279.6 274.2 280.8 277.5 281.9 271.0 283.1 269.9 284.3 268.4 285.4 270.7 286.6 271.6 287.8 275.5 288.9 269.7 290.1 261.4 291.2 266.7 292.4 268.0 293.6 268.1 294.7 264.3 295.9 263.2 297.1 262.6 298.2 260.2 299.4 268.4 300.6 269.5 301.7 261.1 302.9 266.1 304.0 258.3 305.2 255.6 306.4 261.0 307.5 261.9 308.7 258.1 309.9 264.6 311.0 258.8 312.2 256.2 313.4 256.8 314.5 255.1 315.7 259.8 316.8 257.2 318.0 258.8 319.2 256.8 320.3 253.4 321.5 257.2 322.7 262.3 323.8 254.7 325.0 260.8 326.2 252.2 327.3 257.2 328.5 260.1 329.6 264.2 330.8 255.2 332.0 256.5 333.1 254.0 334.3 251.1 335.5 249.0 336.6 252.5 337.8 251.7 339.0 248.7 340.1 246.3 341.3 237.1 342.4 239.3 343.6 240.5 344.8 235.6 345.9 239.7 347.1 243.7 348.3 237.5 349.4 237.6 350.6 234.3 351.7 237.9 352.9 239.4 354.1 237.4 355.2 234.1 356.4 232.7 357.6 230.2 358.7 237.3 359.9 238.9 361.1 235.4 362.2 235.7 363.4 232.2 364.5 234.5 365.7 231.4 366.9 232.5 368.0 224.1 369.2 229.3 370.4 227.8 371.5 223.2 372.7 227.3 373.9 232.5 375.0 226.4 376.2 223.1 377.3 226.5 378.5 226.7 379.7 223.5 380.8 227.1 382.0 223.1 383.2 221.0 384.3 223.2 385.5 221.0 386.7 217.9 387.8 214.9 389.0 215.7 390.1 216.2 391.3 218.9 392.5 218.6 393.6 208.4 394.8 212.2 396.0 216.3 397.1 210.8 398.3 210.6 399.5 206.5 400.6 208.8 401.8 201.4 402.9 198.7 404.1 195.2 405.3 191.1 406.4 192.2 407.6 191.4 408.8 184.5 409.9 184.1 411.1 185.6 412.3 185.6 413.4 187.4 414.6 184.2 415.7 188.0 416.9 187.9 418.1 184.8 419.2 187.8 420.4 187.4 421.6 184.0 422.7 188.0 423.9 191.3 425.1 195.1 426.2 198.2 427.4 195.0 428.5 193.4 429.7 192.5 430.9 197.8 432.0 199.8 433.2 204.1 434.4 202.5 435.5 206.5 436.7 204.8 437.9 209.7 439.0 213.6 440.2 218.1 441.3 217.8 442.5 222.5 443.7 232.2 444.8 233.1 446.0 229.8 447.2 229.9 448.3 235.0 449.5 238.9 450.7 239.5 451.8 241.7 453.0 239.4 454.1 240.5 455.3 239.8 456.5 238.8 457.6 244.8 458.8 248.4 460.0 247.9 461.1 254.4 462.3 249.7 463.5 250.7 464.6 255.3 465.8 254.8 466.9 254.8 468.1 253.5 469.3 252.0 470.4 254.0 471.6 255.2 472.8 258.0 473.9 258.4 475.1 260.0 476.3 259.3 477.4 262.8 478.6 267.5 479.7 265.0 480.9 262.5 482.1 261.0 483.2 265.0 484.4 265.7 485.6 260.5 486.7 267.5 487.9 269.8 489.1 263.9 490.2 263.9 491.4 268.3 492.5 267.3 493.7 264.1 494.9 270.2 496.0 273.9 497.2 273.5 498.4 267.5 499.5 268.4 500.7 275.9 501.9 279.1 503.0 283.5 504.2 281.6 505.3 282.1 506.5 284.5 507.7 281.1 508.8 278.9 510.0 278.3 511.2 281.6 512.3 285.8 513.5 282.7 514.7 277.6 515.8 287.0 517.0 286.0 518.1 279.1 519.3 285.1 520.5 281.1 521.6 277.9 522.8 282.7 524.0 284.7 525.1 286.0 526.3 292.9 527.5 289.8 528.6 280.7 529.8 287.3 530.9 290.4 532.1 282.4 533.3 285.9 534.4 286.1 535.6 285.1 536.8 285.4 537.9 285.6 539.1 289.9 540.3 287.2 541.4 285.3 542.6 282.3 543.7 283.5 544.9 287.5 546.1 287.5 547.2 288.6 548.4 288.1 549.6 289.6 550.7 287.9 551.9 280.1 553.1 281.7 554.2 287.2 555.4 289.6 556.5 288.3 557.7 282.0 558.9 285.3 560.0 282.6 561.2 284.3 562.4 288.4 563.5 286.8 564.7 288.3 565.9 286.9 567.0 289.7 568.2 285.2 569.3 287.0 570.5 292.4 571.7 289.2 572.8 282.0 574.0 284.6 575.2 286.3 576.3 287.3 577.5 285.3 578.7 288.3 579.8 287.2 581.0 283.2 582.1 280.6 583.3 279.2 584.5 278.2 585.6 279.1 586.8 279.0 588.0 281.1 589.1 276.9 590.3 275.7 591.5 274.0 592.6 281.7 593.8 274.3 594.9 270.3 596.1 271.6 597.3 274.0 598.4 272.5 599.6 280.7 600.8 275.5 601.9 277.2 603.1 277.2 604.3 278.7 605.4 278.5 606.6 282.0 607.7 282.9 608.9 283.1 610.1 282.0 611.2 283.6 612.4 283.9 613.6 280.0 614.7 277.8 615.9 287.9 617.1 284.5 618.2 281.6 619.4 289.5 620.5 290.1 621.7 287.4 622.9 283.5 624.0 289.4 625.2 286.2 626.4 281.5 627.5 282.4 628.7 282.8 629.9 289.2 631.0 290.8 632.2 291.8 633.3 284.6 634.5 282.9 635.7 286.5 636.8 286.5 638.0 279.8 639.2 281.4 640.3 279.8 641.5 279.5 642.6 283.3 643.8 279.8 645.0 281.7 646.1 284.2 647.3 282.4 648.5 285.7 649.6 289.5 650.8 283.9 652.0 273.8 653.1 279.0 654.3 285.5 655.4 287.8 656.6 290.9 657.8 292.0 658.9 294.5 660.1 291.2 661.3 287.1 662.4 286.4 663.6 282.0 664.8 290.9 665.9 286.6 667.1 281.0 668.2 289.9 669.4 290.2 670.6 295.2 671.7 285.0 672.9 286.7 674.1 284.5 675.2 291.4 676.4 284.2 677.6 286.7 678.7 286.4 679.9 285.6 681.0 285.0 682.2 285.4 683.4 288.3 684.5 287.4 685.7 286.5 686.9 289.0 688.0 288.8 689.2 287.6 690.4 288.4 691.5 284.7 692.7 286.5 693.8 288.9 695.0 289.0 696.2 289.0 697.3 291.3 698.5 280.7 699.7 287.5 700.8 287.7 702.0 286.7 703.2 283.1 704.3 280.3 705.5 287.9 706.6 286.8 707.8 286.9 709.0 277.2 710.1 281.9 711.3 285.3 712.5 288.2 713.6 285.4 714.8 290.8 716.0 291.8 717.1 288.1 718.3 285.4 719.4 286.9 720.6 293.5 721.8 288.1 722.9 287.5 724.1 286.9 725.3 284.9 726.4 294.0 727.6 288.1 728.8 287.8 729.9 288.7 731.1 286.1 732.2 284.9 733.4 290.5 734.6 284.1 735.7 285.3 736.9 287.5 738.1 286.3 739.2 286.7 740.4 284.9 741.6 289.4 742.7 289.7 743.9 286.6 745.0 290.6 746.2 289.7 747.4 286.7 748.5 283.1 749.7 279.4 750.9 290.5 752.0 291.4 753.2 287.2 754.4 286.2 755.5 287.0 756.7 284.8 757.8 283.8 759.0 283.8 760.2 284.0 761.3 284.3 762.5 277.5 763.7 282.6 764.8 286.1 766.0 289.1 767.2 285.6 768.3 284.2 769.5 290.3 770.6 288.2 771.8 284.7 773.0 293.0 774.1 287.9 775.3 285.2 776.5 287.4 777.6 287.0 778.8 292.0 780.0 287.9 781.1 281.6 782.3 286.2 783.4 287.2 784.6 289.7 785.8 292.2 786.9 288.3 788.1 287.3 789.3 286.8 790.4 284.8 791.6 288.8 792.8 288.0 793.9 287.9 795.1 290.1 796.2 288.5 797.4 290.2 798.6 291.6 799.7 295.4 800.9 295.2 802.1 298.6 803.2 286.9 804.4 281.9 805.6 283.6 806.7 287.2 807.9 284.2 809.0 283.3 810.2 283.2 811.4 283.3 812.5 284.8 813.7 284.4 814.9 283.0 816.0 287.4 817.2 284.5 818.4 287.4 819.5 286.7 820.7 279.7 821.8 288.3 823.0 297.9 824.2 293.1 825.3 288.8 826.5 282.8 827.7 286.2 828.8 283.9 830.0 282.4 831.2 282.6 832.3 289.0 833.5 293.0 834.6 286.9 835.8 290.1 837.0 281.8 838.1 280.4 839.3 292.3 840.5 292.1 841.6 285.5 842.8 284.0 844.0 289.4 845.1 286.3 846.3 284.5 847.4 286.0 848.6 286.4 849.8 282.0 850.9 286.4 852.1 287.0 853.3 282.5 854.4 283.4 855.6 280.2 856.8 283.9 857.9 283.7 859.1 295.1 860.2 292.6 861.4 284.5 862.6 290.0 863.7 284.8 864.9 279.0 866.1 285.1 867.2 285.2 868.4 285.4 869.6 285.5 870.7 288.3 871.9 286.3 873.0 289.2 874.2 287.8 875.4 287.5 876.5 287.5 877.7 283.7 878.9 289.6 880.0 284.9 881.2 276.7 882.4 281.6 883.5 288.0 884.7 284.1 885.8 275.6 887.0 279.6 888.2 292.8 889.3 291.4 890.5 287.4 891.7 284.1 892.8 277.4 894.0 284.0 895.2 285.2 896.3 279.6 897.5 285.3 898.6 288.0 899.8 286.7 901.0 283.6 902.1 284.6 903.3 280.5 904.5 278.6 905.6 279.5 906.8 278.9 908.0 283.6 909.1 283.0 910.3 289.5 911.4 287.9 912.6 290.9 913.8 285.2 914.9 288.3 916.1 292.7 917.3 294.5 918.4 287.8 919.6 285.6 920.8 283.0 921.9 287.9 923.1 286.7 924.2 278.0 925.4 281.7 926.6 279.8 927.7 293.9 928.9 291.1 930.1 288.6 931.2 287.7 932.4 288.9 933.5 289.9 934.7 285.3 935.9 282.5 937.0 283.5 938.2 281.4 939.4 284.5 940.5 286.8 941.7 285.1 942.9 285.4 944.0 284.6 945.2 292.8 946.3 283.5 947.5 284.7 948.7 283.7 949.8 289.6 951.0 283.7 952.2 286.0 953.3 285.6 954.5 279.4 955.7 277.6 956.8 283.0 958.0 289.0 959.1 282.6 960.3 285.2 961.5 279.9 962.6 288.3 963.8 282.8 965.0 289.8 966.1 289.7 967.3 292.4 968.5 287.5 969.6 283.4 970.8 286.9 971.9 279.9 973.1 278.3 974.3 276.2 975.4 282.0 976.6 281.8 977.8 285.3 978.9 283.9 980.1 285.5 981.3 291.6 982.4 292.4 983.6 303.8 984.7 293.0 985.9 290.0 987.1 296.9 988.2 290.5 989.4 284.1 990.6 283.3 991.7 283.0 992.9 283.4 994.1 288.1 995.2 287.0 996.4 278.2 997.5 281.9 998.7 281.2 999.9 286.3 1001.0 285.2 1002.2 285.3 1003.4 288.0 1004.5 288.5 1005.7 278.7 1006.9 279.8 1008.0 276.5 1009.2 287.8 1010.3 284.4 1011.5 283.1 1012.7 282.6 1013.8 281.2 1015.0 281.7 1016.2 284.1 1017.3 285.8 1018.5 277.0 1019.7 276.9 1020.8 283.0 1022.0 284.0 1023.1 286.3 1024.3 285.5 1025.5 284.2 1026.6 282.5 1027.8 280.2 1029.0 284.0 1030.1 290.0 1031.3 289.2 1032.5 277.0 1033.6 282.7 1034.8 287.3 1035.9 287.8 1037.1 286.9 1038.3 286.7 1039.4 285.5 1040.6 285.4 1041.8 290.3 1042.9 287.2 1044.1 286.8 1045.3 285.6 1046.4 287.6 1047.6 284.9 1048.7 285.4 1049.9 284.7 1051.1 284.2 1052.2 282.7 1053.4 283.2 1054.6 284.8 1055.7 284.8 1056.9 282.7 1058.1 285.5 1059.2 288.2 1060.4 285.1 1061.5 284.5 1062.7 286.1 1063.9 284.0 1065.0 281.2 1066.2 279.4 1067.4 281.5 1068.5 283.1 1069.7 282.3 1070.9 281.9 1072.0 289.3 1073.2 287.7 1074.3 281.0 1075.5 284.0 1076.7 291.6 1077.8 288.4 1079.0 282.2 1080.2 280.9 1081.3 280.6 1082.5 273.6 1083.7 278.8 1084.8 284.3 1086.0 277.8 1087.1 284.1 1088.3 275.6 1089.5 280.0 1090.6 284.3 1091.8 279.7 1093.0 285.2 1094.1 281.3 1095.3 279.2 1096.5 282.8 1097.6 282.6 1098.8 283.6 1099.9 280.4 1101.1 287.4 1102.3 293.8 1103.4 288.1 1104.6 285.9 1105.8 285.1 1106.9 284.5 1108.1 289.3 1109.3 287.6 1110.4 287.7 1111.6 286.1 1112.7 285.8 1113.9 284.3 1115.1 284.2 1116.2 284.3 1117.4 282.5 1118.6 281.9 1119.7 279.1 1120.9 284.8 1122.1 280.9 1123.2 283.6 1124.4 283.0 1125.5 280.4 1126.7 284.2 1127.9 285.7 1129.0 286.6 1130.2 282.0 1131.4 285.6 1132.5 292.1 1133.7 286.6 1134.9 285.4 1136.0 285.0 1137.2 282.0 1138.3 289.9 1139.5 283.4 1140.7 285.1 1141.8 282.0 1143.0 283.4 1144.2 279.0 1145.3 280.2 1146.5 283.7 1147.7 279.9 1148.8 283.0 1150.0 283.9 1151.1 284.9 1152.3 286.0 1153.5 285.1 1154.6 284.0 1155.8 282.9 1157.0 284.4 1158.1 281.8 1159.3 282.4 1160.5 282.8 1161.6 282.6 1162.8 282.4 1163.9 286.2 1165.1 291.4 1166.3 286.1 1167.4 288.4 1168.6 284.4 1169.8 283.7 1170.9 282.7 1172.1 280.1 1173.3 284.4 1174.4 281.6 1175.6 281.1 1176.7 275.1 1177.9 280.7 1179.1 281.6 1180.2 279.8 1181.4 278.9 1182.6 281.5 1183.7 281.8 1184.9 281.8 1186.1 280.9 1187.2 280.7 1188.4 282.4 1189.5 281.5 1190.7 281.1 1191.9 284.0 1193.0 282.5 1194.2 279.7 1195.4 287.0 1196.5 283.0 1197.7 282.8 1198.9 284.1 1200.0 286.2 1201.2 285.6 1202.3 282.4 1203.5 288.1 1204.7 291.9 1205.8 290.2 1207.0 292.1 1208.2 290.9 1209.3 284.4 1210.5 282.4 1211.7 284.6 1212.8 286.3 1214.0 281.9 1215.1 279.3 1216.3 279.9 1217.5 280.6 1218.6 280.6 1219.8 280.9 1221.0 279.8 1222.1 277.7 1223.3 269.8 1224.4 277.3 1225.6 279.2 1226.8 277.6 1227.9 271.6 1229.1 278.5 1230.3 281.9 1231.4 285.6 1232.6 280.4 1233.8 281.7 1234.9 282.3 1236.1 282.3 1237.2 282.6 1238.4 283.2 1239.6 276.2 1240.7 285.6 1241.9 292.0 1243.1 291.7 1244.2 291.8 1245.4 288.9 1246.6 289.6 1247.7 294.5 1248.9 294.3 1250.0 286.5 1251.2 280.6 1252.4 287.5 1253.5 284.1 1254.7 276.9 1255.9 280.2 1257.0 283.7 1258.2 285.7 1259.4 290.2 1260.5 287.1 1261.7 286.7 1262.8 278.4 1264.0 282.6 1265.2 286.0 1266.3 286.1 1267.5 282.5 1268.7 285.0 1269.8 283.7 1271.0 283.6 1272.2 289.2 1273.3 287.5 1274.5 290.5 1275.6 282.1 1276.8 291.2 1278.0 289.5 1279.1 286.3 1280.3 285.5 1281.5 283.7 1282.6 285.0 1283.8 286.6 1285.0 284.4 1286.1 280.1 1287.3 280.1 1288.4 284.7 1289.6 292.2 1290.8 285.2 1291.9 284.0 1293.1 284.2 1294.3 287.0 1295.4 283.7 1296.6 283.9 1297.8 282.7 1298.9 281.0 1300.1 281.4 1301.2 281.2 1302.4 286.1 1303.6 291.5 1304.7 286.6 1305.9 284.7 1307.1 285.6 1308.2 286.3 1309.4 289.2 1310.6 283.6 1311.7 281.4 1312.9 285.9 1314.0 281.7 1315.2 287.7 1316.4 292.5 1317.5 286.2 1318.7 289.1 1319.9 288.8 1321.0 287.5 1322.2 286.1 1323.4 287.0 1324.5 286.3 1325.7 282.5 1326.8 285.5 1328.0 281.8 1329.2 292.1 1330.3 290.7 1331.5 290.8 1332.7 290.0 1333.8 284.4 1335.0 278.7 1336.2 288.7 1337.3 282.8 1338.5 286.0 1339.6 283.6 1340.8 286.7 1342.0 281.3 1343.1 288.4 1344.3 281.1 1345.5 284.6 1346.6 287.0 1347.8 281.9 1349.0 283.5 1350.1 283.8 1351.3 289.6 1352.4 286.4 1353.6 289.9 1354.8 293.1 1355.9 286.5 1357.1 287.3 1358.3 285.3 1359.4 285.6 1360.6 292.6 1361.8 285.4 1362.9 284.6 1364.1 287.5 1365.2 291.5 1366.4 287.4 1367.6 284.2 1368.7 288.4 1369.9 287.2 1371.1 285.8 1372.2 287.7 1373.4 287.7 1374.6 290.3 1375.7 282.8 1376.9 283.8 1378.0 287.6 1379.2 282.8 1380.4 275.6 1381.5 279.8 1382.7 279.4 1383.9 282.5 1385.0 281.7 1386.2 273.5 1387.4 278.0 1388.5 280.2 1389.7 279.0 1390.8 277.4 1392.0 286.1 1393.2 276.2 1394.3 280.9 1395.5 283.8 1396.7 289.7 1397.8 286.8 1399.0 284.9 1400.2 283.4 1401.3 290.6 1402.5 281.9 1403.6 284.2 1404.8 287.7 1406.0 289.1 1407.1 290.1 1408.3 282.7 1409.5 284.1 1410.6 283.9 1411.8 282.6 1413.0 282.5 1414.1 285.0 1415.3 287.2 1416.4 283.3 1417.6 283.9 1418.8 284.2 1419.9 276.1 1421.1 281.0 1422.3 282.9 1423.4 283.7 1424.6 280.0 1425.8 280.9 1426.9 279.5 1428.1 277.0 1429.2 282.2 1430.4 285.1 1431.6 280.4 1432.7 281.8 1433.9 282.2 1435.1 275.1 1436.2 279.9 1437.4 279.0 1438.6 279.7 1439.7 282.1 1440.9 279.5 1442.0 283.5 1443.2 278.8 1444.4 264.7 1445.5 274.2 1446.7 286.5 1447.9 279.8 1449.0 284.4 1450.2 281.1 1451.4 279.3 1452.5 278.5 1453.7 279.6 1454.8 279.4 1456.0 277.5 1457.2 282.1 1458.3 285.0 1459.5 274.9 1460.7 287.6 1461.8 288.1 1463.0 279.1 1464.2 276.4 1465.3 274.1 1466.5 275.1 1467.6 283.2 1468.8 273.8 1470.0 277.2 1471.1 277.0 1472.3 276.4 1473.5 277.2 1474.6 282.2 1475.8 276.9 1477.0 276.0 1478.1 276.3 1479.3 276.6 1480.4 276.1 1481.6 278.4 1482.8 282.6 1483.9 278.8 1485.1 280.2 1486.3 274.4 1487.4 276.4 1488.6 277.1 1489.8 279.4 1490.9 276.4 1492.1 276.5 1493.2 277.6 1494.4 276.6 1495.6 278.8 1496.7 279.9 1497.9 277.8 1499.1 277.4 1500.2 281.2 1501.4 282.6 1502.6 280.2 1503.7 279.9 1504.9 275.4 1506.0 279.7 1507.2 278.9 1508.4 271.9 1509.5 277.9 1510.7 283.0 1511.9 278.1 1513.0 276.9 1514.2 278.4 1515.3 275.0 1516.5 277.0 1517.7 278.4 1518.8 274.9 1520.0 276.0 1521.2 272.1 1522.3 276.2 1523.5 281.1 1524.7 278.3 1525.8 280.2 1527.0 278.1 1528.1 276.5 1529.3 277.9 1530.5 279.0 1531.6 277.1 1532.8 278.0 1534.0 281.1 1535.1 276.3 1536.3 278.5 1537.5 279.7 1538.6 281.9 1539.8 278.6 1540.9 280.9 1542.1 280.2 1543.3 278.3 1544.4 276.6 1545.6 277.8 1546.8 279.4 1547.9 279.6 1549.1 281.9 1550.3 281.5 1551.4 280.9 1552.6 284.0 1553.7 279.8 1554.9 280.0 1556.1 278.6 1557.2 283.9 1558.4 278.7 1559.6 270.5 1560.7 281.0 1561.9 279.1 1563.1 276.6 1564.2 274.8 1565.4 275.8 1566.5 277.1 1567.7 277.8 1568.9 276.1 1570.0 274.4 1571.2 275.8 1572.4 274.4 1573.5 273.9 1574.7 271.5 1575.9 272.1 1577.0 270.7 1578.2 272.8 1579.3 272.0 1580.5 273.9 1581.7 275.0 1582.8 279.8 1584.0 274.7 1585.2 270.7 1586.3 274.8 1587.5 276.4 1588.7 276.5 1589.8 278.4 1591.0 277.4 1592.1 274.7 1593.3 273.1 1594.5 267.5 1595.6 274.1 1596.8 268.4 1598.0 272.1 1599.1 272.2 1600.3 273.9 1601.5 272.1 1602.6 273.0 1603.8 281.3 1604.9 277.1 1606.1 276.4 1607.3 280.8 1608.4 277.4 1609.6 285.1 1610.8 280.6 1611.9 284.0 1613.1 282.6 1614.3 286.2 1615.4 279.5 1616.6 278.5 1617.7 285.2 1618.9 281.8 1620.1 277.7 1621.2 283.5 1622.4 285.7 1623.6 284.2 1624.7 276.0 1625.9 285.5 1627.1 283.5 1628.2 283.1 1629.4 281.3 1630.5 281.0 1631.7 277.7 1632.9 280.9 1634.0 279.4 1635.2 283.0 1636.4 271.8 1637.5 275.7 1638.7 273.3 1639.9 273.4 1641.0 269.2 1642.2 273.2 1643.3 268.7 1644.5 268.3 1645.7 267.6 1646.8 267.9 1648.0 269.2 1649.2 260.6 1650.3 265.9 1651.5 265.5 1652.7 262.6 1653.8 262.5 1655.0 260.4 1656.1 267.1 1657.3 265.7 1658.5 265.1 1659.6 260.6 1660.8 258.3 1662.0 257.9 1663.1 258.2 1664.3 256.9 1665.5 260.4 1666.6 260.8 1667.8 248.7 1668.9 255.2 1670.1 253.6 1671.3 249.4 1672.4 250.3 1673.6 254.7 1674.8 253.2 1675.9 251.8 1677.1 257.6 1678.3 253.6 1679.4 254.8 1680.6 251.2 1681.7 251.2 1682.9 249.0 1684.1 250.9 1685.2 252.0 1686.4 248.8 1687.6 249.0 1688.7 249.7 1689.9 251.2 1691.1 244.3 1692.2 245.4 1693.4 245.2 1694.5 245.8 1695.7 234.8 1696.9 238.8 1698.0 242.3 1699.2 243.0 1700.4 241.1 1701.5 239.6 1702.7 238.6 1703.9 231.0 1705.0 234.2 1706.2 237.9 1707.3 233.7 1708.5 233.6 1709.7 233.0 1710.8 232.0 1712.0 228.3 1713.2 234.5 1714.3 227.5 1715.5 224.0 1716.7 228.8 1717.8 224.0 1719.0 225.8 1720.1 225.5 1721.3 228.2 1722.5 227.0 1723.6 227.2 1724.8 227.9 1726.0 229.4 1727.1 224.1 1728.3 223.0 1729.5 224.6 1730.6 222.7 1731.8 224.6 1732.9 229.0 1734.1 224.1 1735.3 219.3 1736.4 216.1 1737.6 208.1 1738.8 213.7 1739.9 206.2 1741.1 206.6 1742.3 207.9 1743.4 212.3 1744.6 209.2 1745.7 210.1 1746.9 209.9 1748.1 224.7 1749.2 222.6 1750.4 224.5 1751.6 224.3 1752.7 222.7 1753.9 225.5 1755.1 227.0 1756.2 225.4 1757.4 228.2 1758.5 229.0 1759.7 225.7 1760.9 223.9 1762.0 220.2 1763.2 219.9 1764.4 220.2 1765.5 217.0 1766.7 220.3 1767.9 219.9 1769.0 217.6 1770.2 220.6 1771.3 219.7 1772.5 218.6 1773.7 216.2 1774.8 217.5 1776.0 224.2 1777.2 229.2 1778.3 236.2 1779.5 229.5 1780.7 221.6 1781.8 233.0 1783.0 237.6 1784.1 237.2 1785.3 231.0 1786.5 226.5 1787.6 226.8 1788.8 234.0 1790.0 229.4 1791.1 223.0 1792.3 225.4 1793.5 227.9 1794.6 230.3 1795.8 231.7 1796.9 233.8 1798.1 232.6 1799.3 235.4 1800.4 238.8 1801.6 241.6 1802.8 245.9 1803.9 243.0 1805.1 249.4 1806.2 247.0 1807.4 247.0 1808.6 247.9 1809.7 251.3 1810.9 252.0 1812.1 248.8 1813.2 250.8 1814.4 253.2 1815.6 253.0 1816.7 245.9 1817.9 245.5 1819.0 245.4 1820.2 246.9 1821.4 246.9 1822.5 253.7 1823.7 256.0 1824.9 247.7 1826.0 241.4 1827.2 246.4 1828.4 248.9 1829.5 246.3 1830.7 250.4 1831.8 255.8 1833.0 253.7 1834.2 255.1 1835.3 258.3 1836.5 250.4 1837.7 250.9 1838.8 249.9 1840.0 248.9 1841.2 250.1 1842.3 244.5 1843.5 245.1 1844.6 244.5 1845.8 240.9 1847.0 243.3 1848.1 240.7 1849.3 242.2 1850.5 235.9 1851.6 239.6 1852.8 240.7 1854.0 239.9 1855.1 233.0 1856.3 233.2 1857.4 229.8 1858.6 228.4 1859.8 235.2 1860.9 227.4 1862.1 226.1 1863.3 221.8 1864.4 220.7 1865.6 219.6 1866.8 214.2 1867.9 216.8 1869.1 215.6 1870.2 213.4 1871.4 207.3 1872.6 209.2 1873.7 203.2 1874.9 198.1 1876.1 195.8 1877.2 192.8 1878.4 179.9 1879.6 182.8 1880.7 179.4 1881.9 172.7 1883.0 171.0 1884.2 164.4 1885.4 156.3 1886.5 143.5 1887.7 141.8 1888.9 131.6 1890.0 122.0 1891.2 115.1 1892.4 104.7 1893.5 100.1 1894.7 94.5 1895.8 91.0 1897.0 94.4 1898.2 97.6 1899.3 95.5 1900.5 94.6 1901.7 99.5 1902.8 106.0 1904.0 109.1 1905.2 113.1 1906.3 122.0 1907.5 130.6 1908.6 136.5 1909.8 146.7 1911.0 149.0 1912.1 148.9 1913.3 158.0 1914.5 166.5 1915.6 161.8 1916.8 170.2 1918.0 169.0 1919.1 173.0 1920.3 181.7 1921.4 182.7 1922.6 184.7 1923.8 187.7 1924.9 190.8 1926.1 194.2 1927.3 197.8 1928.4 196.1 1929.6 199.5 1930.8 202.8 1931.9 204.6 1933.1 204.1 1934.2 210.2 1935.4 214.6 1936.6 217.3 1937.7 221.5 1938.9 226.4 1940.1 227.5 1941.2 229.8 1942.4 233.7 1943.6 241.1 1944.7 231.5 1945.9 236.6 1947.0 242.0 1948.2 242.0 1949.4 244.6 1950.5 245.2 1951.7 250.7 1952.9 251.0 1954.0 251.4 1955.2 258.7 1956.4 249.3 1957.5 260.0 1958.7 259.9 1959.8 265.4 1961.0 257.6 1962.2 263.5 1963.3 264.8 1964.5 259.7 1965.7 269.0 1966.8 277.6 1968.0 273.4 1969.2 266.1 1970.3 273.8 1971.5 277.1 1972.6 279.4 1973.8 276.8 1975.0 279.2 1976.1 274.9 1977.3 279.2 1978.5 280.2 1979.6 285.1 1980.8 280.7 1982.0 280.2 1983.1 283.3 1984.3 285.4 1985.4 281.0 1986.6 282.8 1987.8 283.9 1988.9 277.6 1990.1 276.7 1991.3 281.2 1992.4 287.2 1993.6 289.9 1994.8 291.0 1995.9 285.1 1997.1 284.0 1998.2 283.3 1999.4 287.6 2000.6 289.7 2001.7 290.6 2002.9 289.3 2004.1 288.9 2005.2 290.3 2006.4 291.7 2007.6 284.7 2008.7 288.8 2009.9 289.9 2011.0 286.0 2012.2 290.5 2013.4 292.9 2014.5 289.9 2015.7 286.8 2016.9 292.2 2018.0 290.4" stroke="#AE78DF"/>
</g>
<rect x="161" y="28.5" width="1978.5" height="1596.5" fill="none" stroke="#000" stroke-width="6"/>
<g stroke="#000" stroke-width="6">
<line x1="277.47" y1="1625" x2="277.47" y2="1655.3"/>
<line x1="626.56" y1="1625" x2="626.56" y2="1655.3"/>
<line x1="975.64" y1="1625" x2="975.64" y2="1655.3"/>
<line x1="1324.72" y1="1625" x2="1324.72" y2="1655.3"/>
<line x1="1673.81" y1="1625" x2="1673.81" y2="1655.3"/>
<line x1="2022.89" y1="1625" x2="2022.89" y2="1655.3"/>
<line x1="452.51" y1="1625" x2="452.51" y2="1639.5" stroke-width="5.7"/>
<line x1="801.60" y1="1625" x2="801.60" y2="1639.5" stroke-width="5.7"/>
<line x1="1150.68" y1="1625" x2="1150.68" y2="1639.5" stroke-width="5.7"/>
<line x1="1499.76" y1="1625" x2="1499.76" y2="1639.5" stroke-width="5.7"/>
<line x1="1848.85" y1="1625" x2="1848.85" y2="1639.5" stroke-width="5.7"/>
</g>
<g font-family="'Liberation Sans', Arial, sans-serif" fill="#000">
<text transform="translate(923.84 229.80) scale(1 1.040)" font-size="83.0" text-anchor="start">CBS, 240 h</text>
<text transform="translate(919.38 444.90) scale(1 1.040)" font-size="83.0" text-anchor="start">CBS, 200 h</text>
<text transform="translate(925.48 641.00) scale(1 1.040)" font-size="83.0" text-anchor="start">CBS, 150 h</text>
<text transform="translate(925.48 879.20) scale(1 1.040)" font-size="83.0" text-anchor="start">CBS, 50 h</text>
<text transform="translate(923.18 1087.40) scale(1 1.040)" font-size="83.0" text-anchor="start">CBS, 6 h</text>
<text transform="translate(778.93 1389.20) scale(1 1.040)" font-size="83.0" text-anchor="start">Activated CBS ref.</text>
<text transform="translate(277.47 1742.80) scale(1 1.040)" font-size="83.0" text-anchor="middle">300</text>
<text transform="translate(626.56 1742.80) scale(1 1.040)" font-size="83.0" text-anchor="middle">600</text>
<text transform="translate(975.64 1742.80) scale(1 1.040)" font-size="83.0" text-anchor="middle">900</text>
<text transform="translate(1324.72 1742.80) scale(1 1.040)" font-size="83.0" text-anchor="middle">1200</text>
<text transform="translate(1673.81 1742.80) scale(1 1.040)" font-size="83.0" text-anchor="middle">1500</text>
<text transform="translate(2022.89 1742.80) scale(1 1.040)" font-size="83.0" text-anchor="middle">1800</text>
<text transform="translate(717.11 1866.00) scale(1 1.040)" font-size="98.0" text-anchor="start">Wavenumber [cm</text>
<text transform="translate(1481.70 1824.40) scale(1 1.040)" font-size="67.0" text-anchor="start">–</text>
<text transform="translate(1520.21 1824.40) scale(1 1.040)" font-size="67.0" text-anchor="start">1</text>
<text transform="translate(1558.82 1866.00) scale(1 1.040)" font-size="98.0" text-anchor="start">]</text>
<text transform="translate(104.7 1131.72) rotate(-90) scale(1 1.040)" font-size="98.0">Intensity [a.u.]</text>
</g>
</svg>
</body></html>
